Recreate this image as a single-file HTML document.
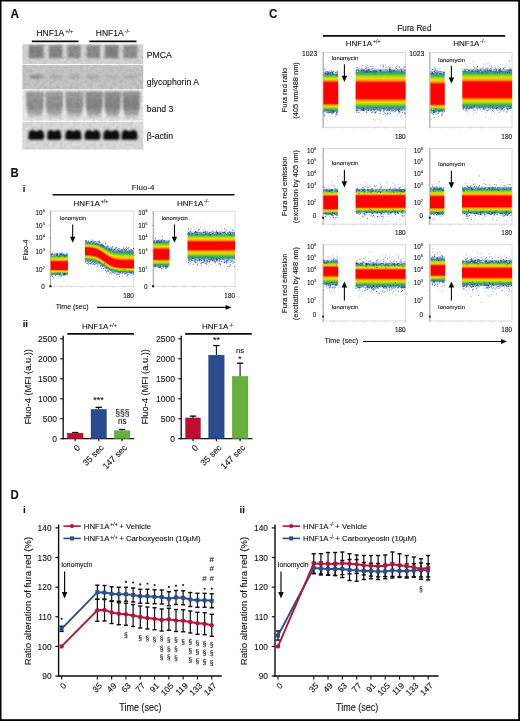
<!DOCTYPE html>
<html><head><meta charset="utf-8"><title>Figure</title>
<style>html,body{margin:0;padding:0;background:#fff;}svg{display:block;}
text{font-family:"Liberation Sans",sans-serif;}</style></head>
<body><svg width="520" height="721" viewBox="0 0 520 721" font-family="Liberation Sans, sans-serif">
<defs>
<linearGradient id="flow" x1="0" y1="0" x2="0" y2="1">
<stop offset="0" stop-color="#7088c8" stop-opacity="0.45"/>
<stop offset="0.05" stop-color="#3458a8" stop-opacity="0.8"/>
<stop offset="0.10" stop-color="#2a8a80"/>
<stop offset="0.15" stop-color="#3cbc3c"/>
<stop offset="0.20" stop-color="#a8d820"/>
<stop offset="0.24" stop-color="#f4e000"/>
<stop offset="0.28" stop-color="#ffa000"/>
<stop offset="0.32" stop-color="#ff3800"/>
<stop offset="0.36" stop-color="#ff0000"/>
<stop offset="0.63" stop-color="#ff0000"/>
<stop offset="0.68" stop-color="#ff4000"/>
<stop offset="0.72" stop-color="#ffa000"/>
<stop offset="0.77" stop-color="#f4e000"/>
<stop offset="0.82" stop-color="#a8d820"/>
<stop offset="0.87" stop-color="#3cbc3c"/>
<stop offset="0.92" stop-color="#2a8a80"/>
<stop offset="0.96" stop-color="#3458a8" stop-opacity="0.8"/>
<stop offset="1" stop-color="#7088c8" stop-opacity="0.45"/>
</linearGradient>
<linearGradient id="flowA" x1="0" y1="0" x2="0" y2="1">
<stop offset="0" stop-color="#7088c8" stop-opacity="0.45"/>
<stop offset="0.05" stop-color="#3458a8" stop-opacity="0.8"/>
<stop offset="0.09" stop-color="#2a8a80"/>
<stop offset="0.15" stop-color="#3cbc3c"/>
<stop offset="0.24" stop-color="#a8d820"/>
<stop offset="0.30" stop-color="#f4e000"/>
<stop offset="0.36" stop-color="#ffa000"/>
<stop offset="0.41" stop-color="#ff3800"/>
<stop offset="0.45" stop-color="#ff0000"/>
<stop offset="0.72" stop-color="#ff0000"/>
<stop offset="0.76" stop-color="#ff4000"/>
<stop offset="0.80" stop-color="#ffa000"/>
<stop offset="0.84" stop-color="#f4e000"/>
<stop offset="0.87" stop-color="#a8d820"/>
<stop offset="0.90" stop-color="#3cbc3c"/>
<stop offset="0.94" stop-color="#2a8a80"/>
<stop offset="0.97" stop-color="#3458a8" stop-opacity="0.8"/>
<stop offset="1" stop-color="#7088c8" stop-opacity="0.45"/>
</linearGradient>
<filter id="blur1" x="-20%" y="-20%" width="140%" height="140%"><feGaussianBlur stdDeviation="1.2"/></filter>
<filter id="blur2" x="-30%" y="-30%" width="160%" height="160%"><feGaussianBlur stdDeviation="2"/></filter>
<filter id="blur05"><feGaussianBlur stdDeviation="0.5"/></filter>
<filter id="noise" x="0" y="0" width="100%" height="100%"><feTurbulence type="fractalNoise" baseFrequency="0.3" numOctaves="2" seed="5"/><feColorMatrix type="matrix" values="0 0 0 0 0  0 0 0 0 0  0 0 0 0 0  0 0 1.4 0 -0.55"/><feGaussianBlur stdDeviation="0.35"/></filter>
<filter id="blur08" x="-20%" y="-40%" width="140%" height="180%"><feGaussianBlur stdDeviation="0.8"/></filter>
<linearGradient id="b3" x1="0" y1="0" x2="0" y2="1"><stop offset="0" stop-color="#a6a6a6"/><stop offset="0.2" stop-color="#989898"/><stop offset="0.55" stop-color="#8e8e8e"/><stop offset="0.75" stop-color="#a4a4a4"/><stop offset="0.9" stop-color="#cccccc"/><stop offset="1" stop-color="#e4e4e4"/></linearGradient>
<linearGradient id="b3d" x1="0" y1="0" x2="0" y2="1"><stop offset="0" stop-color="#9a9a9a"/><stop offset="0.2" stop-color="#8c8c8c"/><stop offset="0.55" stop-color="#828282"/><stop offset="0.75" stop-color="#9c9c9c"/><stop offset="0.9" stop-color="#c8c8c8"/><stop offset="1" stop-color="#e2e2e2"/></linearGradient>
<path id="sect" d="M575 1427Q769 1427 886.5 1356.5Q1004 1286 1031 1153L792 1128Q779 1190 722.0 1223.5Q665 1257 575 1257Q463 1257 410.5 1227.5Q358 1198 358 1133Q358 1092 385.0 1063.5Q412 1035 461.5 1013.5Q511 992 642 963Q810 925 890.5 884.0Q971 843 1013.5 782.0Q1056 721 1056 634Q1056 541 1001.0 469.5Q946 398 859 371Q1040 292 1040 115Q1040 -52 914.5 -140.5Q789 -229 556 -229Q333 -229 212.5 -159.5Q92 -90 53 59L290 96Q310 16 371.5 -21.5Q433 -59 556 -59Q678 -59 741.0 -26.5Q804 6 804 86Q804 134 780.0 164.0Q756 194 704.5 216.5Q653 239 468 283Q262 332 176.5 410.0Q91 488 91 600Q91 693 146.0 757.0Q201 821 304 856Q214 894 165.0 962.0Q116 1030 116 1114Q116 1263 233.5 1345.0Q351 1427 575 1427ZM818 600Q818 671 758.5 709.0Q699 747 526 780Q333 757 333 627Q333 586 360.0 558.5Q387 531 437.0 510.0Q487 489 623 458Q818 468 818 600Z"/>
<linearGradient id="g1" x1="0" y1="0" x2="0" y2="1"><stop offset="0.000" stop-color="#7088c8" stop-opacity="0.25"/><stop offset="0.047" stop-color="#3458a8" stop-opacity="0.6"/><stop offset="0.099" stop-color="#2a8a80" stop-opacity="0.92"/><stop offset="0.146" stop-color="#3cbc3c"/><stop offset="0.214" stop-color="#a8d820"/><stop offset="0.269" stop-color="#f0dc00"/><stop offset="0.332" stop-color="#ff9000"/><stop offset="0.372" stop-color="#ff3000"/><stop offset="0.396" stop-color="#ff0000"/><stop offset="0.733" stop-color="#ff0000"/><stop offset="0.749" stop-color="#ff3000"/><stop offset="0.776" stop-color="#ff9000"/><stop offset="0.819" stop-color="#f0dc00"/><stop offset="0.856" stop-color="#a8d820"/><stop offset="0.901" stop-color="#3cbc3c"/><stop offset="0.933" stop-color="#2a8a80" stop-opacity="0.92"/><stop offset="0.968" stop-color="#3458a8" stop-opacity="0.6"/><stop offset="1.000" stop-color="#7088c8" stop-opacity="0.25"/></linearGradient>
<linearGradient id="gs1" x1="0" y1="0" x2="0" y2="1"><stop offset="0.000" stop-color="#7088c8" stop-opacity="0.25"/><stop offset="0.039" stop-color="#3458a8" stop-opacity="0.6"/><stop offset="0.081" stop-color="#2a8a80" stop-opacity="0.92"/><stop offset="0.120" stop-color="#3cbc3c"/><stop offset="0.175" stop-color="#a8d820"/><stop offset="0.220" stop-color="#f0dc00"/><stop offset="0.272" stop-color="#ff9000"/><stop offset="0.305" stop-color="#ff3000"/><stop offset="0.324" stop-color="#ff0000"/><stop offset="0.649" stop-color="#ff0000"/><stop offset="0.670" stop-color="#ff3000"/><stop offset="0.705" stop-color="#ff9000"/><stop offset="0.762" stop-color="#f0dc00"/><stop offset="0.811" stop-color="#a8d820"/><stop offset="0.870" stop-color="#3cbc3c"/><stop offset="0.912" stop-color="#2a8a80" stop-opacity="0.92"/><stop offset="0.958" stop-color="#3458a8" stop-opacity="0.6"/><stop offset="1.000" stop-color="#7088c8" stop-opacity="0.25"/></linearGradient>
<linearGradient id="gs2" x1="0" y1="0" x2="0" y2="1"><stop offset="0.000" stop-color="#7088c8" stop-opacity="0.25"/><stop offset="0.041" stop-color="#3458a8" stop-opacity="0.6"/><stop offset="0.085" stop-color="#2a8a80" stop-opacity="0.92"/><stop offset="0.126" stop-color="#3cbc3c"/><stop offset="0.184" stop-color="#a8d820"/><stop offset="0.231" stop-color="#f0dc00"/><stop offset="0.286" stop-color="#ff9000"/><stop offset="0.320" stop-color="#ff3000"/><stop offset="0.340" stop-color="#ff0000"/><stop offset="0.658" stop-color="#ff0000"/><stop offset="0.679" stop-color="#ff3000"/><stop offset="0.713" stop-color="#ff9000"/><stop offset="0.768" stop-color="#f0dc00"/><stop offset="0.815" stop-color="#a8d820"/><stop offset="0.874" stop-color="#3cbc3c"/><stop offset="0.915" stop-color="#2a8a80" stop-opacity="0.92"/><stop offset="0.959" stop-color="#3458a8" stop-opacity="0.6"/><stop offset="1.000" stop-color="#7088c8" stop-opacity="0.25"/></linearGradient>
<linearGradient id="gs3" x1="0" y1="0" x2="0" y2="1"><stop offset="0.000" stop-color="#7088c8" stop-opacity="0.25"/><stop offset="0.038" stop-color="#3458a8" stop-opacity="0.6"/><stop offset="0.078" stop-color="#2a8a80" stop-opacity="0.92"/><stop offset="0.116" stop-color="#3cbc3c"/><stop offset="0.169" stop-color="#a8d820"/><stop offset="0.213" stop-color="#f0dc00"/><stop offset="0.263" stop-color="#ff9000"/><stop offset="0.294" stop-color="#ff3000"/><stop offset="0.313" stop-color="#ff0000"/><stop offset="0.632" stop-color="#ff0000"/><stop offset="0.654" stop-color="#ff3000"/><stop offset="0.691" stop-color="#ff9000"/><stop offset="0.750" stop-color="#f0dc00"/><stop offset="0.801" stop-color="#a8d820"/><stop offset="0.864" stop-color="#3cbc3c"/><stop offset="0.908" stop-color="#2a8a80" stop-opacity="0.92"/><stop offset="0.956" stop-color="#3458a8" stop-opacity="0.6"/><stop offset="1.000" stop-color="#7088c8" stop-opacity="0.25"/></linearGradient>
<linearGradient id="gs4" x1="0" y1="0" x2="0" y2="1"><stop offset="0.000" stop-color="#7088c8" stop-opacity="0.25"/><stop offset="0.040" stop-color="#3458a8" stop-opacity="0.6"/><stop offset="0.083" stop-color="#2a8a80" stop-opacity="0.92"/><stop offset="0.123" stop-color="#3cbc3c"/><stop offset="0.180" stop-color="#a8d820"/><stop offset="0.226" stop-color="#f0dc00"/><stop offset="0.280" stop-color="#ff9000"/><stop offset="0.313" stop-color="#ff3000"/><stop offset="0.333" stop-color="#ff0000"/><stop offset="0.642" stop-color="#ff0000"/><stop offset="0.664" stop-color="#ff3000"/><stop offset="0.700" stop-color="#ff9000"/><stop offset="0.757" stop-color="#f0dc00"/><stop offset="0.807" stop-color="#a8d820"/><stop offset="0.868" stop-color="#3cbc3c"/><stop offset="0.911" stop-color="#2a8a80" stop-opacity="0.92"/><stop offset="0.957" stop-color="#3458a8" stop-opacity="0.6"/><stop offset="1.000" stop-color="#7088c8" stop-opacity="0.25"/></linearGradient>
<linearGradient id="gs5" x1="0" y1="0" x2="0" y2="1"><stop offset="0.000" stop-color="#7088c8" stop-opacity="0.25"/><stop offset="0.038" stop-color="#3458a8" stop-opacity="0.6"/><stop offset="0.079" stop-color="#2a8a80" stop-opacity="0.92"/><stop offset="0.116" stop-color="#3cbc3c"/><stop offset="0.170" stop-color="#a8d820"/><stop offset="0.214" stop-color="#f0dc00"/><stop offset="0.264" stop-color="#ff9000"/><stop offset="0.296" stop-color="#ff3000"/><stop offset="0.314" stop-color="#ff0000"/><stop offset="0.636" stop-color="#ff0000"/><stop offset="0.658" stop-color="#ff3000"/><stop offset="0.694" stop-color="#ff9000"/><stop offset="0.752" stop-color="#f0dc00"/><stop offset="0.803" stop-color="#a8d820"/><stop offset="0.865" stop-color="#3cbc3c"/><stop offset="0.909" stop-color="#2a8a80" stop-opacity="0.92"/><stop offset="0.956" stop-color="#3458a8" stop-opacity="0.6"/><stop offset="1.000" stop-color="#7088c8" stop-opacity="0.25"/></linearGradient>
<linearGradient id="gs6" x1="0" y1="0" x2="0" y2="1"><stop offset="0.000" stop-color="#7088c8" stop-opacity="0.25"/><stop offset="0.040" stop-color="#3458a8" stop-opacity="0.6"/><stop offset="0.083" stop-color="#2a8a80" stop-opacity="0.92"/><stop offset="0.123" stop-color="#3cbc3c"/><stop offset="0.180" stop-color="#a8d820"/><stop offset="0.227" stop-color="#f0dc00"/><stop offset="0.280" stop-color="#ff9000"/><stop offset="0.314" stop-color="#ff3000"/><stop offset="0.334" stop-color="#ff0000"/><stop offset="0.648" stop-color="#ff0000"/><stop offset="0.669" stop-color="#ff3000"/><stop offset="0.705" stop-color="#ff9000"/><stop offset="0.761" stop-color="#f0dc00"/><stop offset="0.810" stop-color="#a8d820"/><stop offset="0.870" stop-color="#3cbc3c"/><stop offset="0.912" stop-color="#2a8a80" stop-opacity="0.92"/><stop offset="0.958" stop-color="#3458a8" stop-opacity="0.6"/><stop offset="1.000" stop-color="#7088c8" stop-opacity="0.25"/></linearGradient>
<linearGradient id="gs7" x1="0" y1="0" x2="0" y2="1"><stop offset="0.000" stop-color="#7088c8" stop-opacity="0.25"/><stop offset="0.042" stop-color="#3458a8" stop-opacity="0.6"/><stop offset="0.087" stop-color="#2a8a80" stop-opacity="0.92"/><stop offset="0.129" stop-color="#3cbc3c"/><stop offset="0.188" stop-color="#a8d820"/><stop offset="0.236" stop-color="#f0dc00"/><stop offset="0.292" stop-color="#ff9000"/><stop offset="0.327" stop-color="#ff3000"/><stop offset="0.348" stop-color="#ff0000"/><stop offset="0.666" stop-color="#ff0000"/><stop offset="0.686" stop-color="#ff3000"/><stop offset="0.719" stop-color="#ff9000"/><stop offset="0.773" stop-color="#f0dc00"/><stop offset="0.820" stop-color="#a8d820"/><stop offset="0.876" stop-color="#3cbc3c"/><stop offset="0.916" stop-color="#2a8a80" stop-opacity="0.92"/><stop offset="0.960" stop-color="#3458a8" stop-opacity="0.6"/><stop offset="1.000" stop-color="#7088c8" stop-opacity="0.25"/></linearGradient>
<linearGradient id="gs8" x1="0" y1="0" x2="0" y2="1"><stop offset="0.000" stop-color="#7088c8" stop-opacity="0.25"/><stop offset="0.038" stop-color="#3458a8" stop-opacity="0.6"/><stop offset="0.080" stop-color="#2a8a80" stop-opacity="0.92"/><stop offset="0.118" stop-color="#3cbc3c"/><stop offset="0.173" stop-color="#a8d820"/><stop offset="0.218" stop-color="#f0dc00"/><stop offset="0.269" stop-color="#ff9000"/><stop offset="0.301" stop-color="#ff3000"/><stop offset="0.320" stop-color="#ff0000"/><stop offset="0.640" stop-color="#ff0000"/><stop offset="0.662" stop-color="#ff3000"/><stop offset="0.698" stop-color="#ff9000"/><stop offset="0.755" stop-color="#f0dc00"/><stop offset="0.806" stop-color="#a8d820"/><stop offset="0.867" stop-color="#3cbc3c"/><stop offset="0.910" stop-color="#2a8a80" stop-opacity="0.92"/><stop offset="0.957" stop-color="#3458a8" stop-opacity="0.6"/><stop offset="1.000" stop-color="#7088c8" stop-opacity="0.25"/></linearGradient>
<linearGradient id="gs9" x1="0" y1="0" x2="0" y2="1"><stop offset="0.000" stop-color="#7088c8" stop-opacity="0.25"/><stop offset="0.040" stop-color="#3458a8" stop-opacity="0.6"/><stop offset="0.083" stop-color="#2a8a80" stop-opacity="0.92"/><stop offset="0.122" stop-color="#3cbc3c"/><stop offset="0.178" stop-color="#a8d820"/><stop offset="0.225" stop-color="#f0dc00"/><stop offset="0.277" stop-color="#ff9000"/><stop offset="0.311" stop-color="#ff3000"/><stop offset="0.330" stop-color="#ff0000"/><stop offset="0.641" stop-color="#ff0000"/><stop offset="0.663" stop-color="#ff3000"/><stop offset="0.698" stop-color="#ff9000"/><stop offset="0.756" stop-color="#f0dc00"/><stop offset="0.806" stop-color="#a8d820"/><stop offset="0.867" stop-color="#3cbc3c"/><stop offset="0.910" stop-color="#2a8a80" stop-opacity="0.92"/><stop offset="0.957" stop-color="#3458a8" stop-opacity="0.6"/><stop offset="1.000" stop-color="#7088c8" stop-opacity="0.25"/></linearGradient>
<linearGradient id="gs10" x1="0" y1="0" x2="0" y2="1"><stop offset="0.000" stop-color="#7088c8" stop-opacity="0.25"/><stop offset="0.040" stop-color="#3458a8" stop-opacity="0.6"/><stop offset="0.084" stop-color="#2a8a80" stop-opacity="0.92"/><stop offset="0.124" stop-color="#3cbc3c"/><stop offset="0.182" stop-color="#a8d820"/><stop offset="0.229" stop-color="#f0dc00"/><stop offset="0.283" stop-color="#ff9000"/><stop offset="0.316" stop-color="#ff3000"/><stop offset="0.336" stop-color="#ff0000"/><stop offset="0.646" stop-color="#ff0000"/><stop offset="0.667" stop-color="#ff3000"/><stop offset="0.703" stop-color="#ff9000"/><stop offset="0.759" stop-color="#f0dc00"/><stop offset="0.809" stop-color="#a8d820"/><stop offset="0.869" stop-color="#3cbc3c"/><stop offset="0.912" stop-color="#2a8a80" stop-opacity="0.92"/><stop offset="0.958" stop-color="#3458a8" stop-opacity="0.6"/><stop offset="1.000" stop-color="#7088c8" stop-opacity="0.25"/></linearGradient>
<linearGradient id="gs11" x1="0" y1="0" x2="0" y2="1"><stop offset="0.000" stop-color="#7088c8" stop-opacity="0.25"/><stop offset="0.041" stop-color="#3458a8" stop-opacity="0.6"/><stop offset="0.085" stop-color="#2a8a80" stop-opacity="0.92"/><stop offset="0.125" stop-color="#3cbc3c"/><stop offset="0.183" stop-color="#a8d820"/><stop offset="0.230" stop-color="#f0dc00"/><stop offset="0.284" stop-color="#ff9000"/><stop offset="0.318" stop-color="#ff3000"/><stop offset="0.339" stop-color="#ff0000"/><stop offset="0.660" stop-color="#ff0000"/><stop offset="0.680" stop-color="#ff3000"/><stop offset="0.714" stop-color="#ff9000"/><stop offset="0.769" stop-color="#f0dc00"/><stop offset="0.816" stop-color="#a8d820"/><stop offset="0.874" stop-color="#3cbc3c"/><stop offset="0.915" stop-color="#2a8a80" stop-opacity="0.92"/><stop offset="0.959" stop-color="#3458a8" stop-opacity="0.6"/><stop offset="1.000" stop-color="#7088c8" stop-opacity="0.25"/></linearGradient>
<linearGradient id="gs12" x1="0" y1="0" x2="0" y2="1"><stop offset="0.000" stop-color="#7088c8" stop-opacity="0.25"/><stop offset="0.043" stop-color="#3458a8" stop-opacity="0.6"/><stop offset="0.089" stop-color="#2a8a80" stop-opacity="0.92"/><stop offset="0.132" stop-color="#3cbc3c"/><stop offset="0.192" stop-color="#a8d820"/><stop offset="0.242" stop-color="#f0dc00"/><stop offset="0.299" stop-color="#ff9000"/><stop offset="0.335" stop-color="#ff3000"/><stop offset="0.356" stop-color="#ff0000"/><stop offset="0.669" stop-color="#ff0000"/><stop offset="0.688" stop-color="#ff3000"/><stop offset="0.722" stop-color="#ff9000"/><stop offset="0.775" stop-color="#f0dc00"/><stop offset="0.821" stop-color="#a8d820"/><stop offset="0.877" stop-color="#3cbc3c"/><stop offset="0.917" stop-color="#2a8a80" stop-opacity="0.92"/><stop offset="0.960" stop-color="#3458a8" stop-opacity="0.6"/><stop offset="1.000" stop-color="#7088c8" stop-opacity="0.25"/></linearGradient>
<linearGradient id="gs13" x1="0" y1="0" x2="0" y2="1"><stop offset="0.000" stop-color="#7088c8" stop-opacity="0.25"/><stop offset="0.043" stop-color="#3458a8" stop-opacity="0.6"/><stop offset="0.089" stop-color="#2a8a80" stop-opacity="0.92"/><stop offset="0.132" stop-color="#3cbc3c"/><stop offset="0.193" stop-color="#a8d820"/><stop offset="0.243" stop-color="#f0dc00"/><stop offset="0.300" stop-color="#ff9000"/><stop offset="0.336" stop-color="#ff3000"/><stop offset="0.358" stop-color="#ff0000"/><stop offset="0.665" stop-color="#ff0000"/><stop offset="0.685" stop-color="#ff3000"/><stop offset="0.719" stop-color="#ff9000"/><stop offset="0.772" stop-color="#f0dc00"/><stop offset="0.819" stop-color="#a8d820"/><stop offset="0.876" stop-color="#3cbc3c"/><stop offset="0.916" stop-color="#2a8a80" stop-opacity="0.92"/><stop offset="0.960" stop-color="#3458a8" stop-opacity="0.6"/><stop offset="1.000" stop-color="#7088c8" stop-opacity="0.25"/></linearGradient>
<linearGradient id="gs14" x1="0" y1="0" x2="0" y2="1"><stop offset="0.000" stop-color="#7088c8" stop-opacity="0.25"/><stop offset="0.044" stop-color="#3458a8" stop-opacity="0.6"/><stop offset="0.091" stop-color="#2a8a80" stop-opacity="0.92"/><stop offset="0.135" stop-color="#3cbc3c"/><stop offset="0.197" stop-color="#a8d820"/><stop offset="0.248" stop-color="#f0dc00"/><stop offset="0.307" stop-color="#ff9000"/><stop offset="0.343" stop-color="#ff3000"/><stop offset="0.365" stop-color="#ff0000"/><stop offset="0.673" stop-color="#ff0000"/><stop offset="0.693" stop-color="#ff3000"/><stop offset="0.726" stop-color="#ff9000"/><stop offset="0.778" stop-color="#f0dc00"/><stop offset="0.824" stop-color="#a8d820"/><stop offset="0.879" stop-color="#3cbc3c"/><stop offset="0.918" stop-color="#2a8a80" stop-opacity="0.92"/><stop offset="0.961" stop-color="#3458a8" stop-opacity="0.6"/><stop offset="1.000" stop-color="#7088c8" stop-opacity="0.25"/></linearGradient>
<linearGradient id="gs15" x1="0" y1="0" x2="0" y2="1"><stop offset="0.000" stop-color="#7088c8" stop-opacity="0.25"/><stop offset="0.044" stop-color="#3458a8" stop-opacity="0.6"/><stop offset="0.092" stop-color="#2a8a80" stop-opacity="0.92"/><stop offset="0.136" stop-color="#3cbc3c"/><stop offset="0.199" stop-color="#a8d820"/><stop offset="0.250" stop-color="#f0dc00"/><stop offset="0.309" stop-color="#ff9000"/><stop offset="0.346" stop-color="#ff3000"/><stop offset="0.368" stop-color="#ff0000"/><stop offset="0.668" stop-color="#ff0000"/><stop offset="0.688" stop-color="#ff3000"/><stop offset="0.721" stop-color="#ff9000"/><stop offset="0.774" stop-color="#f0dc00"/><stop offset="0.821" stop-color="#a8d820"/><stop offset="0.877" stop-color="#3cbc3c"/><stop offset="0.917" stop-color="#2a8a80" stop-opacity="0.92"/><stop offset="0.960" stop-color="#3458a8" stop-opacity="0.6"/><stop offset="1.000" stop-color="#7088c8" stop-opacity="0.25"/></linearGradient>
<linearGradient id="gs16" x1="0" y1="0" x2="0" y2="1"><stop offset="0.000" stop-color="#7088c8" stop-opacity="0.25"/><stop offset="0.045" stop-color="#3458a8" stop-opacity="0.6"/><stop offset="0.094" stop-color="#2a8a80" stop-opacity="0.92"/><stop offset="0.139" stop-color="#3cbc3c"/><stop offset="0.203" stop-color="#a8d820"/><stop offset="0.256" stop-color="#f0dc00"/><stop offset="0.316" stop-color="#ff9000"/><stop offset="0.354" stop-color="#ff3000"/><stop offset="0.377" stop-color="#ff0000"/><stop offset="0.682" stop-color="#ff0000"/><stop offset="0.701" stop-color="#ff3000"/><stop offset="0.733" stop-color="#ff9000"/><stop offset="0.784" stop-color="#f0dc00"/><stop offset="0.828" stop-color="#a8d820"/><stop offset="0.882" stop-color="#3cbc3c"/><stop offset="0.920" stop-color="#2a8a80" stop-opacity="0.92"/><stop offset="0.962" stop-color="#3458a8" stop-opacity="0.6"/><stop offset="1.000" stop-color="#7088c8" stop-opacity="0.25"/></linearGradient>
<linearGradient id="gs17" x1="0" y1="0" x2="0" y2="1"><stop offset="0.000" stop-color="#7088c8" stop-opacity="0.25"/><stop offset="0.045" stop-color="#3458a8" stop-opacity="0.6"/><stop offset="0.093" stop-color="#2a8a80" stop-opacity="0.92"/><stop offset="0.138" stop-color="#3cbc3c"/><stop offset="0.202" stop-color="#a8d820"/><stop offset="0.254" stop-color="#f0dc00"/><stop offset="0.314" stop-color="#ff9000"/><stop offset="0.351" stop-color="#ff3000"/><stop offset="0.373" stop-color="#ff0000"/><stop offset="0.674" stop-color="#ff0000"/><stop offset="0.693" stop-color="#ff3000"/><stop offset="0.726" stop-color="#ff9000"/><stop offset="0.778" stop-color="#f0dc00"/><stop offset="0.824" stop-color="#a8d820"/><stop offset="0.879" stop-color="#3cbc3c"/><stop offset="0.918" stop-color="#2a8a80" stop-opacity="0.92"/><stop offset="0.961" stop-color="#3458a8" stop-opacity="0.6"/><stop offset="1.000" stop-color="#7088c8" stop-opacity="0.25"/></linearGradient>
<linearGradient id="gs18" x1="0" y1="0" x2="0" y2="1"><stop offset="0.000" stop-color="#7088c8" stop-opacity="0.25"/><stop offset="0.046" stop-color="#3458a8" stop-opacity="0.6"/><stop offset="0.096" stop-color="#2a8a80" stop-opacity="0.92"/><stop offset="0.143" stop-color="#3cbc3c"/><stop offset="0.208" stop-color="#a8d820"/><stop offset="0.262" stop-color="#f0dc00"/><stop offset="0.324" stop-color="#ff9000"/><stop offset="0.362" stop-color="#ff3000"/><stop offset="0.385" stop-color="#ff0000"/><stop offset="0.682" stop-color="#ff0000"/><stop offset="0.701" stop-color="#ff3000"/><stop offset="0.733" stop-color="#ff9000"/><stop offset="0.784" stop-color="#f0dc00"/><stop offset="0.828" stop-color="#a8d820"/><stop offset="0.882" stop-color="#3cbc3c"/><stop offset="0.920" stop-color="#2a8a80" stop-opacity="0.92"/><stop offset="0.962" stop-color="#3458a8" stop-opacity="0.6"/><stop offset="1.000" stop-color="#7088c8" stop-opacity="0.25"/></linearGradient>
<linearGradient id="gs19" x1="0" y1="0" x2="0" y2="1"><stop offset="0.000" stop-color="#7088c8" stop-opacity="0.25"/><stop offset="0.048" stop-color="#3458a8" stop-opacity="0.6"/><stop offset="0.100" stop-color="#2a8a80" stop-opacity="0.92"/><stop offset="0.147" stop-color="#3cbc3c"/><stop offset="0.215" stop-color="#a8d820"/><stop offset="0.271" stop-color="#f0dc00"/><stop offset="0.334" stop-color="#ff9000"/><stop offset="0.374" stop-color="#ff3000"/><stop offset="0.398" stop-color="#ff0000"/><stop offset="0.697" stop-color="#ff0000"/><stop offset="0.715" stop-color="#ff3000"/><stop offset="0.746" stop-color="#ff9000"/><stop offset="0.794" stop-color="#f0dc00"/><stop offset="0.837" stop-color="#a8d820"/><stop offset="0.888" stop-color="#3cbc3c"/><stop offset="0.924" stop-color="#2a8a80" stop-opacity="0.92"/><stop offset="0.964" stop-color="#3458a8" stop-opacity="0.6"/><stop offset="1.000" stop-color="#7088c8" stop-opacity="0.25"/></linearGradient>
<linearGradient id="gs20" x1="0" y1="0" x2="0" y2="1"><stop offset="0.000" stop-color="#7088c8" stop-opacity="0.25"/><stop offset="0.050" stop-color="#3458a8" stop-opacity="0.6"/><stop offset="0.104" stop-color="#2a8a80" stop-opacity="0.92"/><stop offset="0.153" stop-color="#3cbc3c"/><stop offset="0.224" stop-color="#a8d820"/><stop offset="0.282" stop-color="#f0dc00"/><stop offset="0.348" stop-color="#ff9000"/><stop offset="0.389" stop-color="#ff3000"/><stop offset="0.414" stop-color="#ff0000"/><stop offset="0.717" stop-color="#ff0000"/><stop offset="0.734" stop-color="#ff3000"/><stop offset="0.762" stop-color="#ff9000"/><stop offset="0.808" stop-color="#f0dc00"/><stop offset="0.847" stop-color="#a8d820"/><stop offset="0.895" stop-color="#3cbc3c"/><stop offset="0.929" stop-color="#2a8a80" stop-opacity="0.92"/><stop offset="0.966" stop-color="#3458a8" stop-opacity="0.6"/><stop offset="1.000" stop-color="#7088c8" stop-opacity="0.25"/></linearGradient>
<linearGradient id="gs21" x1="0" y1="0" x2="0" y2="1"><stop offset="0.000" stop-color="#7088c8" stop-opacity="0.25"/><stop offset="0.051" stop-color="#3458a8" stop-opacity="0.6"/><stop offset="0.106" stop-color="#2a8a80" stop-opacity="0.92"/><stop offset="0.156" stop-color="#3cbc3c"/><stop offset="0.228" stop-color="#a8d820"/><stop offset="0.287" stop-color="#f0dc00"/><stop offset="0.355" stop-color="#ff9000"/><stop offset="0.397" stop-color="#ff3000"/><stop offset="0.423" stop-color="#ff0000"/><stop offset="0.720" stop-color="#ff0000"/><stop offset="0.737" stop-color="#ff3000"/><stop offset="0.765" stop-color="#ff9000"/><stop offset="0.810" stop-color="#f0dc00"/><stop offset="0.849" stop-color="#a8d820"/><stop offset="0.897" stop-color="#3cbc3c"/><stop offset="0.930" stop-color="#2a8a80" stop-opacity="0.92"/><stop offset="0.966" stop-color="#3458a8" stop-opacity="0.6"/><stop offset="1.000" stop-color="#7088c8" stop-opacity="0.25"/></linearGradient>
<linearGradient id="gs22" x1="0" y1="0" x2="0" y2="1"><stop offset="0.000" stop-color="#7088c8" stop-opacity="0.25"/><stop offset="0.052" stop-color="#3458a8" stop-opacity="0.6"/><stop offset="0.108" stop-color="#2a8a80" stop-opacity="0.92"/><stop offset="0.159" stop-color="#3cbc3c"/><stop offset="0.233" stop-color="#a8d820"/><stop offset="0.293" stop-color="#f0dc00"/><stop offset="0.362" stop-color="#ff9000"/><stop offset="0.405" stop-color="#ff3000"/><stop offset="0.431" stop-color="#ff0000"/><stop offset="0.715" stop-color="#ff0000"/><stop offset="0.733" stop-color="#ff3000"/><stop offset="0.761" stop-color="#ff9000"/><stop offset="0.807" stop-color="#f0dc00"/><stop offset="0.846" stop-color="#a8d820"/><stop offset="0.895" stop-color="#3cbc3c"/><stop offset="0.929" stop-color="#2a8a80" stop-opacity="0.92"/><stop offset="0.966" stop-color="#3458a8" stop-opacity="0.6"/><stop offset="1.000" stop-color="#7088c8" stop-opacity="0.25"/></linearGradient>
<linearGradient id="gs23" x1="0" y1="0" x2="0" y2="1"><stop offset="0.000" stop-color="#7088c8" stop-opacity="0.25"/><stop offset="0.053" stop-color="#3458a8" stop-opacity="0.6"/><stop offset="0.110" stop-color="#2a8a80" stop-opacity="0.92"/><stop offset="0.163" stop-color="#3cbc3c"/><stop offset="0.238" stop-color="#a8d820"/><stop offset="0.299" stop-color="#f0dc00"/><stop offset="0.370" stop-color="#ff9000"/><stop offset="0.414" stop-color="#ff3000"/><stop offset="0.440" stop-color="#ff0000"/><stop offset="0.728" stop-color="#ff0000"/><stop offset="0.744" stop-color="#ff3000"/><stop offset="0.771" stop-color="#ff9000"/><stop offset="0.815" stop-color="#f0dc00"/><stop offset="0.853" stop-color="#a8d820"/><stop offset="0.899" stop-color="#3cbc3c"/><stop offset="0.932" stop-color="#2a8a80" stop-opacity="0.92"/><stop offset="0.967" stop-color="#3458a8" stop-opacity="0.6"/><stop offset="1.000" stop-color="#7088c8" stop-opacity="0.25"/></linearGradient>
<linearGradient id="gs24" x1="0" y1="0" x2="0" y2="1"><stop offset="0.000" stop-color="#7088c8" stop-opacity="0.25"/><stop offset="0.052" stop-color="#3458a8" stop-opacity="0.6"/><stop offset="0.109" stop-color="#2a8a80" stop-opacity="0.92"/><stop offset="0.161" stop-color="#3cbc3c"/><stop offset="0.235" stop-color="#a8d820"/><stop offset="0.296" stop-color="#f0dc00"/><stop offset="0.366" stop-color="#ff9000"/><stop offset="0.409" stop-color="#ff3000"/><stop offset="0.435" stop-color="#ff0000"/><stop offset="0.726" stop-color="#ff0000"/><stop offset="0.742" stop-color="#ff3000"/><stop offset="0.770" stop-color="#ff9000"/><stop offset="0.814" stop-color="#f0dc00"/><stop offset="0.852" stop-color="#a8d820"/><stop offset="0.899" stop-color="#3cbc3c"/><stop offset="0.931" stop-color="#2a8a80" stop-opacity="0.92"/><stop offset="0.967" stop-color="#3458a8" stop-opacity="0.6"/><stop offset="1.000" stop-color="#7088c8" stop-opacity="0.25"/></linearGradient>
<linearGradient id="gs25" x1="0" y1="0" x2="0" y2="1"><stop offset="0.000" stop-color="#7088c8" stop-opacity="0.25"/><stop offset="0.054" stop-color="#3458a8" stop-opacity="0.6"/><stop offset="0.113" stop-color="#2a8a80" stop-opacity="0.92"/><stop offset="0.167" stop-color="#3cbc3c"/><stop offset="0.243" stop-color="#a8d820"/><stop offset="0.306" stop-color="#f0dc00"/><stop offset="0.378" stop-color="#ff9000"/><stop offset="0.423" stop-color="#ff3000"/><stop offset="0.450" stop-color="#ff0000"/><stop offset="0.736" stop-color="#ff0000"/><stop offset="0.751" stop-color="#ff3000"/><stop offset="0.778" stop-color="#ff9000"/><stop offset="0.820" stop-color="#f0dc00"/><stop offset="0.857" stop-color="#a8d820"/><stop offset="0.902" stop-color="#3cbc3c"/><stop offset="0.934" stop-color="#2a8a80" stop-opacity="0.92"/><stop offset="0.968" stop-color="#3458a8" stop-opacity="0.6"/><stop offset="1.000" stop-color="#7088c8" stop-opacity="0.25"/></linearGradient>
<linearGradient id="gs26" x1="0" y1="0" x2="0" y2="1"><stop offset="0.000" stop-color="#7088c8" stop-opacity="0.25"/><stop offset="0.054" stop-color="#3458a8" stop-opacity="0.6"/><stop offset="0.112" stop-color="#2a8a80" stop-opacity="0.92"/><stop offset="0.166" stop-color="#3cbc3c"/><stop offset="0.242" stop-color="#a8d820"/><stop offset="0.304" stop-color="#f0dc00"/><stop offset="0.376" stop-color="#ff9000"/><stop offset="0.421" stop-color="#ff3000"/><stop offset="0.448" stop-color="#ff0000"/><stop offset="0.731" stop-color="#ff0000"/><stop offset="0.747" stop-color="#ff3000"/><stop offset="0.774" stop-color="#ff9000"/><stop offset="0.817" stop-color="#f0dc00"/><stop offset="0.855" stop-color="#a8d820"/><stop offset="0.900" stop-color="#3cbc3c"/><stop offset="0.933" stop-color="#2a8a80" stop-opacity="0.92"/><stop offset="0.968" stop-color="#3458a8" stop-opacity="0.6"/><stop offset="1.000" stop-color="#7088c8" stop-opacity="0.25"/></linearGradient>
<linearGradient id="gs27" x1="0" y1="0" x2="0" y2="1"><stop offset="0.000" stop-color="#7088c8" stop-opacity="0.25"/><stop offset="0.056" stop-color="#3458a8" stop-opacity="0.6"/><stop offset="0.116" stop-color="#2a8a80" stop-opacity="0.92"/><stop offset="0.172" stop-color="#3cbc3c"/><stop offset="0.251" stop-color="#a8d820"/><stop offset="0.316" stop-color="#f0dc00"/><stop offset="0.390" stop-color="#ff9000"/><stop offset="0.436" stop-color="#ff3000"/><stop offset="0.464" stop-color="#ff0000"/><stop offset="0.744" stop-color="#ff0000"/><stop offset="0.760" stop-color="#ff3000"/><stop offset="0.785" stop-color="#ff9000"/><stop offset="0.826" stop-color="#f0dc00"/><stop offset="0.862" stop-color="#a8d820"/><stop offset="0.905" stop-color="#3cbc3c"/><stop offset="0.936" stop-color="#2a8a80" stop-opacity="0.92"/><stop offset="0.969" stop-color="#3458a8" stop-opacity="0.6"/><stop offset="1.000" stop-color="#7088c8" stop-opacity="0.25"/></linearGradient>
<linearGradient id="gs28" x1="0" y1="0" x2="0" y2="1"><stop offset="0.000" stop-color="#7088c8" stop-opacity="0.25"/><stop offset="0.056" stop-color="#3458a8" stop-opacity="0.6"/><stop offset="0.118" stop-color="#2a8a80" stop-opacity="0.92"/><stop offset="0.174" stop-color="#3cbc3c"/><stop offset="0.254" stop-color="#a8d820"/><stop offset="0.320" stop-color="#f0dc00"/><stop offset="0.395" stop-color="#ff9000"/><stop offset="0.442" stop-color="#ff3000"/><stop offset="0.470" stop-color="#ff0000"/><stop offset="0.753" stop-color="#ff0000"/><stop offset="0.768" stop-color="#ff3000"/><stop offset="0.793" stop-color="#ff9000"/><stop offset="0.832" stop-color="#f0dc00"/><stop offset="0.867" stop-color="#a8d820"/><stop offset="0.909" stop-color="#3cbc3c"/><stop offset="0.938" stop-color="#2a8a80" stop-opacity="0.92"/><stop offset="0.970" stop-color="#3458a8" stop-opacity="0.6"/><stop offset="1.000" stop-color="#7088c8" stop-opacity="0.25"/></linearGradient>
<linearGradient id="gs29" x1="0" y1="0" x2="0" y2="1"><stop offset="0.000" stop-color="#7088c8" stop-opacity="0.25"/><stop offset="0.055" stop-color="#3458a8" stop-opacity="0.6"/><stop offset="0.115" stop-color="#2a8a80" stop-opacity="0.92"/><stop offset="0.170" stop-color="#3cbc3c"/><stop offset="0.249" stop-color="#a8d820"/><stop offset="0.313" stop-color="#f0dc00"/><stop offset="0.387" stop-color="#ff9000"/><stop offset="0.433" stop-color="#ff3000"/><stop offset="0.461" stop-color="#ff0000"/><stop offset="0.746" stop-color="#ff0000"/><stop offset="0.761" stop-color="#ff3000"/><stop offset="0.786" stop-color="#ff9000"/><stop offset="0.827" stop-color="#f0dc00"/><stop offset="0.863" stop-color="#a8d820"/><stop offset="0.906" stop-color="#3cbc3c"/><stop offset="0.936" stop-color="#2a8a80" stop-opacity="0.92"/><stop offset="0.969" stop-color="#3458a8" stop-opacity="0.6"/><stop offset="1.000" stop-color="#7088c8" stop-opacity="0.25"/></linearGradient>
<linearGradient id="gs30" x1="0" y1="0" x2="0" y2="1"><stop offset="0.000" stop-color="#7088c8" stop-opacity="0.25"/><stop offset="0.056" stop-color="#3458a8" stop-opacity="0.6"/><stop offset="0.116" stop-color="#2a8a80" stop-opacity="0.92"/><stop offset="0.171" stop-color="#3cbc3c"/><stop offset="0.250" stop-color="#a8d820"/><stop offset="0.315" stop-color="#f0dc00"/><stop offset="0.389" stop-color="#ff9000"/><stop offset="0.436" stop-color="#ff3000"/><stop offset="0.463" stop-color="#ff0000"/><stop offset="0.743" stop-color="#ff0000"/><stop offset="0.759" stop-color="#ff3000"/><stop offset="0.784" stop-color="#ff9000"/><stop offset="0.825" stop-color="#f0dc00"/><stop offset="0.861" stop-color="#a8d820"/><stop offset="0.905" stop-color="#3cbc3c"/><stop offset="0.936" stop-color="#2a8a80" stop-opacity="0.92"/><stop offset="0.969" stop-color="#3458a8" stop-opacity="0.6"/><stop offset="1.000" stop-color="#7088c8" stop-opacity="0.25"/></linearGradient>
<linearGradient id="gs31" x1="0" y1="0" x2="0" y2="1"><stop offset="0.000" stop-color="#7088c8" stop-opacity="0.25"/><stop offset="0.056" stop-color="#3458a8" stop-opacity="0.6"/><stop offset="0.116" stop-color="#2a8a80" stop-opacity="0.92"/><stop offset="0.172" stop-color="#3cbc3c"/><stop offset="0.251" stop-color="#a8d820"/><stop offset="0.316" stop-color="#f0dc00"/><stop offset="0.390" stop-color="#ff9000"/><stop offset="0.437" stop-color="#ff3000"/><stop offset="0.464" stop-color="#ff0000"/><stop offset="0.750" stop-color="#ff0000"/><stop offset="0.765" stop-color="#ff3000"/><stop offset="0.790" stop-color="#ff9000"/><stop offset="0.830" stop-color="#f0dc00"/><stop offset="0.865" stop-color="#a8d820"/><stop offset="0.908" stop-color="#3cbc3c"/><stop offset="0.938" stop-color="#2a8a80" stop-opacity="0.92"/><stop offset="0.970" stop-color="#3458a8" stop-opacity="0.6"/><stop offset="1.000" stop-color="#7088c8" stop-opacity="0.25"/></linearGradient>
<linearGradient id="gs32" x1="0" y1="0" x2="0" y2="1"><stop offset="0.000" stop-color="#7088c8" stop-opacity="0.25"/><stop offset="0.057" stop-color="#3458a8" stop-opacity="0.6"/><stop offset="0.118" stop-color="#2a8a80" stop-opacity="0.92"/><stop offset="0.174" stop-color="#3cbc3c"/><stop offset="0.254" stop-color="#a8d820"/><stop offset="0.320" stop-color="#f0dc00"/><stop offset="0.396" stop-color="#ff9000"/><stop offset="0.443" stop-color="#ff3000"/><stop offset="0.471" stop-color="#ff0000"/><stop offset="0.752" stop-color="#ff0000"/><stop offset="0.767" stop-color="#ff3000"/><stop offset="0.792" stop-color="#ff9000"/><stop offset="0.832" stop-color="#f0dc00"/><stop offset="0.866" stop-color="#a8d820"/><stop offset="0.908" stop-color="#3cbc3c"/><stop offset="0.938" stop-color="#2a8a80" stop-opacity="0.92"/><stop offset="0.970" stop-color="#3458a8" stop-opacity="0.6"/><stop offset="1.000" stop-color="#7088c8" stop-opacity="0.25"/></linearGradient>
<linearGradient id="gs33" x1="0" y1="0" x2="0" y2="1"><stop offset="0.000" stop-color="#7088c8" stop-opacity="0.25"/><stop offset="0.057" stop-color="#3458a8" stop-opacity="0.6"/><stop offset="0.118" stop-color="#2a8a80" stop-opacity="0.92"/><stop offset="0.174" stop-color="#3cbc3c"/><stop offset="0.255" stop-color="#a8d820"/><stop offset="0.320" stop-color="#f0dc00"/><stop offset="0.396" stop-color="#ff9000"/><stop offset="0.443" stop-color="#ff3000"/><stop offset="0.471" stop-color="#ff0000"/><stop offset="0.750" stop-color="#ff0000"/><stop offset="0.765" stop-color="#ff3000"/><stop offset="0.790" stop-color="#ff9000"/><stop offset="0.830" stop-color="#f0dc00"/><stop offset="0.865" stop-color="#a8d820"/><stop offset="0.907" stop-color="#3cbc3c"/><stop offset="0.937" stop-color="#2a8a80" stop-opacity="0.92"/><stop offset="0.970" stop-color="#3458a8" stop-opacity="0.6"/><stop offset="1.000" stop-color="#7088c8" stop-opacity="0.25"/></linearGradient>
<linearGradient id="gs34" x1="0" y1="0" x2="0" y2="1"><stop offset="0.000" stop-color="#7088c8" stop-opacity="0.25"/><stop offset="0.057" stop-color="#3458a8" stop-opacity="0.6"/><stop offset="0.119" stop-color="#2a8a80" stop-opacity="0.92"/><stop offset="0.176" stop-color="#3cbc3c"/><stop offset="0.257" stop-color="#a8d820"/><stop offset="0.324" stop-color="#f0dc00"/><stop offset="0.400" stop-color="#ff9000"/><stop offset="0.448" stop-color="#ff3000"/><stop offset="0.476" stop-color="#ff0000"/><stop offset="0.755" stop-color="#ff0000"/><stop offset="0.770" stop-color="#ff3000"/><stop offset="0.794" stop-color="#ff9000"/><stop offset="0.834" stop-color="#f0dc00"/><stop offset="0.868" stop-color="#a8d820"/><stop offset="0.909" stop-color="#3cbc3c"/><stop offset="0.939" stop-color="#2a8a80" stop-opacity="0.92"/><stop offset="0.971" stop-color="#3458a8" stop-opacity="0.6"/><stop offset="1.000" stop-color="#7088c8" stop-opacity="0.25"/></linearGradient>
<linearGradient id="gs35" x1="0" y1="0" x2="0" y2="1"><stop offset="0.000" stop-color="#7088c8" stop-opacity="0.25"/><stop offset="0.056" stop-color="#3458a8" stop-opacity="0.6"/><stop offset="0.118" stop-color="#2a8a80" stop-opacity="0.92"/><stop offset="0.174" stop-color="#3cbc3c"/><stop offset="0.254" stop-color="#a8d820"/><stop offset="0.320" stop-color="#f0dc00"/><stop offset="0.395" stop-color="#ff9000"/><stop offset="0.442" stop-color="#ff3000"/><stop offset="0.470" stop-color="#ff0000"/><stop offset="0.745" stop-color="#ff0000"/><stop offset="0.761" stop-color="#ff3000"/><stop offset="0.786" stop-color="#ff9000"/><stop offset="0.827" stop-color="#f0dc00"/><stop offset="0.863" stop-color="#a8d820"/><stop offset="0.906" stop-color="#3cbc3c"/><stop offset="0.936" stop-color="#2a8a80" stop-opacity="0.92"/><stop offset="0.969" stop-color="#3458a8" stop-opacity="0.6"/><stop offset="1.000" stop-color="#7088c8" stop-opacity="0.25"/></linearGradient>
<linearGradient id="gs36" x1="0" y1="0" x2="0" y2="1"><stop offset="0.000" stop-color="#7088c8" stop-opacity="0.25"/><stop offset="0.056" stop-color="#3458a8" stop-opacity="0.6"/><stop offset="0.117" stop-color="#2a8a80" stop-opacity="0.92"/><stop offset="0.173" stop-color="#3cbc3c"/><stop offset="0.253" stop-color="#a8d820"/><stop offset="0.318" stop-color="#f0dc00"/><stop offset="0.393" stop-color="#ff9000"/><stop offset="0.440" stop-color="#ff3000"/><stop offset="0.468" stop-color="#ff0000"/><stop offset="0.746" stop-color="#ff0000"/><stop offset="0.761" stop-color="#ff3000"/><stop offset="0.787" stop-color="#ff9000"/><stop offset="0.827" stop-color="#f0dc00"/><stop offset="0.863" stop-color="#a8d820"/><stop offset="0.906" stop-color="#3cbc3c"/><stop offset="0.936" stop-color="#2a8a80" stop-opacity="0.92"/><stop offset="0.970" stop-color="#3458a8" stop-opacity="0.6"/><stop offset="1.000" stop-color="#7088c8" stop-opacity="0.25"/></linearGradient>
<linearGradient id="gs37" x1="0" y1="0" x2="0" y2="1"><stop offset="0.000" stop-color="#7088c8" stop-opacity="0.25"/><stop offset="0.057" stop-color="#3458a8" stop-opacity="0.6"/><stop offset="0.119" stop-color="#2a8a80" stop-opacity="0.92"/><stop offset="0.176" stop-color="#3cbc3c"/><stop offset="0.256" stop-color="#a8d820"/><stop offset="0.323" stop-color="#f0dc00"/><stop offset="0.399" stop-color="#ff9000"/><stop offset="0.446" stop-color="#ff3000"/><stop offset="0.474" stop-color="#ff0000"/><stop offset="0.760" stop-color="#ff0000"/><stop offset="0.775" stop-color="#ff3000"/><stop offset="0.799" stop-color="#ff9000"/><stop offset="0.837" stop-color="#f0dc00"/><stop offset="0.870" stop-color="#a8d820"/><stop offset="0.911" stop-color="#3cbc3c"/><stop offset="0.940" stop-color="#2a8a80" stop-opacity="0.92"/><stop offset="0.971" stop-color="#3458a8" stop-opacity="0.6"/><stop offset="1.000" stop-color="#7088c8" stop-opacity="0.25"/></linearGradient>
<linearGradient id="gs38" x1="0" y1="0" x2="0" y2="1"><stop offset="0.000" stop-color="#7088c8" stop-opacity="0.25"/><stop offset="0.056" stop-color="#3458a8" stop-opacity="0.6"/><stop offset="0.118" stop-color="#2a8a80" stop-opacity="0.92"/><stop offset="0.174" stop-color="#3cbc3c"/><stop offset="0.254" stop-color="#a8d820"/><stop offset="0.320" stop-color="#f0dc00"/><stop offset="0.395" stop-color="#ff9000"/><stop offset="0.443" stop-color="#ff3000"/><stop offset="0.471" stop-color="#ff0000"/><stop offset="0.746" stop-color="#ff0000"/><stop offset="0.761" stop-color="#ff3000"/><stop offset="0.787" stop-color="#ff9000"/><stop offset="0.827" stop-color="#f0dc00"/><stop offset="0.863" stop-color="#a8d820"/><stop offset="0.906" stop-color="#3cbc3c"/><stop offset="0.937" stop-color="#2a8a80" stop-opacity="0.92"/><stop offset="0.970" stop-color="#3458a8" stop-opacity="0.6"/><stop offset="1.000" stop-color="#7088c8" stop-opacity="0.25"/></linearGradient>
<linearGradient id="gs39" x1="0" y1="0" x2="0" y2="1"><stop offset="0.000" stop-color="#7088c8" stop-opacity="0.25"/><stop offset="0.058" stop-color="#3458a8" stop-opacity="0.6"/><stop offset="0.120" stop-color="#2a8a80" stop-opacity="0.92"/><stop offset="0.177" stop-color="#3cbc3c"/><stop offset="0.259" stop-color="#a8d820"/><stop offset="0.326" stop-color="#f0dc00"/><stop offset="0.403" stop-color="#ff9000"/><stop offset="0.451" stop-color="#ff3000"/><stop offset="0.479" stop-color="#ff0000"/><stop offset="0.765" stop-color="#ff0000"/><stop offset="0.779" stop-color="#ff3000"/><stop offset="0.803" stop-color="#ff9000"/><stop offset="0.840" stop-color="#f0dc00"/><stop offset="0.873" stop-color="#a8d820"/><stop offset="0.913" stop-color="#3cbc3c"/><stop offset="0.941" stop-color="#2a8a80" stop-opacity="0.92"/><stop offset="0.972" stop-color="#3458a8" stop-opacity="0.6"/><stop offset="1.000" stop-color="#7088c8" stop-opacity="0.25"/></linearGradient>
<linearGradient id="gs40" x1="0" y1="0" x2="0" y2="1"><stop offset="0.000" stop-color="#7088c8" stop-opacity="0.25"/><stop offset="0.058" stop-color="#3458a8" stop-opacity="0.6"/><stop offset="0.122" stop-color="#2a8a80" stop-opacity="0.92"/><stop offset="0.180" stop-color="#3cbc3c"/><stop offset="0.263" stop-color="#a8d820"/><stop offset="0.331" stop-color="#f0dc00"/><stop offset="0.409" stop-color="#ff9000"/><stop offset="0.458" stop-color="#ff3000"/><stop offset="0.487" stop-color="#ff0000"/><stop offset="0.763" stop-color="#ff0000"/><stop offset="0.777" stop-color="#ff3000"/><stop offset="0.801" stop-color="#ff9000"/><stop offset="0.839" stop-color="#f0dc00"/><stop offset="0.872" stop-color="#a8d820"/><stop offset="0.912" stop-color="#3cbc3c"/><stop offset="0.941" stop-color="#2a8a80" stop-opacity="0.92"/><stop offset="0.972" stop-color="#3458a8" stop-opacity="0.6"/><stop offset="1.000" stop-color="#7088c8" stop-opacity="0.25"/></linearGradient>
<linearGradient id="gs41" x1="0" y1="0" x2="0" y2="1"><stop offset="0.000" stop-color="#7088c8" stop-opacity="0.25"/><stop offset="0.059" stop-color="#3458a8" stop-opacity="0.6"/><stop offset="0.123" stop-color="#2a8a80" stop-opacity="0.92"/><stop offset="0.182" stop-color="#3cbc3c"/><stop offset="0.265" stop-color="#a8d820"/><stop offset="0.334" stop-color="#f0dc00"/><stop offset="0.413" stop-color="#ff9000"/><stop offset="0.462" stop-color="#ff3000"/><stop offset="0.492" stop-color="#ff0000"/><stop offset="0.769" stop-color="#ff0000"/><stop offset="0.783" stop-color="#ff3000"/><stop offset="0.806" stop-color="#ff9000"/><stop offset="0.843" stop-color="#f0dc00"/><stop offset="0.875" stop-color="#a8d820"/><stop offset="0.914" stop-color="#3cbc3c"/><stop offset="0.942" stop-color="#2a8a80" stop-opacity="0.92"/><stop offset="0.972" stop-color="#3458a8" stop-opacity="0.6"/><stop offset="1.000" stop-color="#7088c8" stop-opacity="0.25"/></linearGradient>
<linearGradient id="gs42" x1="0" y1="0" x2="0" y2="1"><stop offset="0.000" stop-color="#7088c8" stop-opacity="0.25"/><stop offset="0.058" stop-color="#3458a8" stop-opacity="0.6"/><stop offset="0.121" stop-color="#2a8a80" stop-opacity="0.92"/><stop offset="0.179" stop-color="#3cbc3c"/><stop offset="0.262" stop-color="#a8d820"/><stop offset="0.330" stop-color="#f0dc00"/><stop offset="0.407" stop-color="#ff9000"/><stop offset="0.456" stop-color="#ff3000"/><stop offset="0.485" stop-color="#ff0000"/><stop offset="0.758" stop-color="#ff0000"/><stop offset="0.773" stop-color="#ff3000"/><stop offset="0.797" stop-color="#ff9000"/><stop offset="0.835" stop-color="#f0dc00"/><stop offset="0.869" stop-color="#a8d820"/><stop offset="0.910" stop-color="#3cbc3c"/><stop offset="0.940" stop-color="#2a8a80" stop-opacity="0.92"/><stop offset="0.971" stop-color="#3458a8" stop-opacity="0.6"/><stop offset="1.000" stop-color="#7088c8" stop-opacity="0.25"/></linearGradient>
<linearGradient id="gs43" x1="0" y1="0" x2="0" y2="1"><stop offset="0.000" stop-color="#7088c8" stop-opacity="0.25"/><stop offset="0.056" stop-color="#3458a8" stop-opacity="0.6"/><stop offset="0.117" stop-color="#2a8a80" stop-opacity="0.92"/><stop offset="0.174" stop-color="#3cbc3c"/><stop offset="0.253" stop-color="#a8d820"/><stop offset="0.319" stop-color="#f0dc00"/><stop offset="0.394" stop-color="#ff9000"/><stop offset="0.441" stop-color="#ff3000"/><stop offset="0.469" stop-color="#ff0000"/><stop offset="0.747" stop-color="#ff0000"/><stop offset="0.762" stop-color="#ff3000"/><stop offset="0.787" stop-color="#ff9000"/><stop offset="0.828" stop-color="#f0dc00"/><stop offset="0.863" stop-color="#a8d820"/><stop offset="0.906" stop-color="#3cbc3c"/><stop offset="0.937" stop-color="#2a8a80" stop-opacity="0.92"/><stop offset="0.970" stop-color="#3458a8" stop-opacity="0.6"/><stop offset="1.000" stop-color="#7088c8" stop-opacity="0.25"/></linearGradient>
<linearGradient id="gs44" x1="0" y1="0" x2="0" y2="1"><stop offset="0.000" stop-color="#7088c8" stop-opacity="0.25"/><stop offset="0.058" stop-color="#3458a8" stop-opacity="0.6"/><stop offset="0.121" stop-color="#2a8a80" stop-opacity="0.92"/><stop offset="0.179" stop-color="#3cbc3c"/><stop offset="0.261" stop-color="#a8d820"/><stop offset="0.328" stop-color="#f0dc00"/><stop offset="0.406" stop-color="#ff9000"/><stop offset="0.454" stop-color="#ff3000"/><stop offset="0.483" stop-color="#ff0000"/><stop offset="0.756" stop-color="#ff0000"/><stop offset="0.771" stop-color="#ff3000"/><stop offset="0.795" stop-color="#ff9000"/><stop offset="0.834" stop-color="#f0dc00"/><stop offset="0.868" stop-color="#a8d820"/><stop offset="0.910" stop-color="#3cbc3c"/><stop offset="0.939" stop-color="#2a8a80" stop-opacity="0.92"/><stop offset="0.971" stop-color="#3458a8" stop-opacity="0.6"/><stop offset="1.000" stop-color="#7088c8" stop-opacity="0.25"/></linearGradient>
<linearGradient id="gs45" x1="0" y1="0" x2="0" y2="1"><stop offset="0.000" stop-color="#7088c8" stop-opacity="0.25"/><stop offset="0.058" stop-color="#3458a8" stop-opacity="0.6"/><stop offset="0.121" stop-color="#2a8a80" stop-opacity="0.92"/><stop offset="0.179" stop-color="#3cbc3c"/><stop offset="0.261" stop-color="#a8d820"/><stop offset="0.329" stop-color="#f0dc00"/><stop offset="0.406" stop-color="#ff9000"/><stop offset="0.455" stop-color="#ff3000"/><stop offset="0.484" stop-color="#ff0000"/><stop offset="0.767" stop-color="#ff0000"/><stop offset="0.781" stop-color="#ff3000"/><stop offset="0.804" stop-color="#ff9000"/><stop offset="0.842" stop-color="#f0dc00"/><stop offset="0.874" stop-color="#a8d820"/><stop offset="0.914" stop-color="#3cbc3c"/><stop offset="0.942" stop-color="#2a8a80" stop-opacity="0.92"/><stop offset="0.972" stop-color="#3458a8" stop-opacity="0.6"/><stop offset="1.000" stop-color="#7088c8" stop-opacity="0.25"/></linearGradient>
<linearGradient id="gs46" x1="0" y1="0" x2="0" y2="1"><stop offset="0.000" stop-color="#7088c8" stop-opacity="0.25"/><stop offset="0.056" stop-color="#3458a8" stop-opacity="0.6"/><stop offset="0.117" stop-color="#2a8a80" stop-opacity="0.92"/><stop offset="0.173" stop-color="#3cbc3c"/><stop offset="0.252" stop-color="#a8d820"/><stop offset="0.317" stop-color="#f0dc00"/><stop offset="0.392" stop-color="#ff9000"/><stop offset="0.438" stop-color="#ff3000"/><stop offset="0.466" stop-color="#ff0000"/><stop offset="0.744" stop-color="#ff0000"/><stop offset="0.760" stop-color="#ff3000"/><stop offset="0.785" stop-color="#ff9000"/><stop offset="0.826" stop-color="#f0dc00"/><stop offset="0.862" stop-color="#a8d820"/><stop offset="0.905" stop-color="#3cbc3c"/><stop offset="0.936" stop-color="#2a8a80" stop-opacity="0.92"/><stop offset="0.969" stop-color="#3458a8" stop-opacity="0.6"/><stop offset="1.000" stop-color="#7088c8" stop-opacity="0.25"/></linearGradient>
<linearGradient id="gs47" x1="0" y1="0" x2="0" y2="1"><stop offset="0.000" stop-color="#7088c8" stop-opacity="0.25"/><stop offset="0.057" stop-color="#3458a8" stop-opacity="0.6"/><stop offset="0.120" stop-color="#2a8a80" stop-opacity="0.92"/><stop offset="0.177" stop-color="#3cbc3c"/><stop offset="0.258" stop-color="#a8d820"/><stop offset="0.325" stop-color="#f0dc00"/><stop offset="0.402" stop-color="#ff9000"/><stop offset="0.450" stop-color="#ff3000"/><stop offset="0.478" stop-color="#ff0000"/><stop offset="0.750" stop-color="#ff0000"/><stop offset="0.765" stop-color="#ff3000"/><stop offset="0.790" stop-color="#ff9000"/><stop offset="0.830" stop-color="#f0dc00"/><stop offset="0.865" stop-color="#a8d820"/><stop offset="0.908" stop-color="#3cbc3c"/><stop offset="0.938" stop-color="#2a8a80" stop-opacity="0.92"/><stop offset="0.970" stop-color="#3458a8" stop-opacity="0.6"/><stop offset="1.000" stop-color="#7088c8" stop-opacity="0.25"/></linearGradient>
<linearGradient id="gs48" x1="0" y1="0" x2="0" y2="1"><stop offset="0.000" stop-color="#7088c8" stop-opacity="0.25"/><stop offset="0.058" stop-color="#3458a8" stop-opacity="0.6"/><stop offset="0.121" stop-color="#2a8a80" stop-opacity="0.92"/><stop offset="0.179" stop-color="#3cbc3c"/><stop offset="0.261" stop-color="#a8d820"/><stop offset="0.328" stop-color="#f0dc00"/><stop offset="0.406" stop-color="#ff9000"/><stop offset="0.454" stop-color="#ff3000"/><stop offset="0.483" stop-color="#ff0000"/><stop offset="0.760" stop-color="#ff0000"/><stop offset="0.775" stop-color="#ff3000"/><stop offset="0.799" stop-color="#ff9000"/><stop offset="0.837" stop-color="#f0dc00"/><stop offset="0.871" stop-color="#a8d820"/><stop offset="0.911" stop-color="#3cbc3c"/><stop offset="0.940" stop-color="#2a8a80" stop-opacity="0.92"/><stop offset="0.971" stop-color="#3458a8" stop-opacity="0.6"/><stop offset="1.000" stop-color="#7088c8" stop-opacity="0.25"/></linearGradient>
<linearGradient id="gs49" x1="0" y1="0" x2="0" y2="1"><stop offset="0.000" stop-color="#7088c8" stop-opacity="0.25"/><stop offset="0.056" stop-color="#3458a8" stop-opacity="0.6"/><stop offset="0.117" stop-color="#2a8a80" stop-opacity="0.92"/><stop offset="0.173" stop-color="#3cbc3c"/><stop offset="0.252" stop-color="#a8d820"/><stop offset="0.317" stop-color="#f0dc00"/><stop offset="0.392" stop-color="#ff9000"/><stop offset="0.439" stop-color="#ff3000"/><stop offset="0.467" stop-color="#ff0000"/><stop offset="0.747" stop-color="#ff0000"/><stop offset="0.762" stop-color="#ff3000"/><stop offset="0.787" stop-color="#ff9000"/><stop offset="0.828" stop-color="#f0dc00"/><stop offset="0.863" stop-color="#a8d820"/><stop offset="0.906" stop-color="#3cbc3c"/><stop offset="0.937" stop-color="#2a8a80" stop-opacity="0.92"/><stop offset="0.970" stop-color="#3458a8" stop-opacity="0.6"/><stop offset="1.000" stop-color="#7088c8" stop-opacity="0.25"/></linearGradient>
<linearGradient id="g2" x1="0" y1="0" x2="0" y2="1"><stop offset="0.000" stop-color="#7088c8" stop-opacity="0.25"/><stop offset="0.044" stop-color="#3458a8" stop-opacity="0.6"/><stop offset="0.091" stop-color="#2a8a80" stop-opacity="0.92"/><stop offset="0.135" stop-color="#3cbc3c"/><stop offset="0.197" stop-color="#a8d820"/><stop offset="0.248" stop-color="#f0dc00"/><stop offset="0.306" stop-color="#ff9000"/><stop offset="0.342" stop-color="#ff3000"/><stop offset="0.364" stop-color="#ff0000"/><stop offset="0.700" stop-color="#ff0000"/><stop offset="0.718" stop-color="#ff3000"/><stop offset="0.748" stop-color="#ff9000"/><stop offset="0.796" stop-color="#f0dc00"/><stop offset="0.838" stop-color="#a8d820"/><stop offset="0.889" stop-color="#3cbc3c"/><stop offset="0.925" stop-color="#2a8a80" stop-opacity="0.92"/><stop offset="0.964" stop-color="#3458a8" stop-opacity="0.6"/><stop offset="1.000" stop-color="#7088c8" stop-opacity="0.25"/></linearGradient>
<linearGradient id="g3" x1="0" y1="0" x2="0" y2="1"><stop offset="0.000" stop-color="#7088c8" stop-opacity="0.25"/><stop offset="0.045" stop-color="#3458a8" stop-opacity="0.6"/><stop offset="0.093" stop-color="#2a8a80" stop-opacity="0.92"/><stop offset="0.138" stop-color="#3cbc3c"/><stop offset="0.202" stop-color="#a8d820"/><stop offset="0.254" stop-color="#f0dc00"/><stop offset="0.314" stop-color="#ff9000"/><stop offset="0.351" stop-color="#ff3000"/><stop offset="0.373" stop-color="#ff0000"/><stop offset="0.610" stop-color="#ff0000"/><stop offset="0.633" stop-color="#ff3000"/><stop offset="0.672" stop-color="#ff9000"/><stop offset="0.735" stop-color="#f0dc00"/><stop offset="0.789" stop-color="#a8d820"/><stop offset="0.856" stop-color="#3cbc3c"/><stop offset="0.902" stop-color="#2a8a80" stop-opacity="0.92"/><stop offset="0.953" stop-color="#3458a8" stop-opacity="0.6"/><stop offset="1.000" stop-color="#7088c8" stop-opacity="0.25"/></linearGradient>
<linearGradient id="g4" x1="0" y1="0" x2="0" y2="1"><stop offset="0.000" stop-color="#7088c8" stop-opacity="0.25"/><stop offset="0.033" stop-color="#3458a8" stop-opacity="0.6"/><stop offset="0.069" stop-color="#2a8a80" stop-opacity="0.92"/><stop offset="0.102" stop-color="#3cbc3c"/><stop offset="0.149" stop-color="#a8d820"/><stop offset="0.187" stop-color="#f0dc00"/><stop offset="0.231" stop-color="#ff9000"/><stop offset="0.259" stop-color="#ff3000"/><stop offset="0.275" stop-color="#ff0000"/><stop offset="0.768" stop-color="#ff0000"/><stop offset="0.782" stop-color="#ff3000"/><stop offset="0.805" stop-color="#ff9000"/><stop offset="0.842" stop-color="#f0dc00"/><stop offset="0.875" stop-color="#a8d820"/><stop offset="0.914" stop-color="#3cbc3c"/><stop offset="0.942" stop-color="#2a8a80" stop-opacity="0.92"/><stop offset="0.972" stop-color="#3458a8" stop-opacity="0.6"/><stop offset="1.000" stop-color="#7088c8" stop-opacity="0.25"/></linearGradient>
<linearGradient id="g5" x1="0" y1="0" x2="0" y2="1"><stop offset="0.000" stop-color="#7088c8" stop-opacity="0.25"/><stop offset="0.040" stop-color="#3458a8" stop-opacity="0.6"/><stop offset="0.084" stop-color="#2a8a80" stop-opacity="0.92"/><stop offset="0.124" stop-color="#3cbc3c"/><stop offset="0.181" stop-color="#a8d820"/><stop offset="0.228" stop-color="#f0dc00"/><stop offset="0.282" stop-color="#ff9000"/><stop offset="0.316" stop-color="#ff3000"/><stop offset="0.336" stop-color="#ff0000"/><stop offset="0.695" stop-color="#ff0000"/><stop offset="0.713" stop-color="#ff3000"/><stop offset="0.744" stop-color="#ff9000"/><stop offset="0.793" stop-color="#f0dc00"/><stop offset="0.835" stop-color="#a8d820"/><stop offset="0.887" stop-color="#3cbc3c"/><stop offset="0.924" stop-color="#2a8a80" stop-opacity="0.92"/><stop offset="0.963" stop-color="#3458a8" stop-opacity="0.6"/><stop offset="1.000" stop-color="#7088c8" stop-opacity="0.25"/></linearGradient>
<linearGradient id="g6" x1="0" y1="0" x2="0" y2="1"><stop offset="0.000" stop-color="#7088c8" stop-opacity="0.25"/><stop offset="0.039" stop-color="#3458a8" stop-opacity="0.6"/><stop offset="0.081" stop-color="#2a8a80" stop-opacity="0.92"/><stop offset="0.120" stop-color="#3cbc3c"/><stop offset="0.175" stop-color="#a8d820"/><stop offset="0.221" stop-color="#f0dc00"/><stop offset="0.273" stop-color="#ff9000"/><stop offset="0.305" stop-color="#ff3000"/><stop offset="0.324" stop-color="#ff0000"/><stop offset="0.801" stop-color="#ff0000"/><stop offset="0.813" stop-color="#ff3000"/><stop offset="0.833" stop-color="#ff9000"/><stop offset="0.865" stop-color="#f0dc00"/><stop offset="0.893" stop-color="#a8d820"/><stop offset="0.927" stop-color="#3cbc3c"/><stop offset="0.950" stop-color="#2a8a80" stop-opacity="0.92"/><stop offset="0.976" stop-color="#3458a8" stop-opacity="0.6"/><stop offset="1.000" stop-color="#7088c8" stop-opacity="0.25"/></linearGradient>
<linearGradient id="g7" x1="0" y1="0" x2="0" y2="1"><stop offset="0.000" stop-color="#7088c8" stop-opacity="0.25"/><stop offset="0.041" stop-color="#3458a8" stop-opacity="0.6"/><stop offset="0.085" stop-color="#2a8a80" stop-opacity="0.92"/><stop offset="0.126" stop-color="#3cbc3c"/><stop offset="0.184" stop-color="#a8d820"/><stop offset="0.231" stop-color="#f0dc00"/><stop offset="0.286" stop-color="#ff9000"/><stop offset="0.320" stop-color="#ff3000"/><stop offset="0.340" stop-color="#ff0000"/><stop offset="0.705" stop-color="#ff0000"/><stop offset="0.722" stop-color="#ff3000"/><stop offset="0.752" stop-color="#ff9000"/><stop offset="0.799" stop-color="#f0dc00"/><stop offset="0.841" stop-color="#a8d820"/><stop offset="0.891" stop-color="#3cbc3c"/><stop offset="0.926" stop-color="#2a8a80" stop-opacity="0.92"/><stop offset="0.965" stop-color="#3458a8" stop-opacity="0.6"/><stop offset="1.000" stop-color="#7088c8" stop-opacity="0.25"/></linearGradient>
<linearGradient id="g8" x1="0" y1="0" x2="0" y2="1"><stop offset="0.000" stop-color="#7088c8" stop-opacity="0.25"/><stop offset="0.036" stop-color="#3458a8" stop-opacity="0.6"/><stop offset="0.074" stop-color="#2a8a80" stop-opacity="0.92"/><stop offset="0.109" stop-color="#3cbc3c"/><stop offset="0.160" stop-color="#a8d820"/><stop offset="0.201" stop-color="#f0dc00"/><stop offset="0.249" stop-color="#ff9000"/><stop offset="0.278" stop-color="#ff3000"/><stop offset="0.296" stop-color="#ff0000"/><stop offset="0.753" stop-color="#ff0000"/><stop offset="0.768" stop-color="#ff3000"/><stop offset="0.792" stop-color="#ff9000"/><stop offset="0.832" stop-color="#f0dc00"/><stop offset="0.867" stop-color="#a8d820"/><stop offset="0.909" stop-color="#3cbc3c"/><stop offset="0.938" stop-color="#2a8a80" stop-opacity="0.92"/><stop offset="0.970" stop-color="#3458a8" stop-opacity="0.6"/><stop offset="1.000" stop-color="#7088c8" stop-opacity="0.25"/></linearGradient>
<linearGradient id="g9" x1="0" y1="0" x2="0" y2="1"><stop offset="0.000" stop-color="#7088c8" stop-opacity="0.25"/><stop offset="0.036" stop-color="#3458a8" stop-opacity="0.6"/><stop offset="0.074" stop-color="#2a8a80" stop-opacity="0.92"/><stop offset="0.110" stop-color="#3cbc3c"/><stop offset="0.160" stop-color="#a8d820"/><stop offset="0.201" stop-color="#f0dc00"/><stop offset="0.249" stop-color="#ff9000"/><stop offset="0.278" stop-color="#ff3000"/><stop offset="0.296" stop-color="#ff0000"/><stop offset="0.744" stop-color="#ff0000"/><stop offset="0.759" stop-color="#ff3000"/><stop offset="0.785" stop-color="#ff9000"/><stop offset="0.826" stop-color="#f0dc00"/><stop offset="0.862" stop-color="#a8d820"/><stop offset="0.905" stop-color="#3cbc3c"/><stop offset="0.936" stop-color="#2a8a80" stop-opacity="0.92"/><stop offset="0.969" stop-color="#3458a8" stop-opacity="0.6"/><stop offset="1.000" stop-color="#7088c8" stop-opacity="0.25"/></linearGradient>
<linearGradient id="g10" x1="0" y1="0" x2="0" y2="1"><stop offset="0.000" stop-color="#7088c8" stop-opacity="0.25"/><stop offset="0.043" stop-color="#3458a8" stop-opacity="0.6"/><stop offset="0.089" stop-color="#2a8a80" stop-opacity="0.92"/><stop offset="0.132" stop-color="#3cbc3c"/><stop offset="0.192" stop-color="#a8d820"/><stop offset="0.242" stop-color="#f0dc00"/><stop offset="0.299" stop-color="#ff9000"/><stop offset="0.335" stop-color="#ff3000"/><stop offset="0.356" stop-color="#ff0000"/><stop offset="0.741" stop-color="#ff0000"/><stop offset="0.757" stop-color="#ff3000"/><stop offset="0.782" stop-color="#ff9000"/><stop offset="0.824" stop-color="#f0dc00"/><stop offset="0.860" stop-color="#a8d820"/><stop offset="0.904" stop-color="#3cbc3c"/><stop offset="0.935" stop-color="#2a8a80" stop-opacity="0.92"/><stop offset="0.969" stop-color="#3458a8" stop-opacity="0.6"/><stop offset="1.000" stop-color="#7088c8" stop-opacity="0.25"/></linearGradient>
<linearGradient id="g11" x1="0" y1="0" x2="0" y2="1"><stop offset="0.000" stop-color="#7088c8" stop-opacity="0.25"/><stop offset="0.042" stop-color="#3458a8" stop-opacity="0.6"/><stop offset="0.088" stop-color="#2a8a80" stop-opacity="0.92"/><stop offset="0.131" stop-color="#3cbc3c"/><stop offset="0.191" stop-color="#a8d820"/><stop offset="0.240" stop-color="#f0dc00"/><stop offset="0.297" stop-color="#ff9000"/><stop offset="0.332" stop-color="#ff3000"/><stop offset="0.354" stop-color="#ff0000"/><stop offset="0.718" stop-color="#ff0000"/><stop offset="0.735" stop-color="#ff3000"/><stop offset="0.763" stop-color="#ff9000"/><stop offset="0.808" stop-color="#f0dc00"/><stop offset="0.848" stop-color="#a8d820"/><stop offset="0.896" stop-color="#3cbc3c"/><stop offset="0.929" stop-color="#2a8a80" stop-opacity="0.92"/><stop offset="0.966" stop-color="#3458a8" stop-opacity="0.6"/><stop offset="1.000" stop-color="#7088c8" stop-opacity="0.25"/></linearGradient>
<linearGradient id="g12" x1="0" y1="0" x2="0" y2="1"><stop offset="0.000" stop-color="#7088c8" stop-opacity="0.25"/><stop offset="0.036" stop-color="#3458a8" stop-opacity="0.6"/><stop offset="0.075" stop-color="#2a8a80" stop-opacity="0.92"/><stop offset="0.111" stop-color="#3cbc3c"/><stop offset="0.162" stop-color="#a8d820"/><stop offset="0.204" stop-color="#f0dc00"/><stop offset="0.252" stop-color="#ff9000"/><stop offset="0.282" stop-color="#ff3000"/><stop offset="0.300" stop-color="#ff0000"/><stop offset="0.596" stop-color="#ff0000"/><stop offset="0.620" stop-color="#ff3000"/><stop offset="0.661" stop-color="#ff9000"/><stop offset="0.725" stop-color="#f0dc00"/><stop offset="0.782" stop-color="#a8d820"/><stop offset="0.851" stop-color="#3cbc3c"/><stop offset="0.899" stop-color="#2a8a80" stop-opacity="0.92"/><stop offset="0.952" stop-color="#3458a8" stop-opacity="0.6"/><stop offset="1.000" stop-color="#7088c8" stop-opacity="0.25"/></linearGradient>
<linearGradient id="g13" x1="0" y1="0" x2="0" y2="1"><stop offset="0.000" stop-color="#7088c8" stop-opacity="0.25"/><stop offset="0.036" stop-color="#3458a8" stop-opacity="0.6"/><stop offset="0.075" stop-color="#2a8a80" stop-opacity="0.92"/><stop offset="0.111" stop-color="#3cbc3c"/><stop offset="0.163" stop-color="#a8d820"/><stop offset="0.205" stop-color="#f0dc00"/><stop offset="0.253" stop-color="#ff9000"/><stop offset="0.283" stop-color="#ff3000"/><stop offset="0.301" stop-color="#ff0000"/><stop offset="0.598" stop-color="#ff0000"/><stop offset="0.623" stop-color="#ff3000"/><stop offset="0.663" stop-color="#ff9000"/><stop offset="0.727" stop-color="#f0dc00"/><stop offset="0.783" stop-color="#a8d820"/><stop offset="0.851" stop-color="#3cbc3c"/><stop offset="0.900" stop-color="#2a8a80" stop-opacity="0.92"/><stop offset="0.952" stop-color="#3458a8" stop-opacity="0.6"/><stop offset="1.000" stop-color="#7088c8" stop-opacity="0.25"/></linearGradient>
<linearGradient id="g14" x1="0" y1="0" x2="0" y2="1"><stop offset="0.000" stop-color="#7088c8" stop-opacity="0.25"/><stop offset="0.042" stop-color="#3458a8" stop-opacity="0.6"/><stop offset="0.088" stop-color="#2a8a80" stop-opacity="0.92"/><stop offset="0.130" stop-color="#3cbc3c"/><stop offset="0.190" stop-color="#a8d820"/><stop offset="0.239" stop-color="#f0dc00"/><stop offset="0.295" stop-color="#ff9000"/><stop offset="0.330" stop-color="#ff3000"/><stop offset="0.352" stop-color="#ff0000"/><stop offset="0.703" stop-color="#ff0000"/><stop offset="0.721" stop-color="#ff3000"/><stop offset="0.751" stop-color="#ff9000"/><stop offset="0.798" stop-color="#f0dc00"/><stop offset="0.840" stop-color="#a8d820"/><stop offset="0.890" stop-color="#3cbc3c"/><stop offset="0.926" stop-color="#2a8a80" stop-opacity="0.92"/><stop offset="0.964" stop-color="#3458a8" stop-opacity="0.6"/><stop offset="1.000" stop-color="#7088c8" stop-opacity="0.25"/></linearGradient>
<linearGradient id="g15" x1="0" y1="0" x2="0" y2="1"><stop offset="0.000" stop-color="#7088c8" stop-opacity="0.25"/><stop offset="0.040" stop-color="#3458a8" stop-opacity="0.6"/><stop offset="0.084" stop-color="#2a8a80" stop-opacity="0.92"/><stop offset="0.124" stop-color="#3cbc3c"/><stop offset="0.181" stop-color="#a8d820"/><stop offset="0.228" stop-color="#f0dc00"/><stop offset="0.281" stop-color="#ff9000"/><stop offset="0.314" stop-color="#ff3000"/><stop offset="0.335" stop-color="#ff0000"/><stop offset="0.651" stop-color="#ff0000"/><stop offset="0.672" stop-color="#ff3000"/><stop offset="0.706" stop-color="#ff9000"/><stop offset="0.762" stop-color="#f0dc00"/><stop offset="0.811" stop-color="#a8d820"/><stop offset="0.871" stop-color="#3cbc3c"/><stop offset="0.913" stop-color="#2a8a80" stop-opacity="0.92"/><stop offset="0.958" stop-color="#3458a8" stop-opacity="0.6"/><stop offset="1.000" stop-color="#7088c8" stop-opacity="0.25"/></linearGradient>
<filter id="gblur" x="0" y="0" width="100%" height="100%" filterUnits="userSpaceOnUse"><feGaussianBlur stdDeviation="0.3"/></filter>
</defs>
<g filter="url(#gblur)">
<rect x="0" y="0" width="520" height="721" fill="#ffffff"/>
<text x="0.00" y="0.00" font-size="12.4" text-anchor="start" font-weight="bold" fill="#111" stroke="#111" stroke-width="0.1" transform="translate(10.40,17.90) scale(0.95,1)">A</text>
<text x="36.40" y="36.20" font-size="8.5" text-anchor="start" fill="#111" stroke="#111" stroke-width="0.1">HNF1A</text>
<text x="65.16" y="33.48" font-size="5.61" text-anchor="start" fill="#111" stroke="#111" stroke-width="0.1">+/+</text>
<text x="95.80" y="36.20" font-size="8.5" text-anchor="start" fill="#111" stroke="#111" stroke-width="0.1">HNF1A</text>
<text x="124.56" y="33.48" font-size="5.61" text-anchor="start" fill="#111" stroke="#111" stroke-width="0.1">-/-</text>
<line x1="31.80" y1="41.40" x2="78.50" y2="41.40" stroke="#0a0a0a" stroke-width="1.6"/>
<line x1="89.40" y1="41.40" x2="136.50" y2="41.40" stroke="#0a0a0a" stroke-width="1.6"/>
<rect x="22.4" y="44.4" width="120.8" height="19.6" fill="#d4d4d4"/>
<g filter="url(#blur1)">
<rect x="28.9" y="45.2" width="14.6" height="13" fill="#828282"/>
<rect x="48.9" y="45.2" width="13.4" height="13" fill="#868686"/>
<rect x="67.4" y="45.2" width="13.4" height="13" fill="#8e8e8e"/>
<rect x="86.6" y="45.2" width="13.4" height="13" fill="#8c8c8c"/>
<rect x="105.1" y="45.2" width="13.4" height="13" fill="#828282"/>
<rect x="123.4" y="45.2" width="13.9" height="13" fill="#8e8e8e"/>
</g>
<rect x="22.4" y="65.1" width="120.8" height="24.1" fill="#c5c5c5"/>
<g filter="url(#blur1)">
<ellipse cx="36.20" cy="76.7" rx="7.30" ry="2.2" fill="#959595"/>
<ellipse cx="55.60" cy="76.7" rx="6.70" ry="2.2" fill="#acacac"/>
<ellipse cx="74.10" cy="76.7" rx="6.70" ry="2.2" fill="#b0b0b0"/>
<ellipse cx="93.30" cy="76.7" rx="6.70" ry="2.2" fill="#aaaaaa"/>
<ellipse cx="111.80" cy="76.7" rx="6.70" ry="2.2" fill="#b4b4b4"/>
<ellipse cx="130.35" cy="76.7" rx="6.95" ry="2.2" fill="#b0b0b0"/>
</g>
<rect x="22.4" y="90.5" width="120.8" height="30.2" fill="#e8e8e8"/>
<g filter="url(#blur1)">
<path d="M26.00,91.2 L44.00,91.2 L43.50,108 L41.80,114 L41.80,119.5 L28.20,119.5 L28.20,114 L26.50,108 Z" fill="url(#b3)"/>
<path d="M45.40,91.2 L63.30,91.2 L62.80,108 L61.10,114 L61.10,119.5 L47.60,119.5 L47.60,114 L45.90,108 Z" fill="url(#b3)"/>
<path d="M65.20,91.2 L83.70,91.2 L83.20,108 L81.50,114 L81.50,119.5 L67.40,119.5 L67.40,114 L65.70,108 Z" fill="url(#b3)"/>
<path d="M85.40,91.2 L103.00,91.2 L102.50,108 L100.80,114 L100.80,119.5 L87.60,119.5 L87.60,114 L85.90,108 Z" fill="url(#b3d)"/>
<path d="M104.30,91.2 L121.00,91.2 L120.50,108 L118.80,114 L118.80,119.5 L106.50,119.5 L106.50,114 L104.80,108 Z" fill="url(#b3d)"/>
<path d="M122.40,91.2 L140.20,91.2 L139.70,108 L138.00,114 L138.00,119.5 L124.60,119.5 L124.60,114 L122.90,108 Z" fill="url(#b3d)"/>
</g>
<rect x="22.4" y="121.8" width="120.8" height="27.7" fill="#dadada"/>
<g filter="url(#blur08)">
<path d="M28.70,134 C28.90,131 30.14,130.0 32.58,130.0 C34.62,130.0 35.44,131.4 36.25,131.4 C37.06,131.4 37.88,130.0 39.92,130.0 C42.36,130.0 43.60,131 43.80,134 C44.40,137 44.40,139.8 42.40,139.8 L30.10,139.8 C28.10,139.8 28.10,137 28.70,134 Z" fill="#101010"/>
<path d="M47.50,134 C47.70,131 48.74,130.0 50.94,130.0 C52.78,130.0 53.52,131.4 54.25,131.4 C54.98,131.4 55.72,130.0 57.56,130.0 C59.76,130.0 60.80,131 61.00,134 C61.60,137 61.60,139.8 59.60,139.8 L48.90,139.8 C46.90,139.8 46.90,137 47.50,134 Z" fill="#101010"/>
<path d="M65.60,134 C65.80,131 67.08,130.0 69.56,130.0 C71.64,130.0 72.47,131.4 73.30,131.4 C74.13,131.4 74.96,130.0 77.03,130.0 C79.52,130.0 80.80,131 81.00,134 C81.60,137 81.60,139.8 79.60,139.8 L67.00,139.8 C65.00,139.8 65.00,137 65.60,134 Z" fill="#101010"/>
<path d="M85.00,134 C85.20,131 86.43,130.0 88.86,130.0 C90.88,130.0 91.69,131.4 92.50,131.4 C93.31,131.4 94.12,130.0 96.14,130.0 C98.57,130.0 99.80,131 100.00,134 C100.60,137 100.60,139.8 98.60,139.8 L86.40,139.8 C84.40,139.8 84.40,137 85.00,134 Z" fill="#101010"/>
<path d="M103.60,134 C103.80,131 105.10,130.0 107.62,130.0 C109.72,130.0 110.56,131.4 111.40,131.4 C112.24,131.4 113.08,130.0 115.18,130.0 C117.70,130.0 119.00,131 119.20,134 C119.80,137 119.80,139.8 117.80,139.8 L105.00,139.8 C103.00,139.8 103.00,137 103.60,134 Z" fill="#101010"/>
<path d="M121.80,134 C122.00,131 123.27,130.0 125.77,130.0 C127.84,130.0 128.67,131.4 129.50,131.4 C130.33,131.4 131.16,130.0 133.24,130.0 C135.72,130.0 137.00,131 137.20,134 C137.80,137 137.80,139.8 135.80,139.8 L123.20,139.8 C121.20,139.8 121.20,137 121.80,134 Z" fill="#101010"/>
</g>
<rect x="22.40" y="44.4" width="120.80" height="105.1" fill="#000" filter="url(#noise)" opacity="0.13"/>
<text x="146.80" y="58.30" font-size="8.7" text-anchor="start" fill="#111" stroke="#111" stroke-width="0.1">PMCA</text>
<text x="146.80" y="84.70" font-size="8.7" text-anchor="start" fill="#111" stroke="#111" stroke-width="0.1">glycophorin A</text>
<text x="146.80" y="111.60" font-size="8.7" text-anchor="start" fill="#111" stroke="#111" stroke-width="0.1">band 3</text>
<text x="146.80" y="138.50" font-size="8.7" text-anchor="start" fill="#111" stroke="#111" stroke-width="0.1">β-actin</text>
<text x="0.00" y="0.00" font-size="12.4" text-anchor="start" font-weight="bold" fill="#111" stroke="#111" stroke-width="0.1" transform="translate(10.50,176.90) scale(0.92,1)">B</text>
<text x="22.80" y="192.00" font-size="9.4" text-anchor="start" font-weight="bold" fill="#111" stroke="#111" stroke-width="0.1">i</text>
<text x="143.20" y="189.90" font-size="8.0" text-anchor="middle" fill="#111" stroke="#111" stroke-width="0.1">Fluo-4</text>
<line x1="52.50" y1="194.80" x2="234.50" y2="194.80" stroke="#0a0a0a" stroke-width="1.5"/>
<text x="73.60" y="205.70" font-size="8.0" text-anchor="start" fill="#111" stroke="#111" stroke-width="0.1">HNF1A</text>
<text x="100.72" y="203.14" font-size="5.28" text-anchor="start" fill="#111" stroke="#111" stroke-width="0.1">+/+</text>
<text x="177.00" y="205.70" font-size="8.0" text-anchor="start" fill="#111" stroke="#111" stroke-width="0.1">HNF1A</text>
<text x="204.12" y="203.14" font-size="5.28" text-anchor="start" fill="#111" stroke="#111" stroke-width="0.1">-/-</text>
<rect x="50.60" y="211.00" width="83.20" height="75.20" fill="none" stroke="#c8c8c8" stroke-width="0.7"/>
<line x1="50.60" y1="211.00" x2="50.60" y2="286.20" stroke="#9a9a9a" stroke-width="0.8"/>
<line x1="50.60" y1="286.20" x2="50.60" y2="287.70" stroke="#c0c0c0" stroke-width="0.6"/>
<line x1="61.00" y1="286.20" x2="61.00" y2="287.70" stroke="#c0c0c0" stroke-width="0.6"/>
<line x1="71.40" y1="286.20" x2="71.40" y2="287.70" stroke="#c0c0c0" stroke-width="0.6"/>
<line x1="81.80" y1="286.20" x2="81.80" y2="287.70" stroke="#c0c0c0" stroke-width="0.6"/>
<line x1="92.20" y1="286.20" x2="92.20" y2="287.70" stroke="#c0c0c0" stroke-width="0.6"/>
<line x1="102.60" y1="286.20" x2="102.60" y2="287.70" stroke="#c0c0c0" stroke-width="0.6"/>
<line x1="113.00" y1="286.20" x2="113.00" y2="287.70" stroke="#c0c0c0" stroke-width="0.6"/>
<line x1="123.40" y1="286.20" x2="123.40" y2="287.70" stroke="#c0c0c0" stroke-width="0.6"/>
<line x1="133.80" y1="286.20" x2="133.80" y2="287.70" stroke="#c0c0c0" stroke-width="0.6"/>
<rect x="50.8" y="253" width="17.1" height="22.5" fill="url(#g1)"/>
<path fill="#2a4aa0" d="M56 254.5h0.9v0.9h-0.9zM64.1 254.9h0.9v0.9h-0.9zM56.7 254.8h0.9v0.9h-0.9zM56.8 253.1h0.9v0.9h-0.9zM51.8 275.8h0.9v0.9h-0.9zM51.7 275.2h0.9v0.9h-0.9z"/>
<path fill="#203c90" d="M52.2 254h0.9v0.9h-0.9zM60.8 253.4h0.9v0.9h-0.9zM63.7 273.7h0.9v0.9h-0.9zM57.2 273.9h0.9v0.9h-0.9zM60.6 275.7h0.9v0.9h-0.9zM52.8 277.2h0.9v0.9h-0.9z"/>
<path fill="#6080c8" d="M51.9 254.6h0.9v0.9h-0.9zM61 253.1h0.9v0.9h-0.9zM59.6 252.7h0.9v0.9h-0.9zM55.8 253.8h0.9v0.9h-0.9zM61.8 252.6h0.9v0.9h-0.9zM53.2 274.5h0.9v0.9h-0.9zM64.7 273.8h0.9v0.9h-0.9zM66.8 274.5h0.9v0.9h-0.9zM60 272.2h0.9v0.9h-0.9zM53.4 277.9h0.9v0.9h-0.9z"/>
<path fill="#3a5ab8" d="M52.8 254.2h0.9v0.9h-0.9zM57.2 253.3h0.9v0.9h-0.9zM51.6 254.1h0.9v0.9h-0.9zM60.1 252.8h0.9v0.9h-0.9zM55.7 254h0.9v0.9h-0.9zM51.2 274.3h0.9v0.9h-0.9z"/>
<path fill="#5070c0" d="M65.8 254h0.9v0.9h-0.9zM52.1 251.7h0.9v0.9h-0.9zM60.7 275.5h0.9v0.9h-0.9zM58.6 271.9h0.9v0.9h-0.9zM52.2 275.9h0.9v0.9h-0.9z"/>
<path fill="#284a9a" d="M59.3 255.6h1v1h-1zM64.4 273.4h1v1h-1z"/>
<path fill="#1e3a8a" d="M60.6 254h1v1h-1zM63.6 254.1h1v1h-1zM59.1 274.4h1v1h-1z"/>
<path fill="#22408f" d="M52.7 254.3h1v1h-1zM63.7 273.9h1v1h-1zM66.7 273.2h1v1h-1z"/>
<path fill="#1f5a8a" d="M65.8 255.2h1v1h-1zM57 254.2h1v1h-1zM63.5 274h1v1h-1zM55 274.8h1v1h-1z"/>
<path fill="#2a6a7a" d="M51.4 253.6h1v1h-1zM55.9 253.8h1v1h-1zM56.5 254.1h1v1h-1zM63.2 274.5h1v1h-1zM59.5 274.2h1v1h-1z"/>
<path fill="#3a5aa8" d="M63.5 254.3h1v1h-1zM62.1 254.8h1v1h-1zM63.9 274.2h1v1h-1z"/>
<path fill="#183070" d="M64.3 255.5h1v1h-1zM51.8 253.9h1v1h-1zM58 255.5h1v1h-1zM56.6 273.8h1v1h-1zM59.5 272.9h1v1h-1zM64.7 274h1v1h-1zM64.5 273.5h1v1h-1zM63.8 273.2h1v1h-1z"/>
<path fill="#ffffff" opacity="0.7" d="M52.7 255.1h1v1h-1zM52.9 254.3h1v1h-1zM54.8 254.5h1v1h-1zM52.1 254.8h1v1h-1zM58 254.8h1v1h-1zM64 253.7h1v1h-1zM64.7 253.7h1v1h-1zM52.4 274.9h1v1h-1zM58.4 274.8h1v1h-1zM66.7 273.9h1v1h-1zM60.6 272.9h1v1h-1zM56.3 274.7h1v1h-1zM61.2 274.5h1v1h-1zM57.1 275h1v1h-1z"/>
<path fill="#b8c4e8" d="M56.6 250.8h0.8v0.8h-0.8zM62.3 276.7h0.8v0.8h-0.8zM52.2 279h0.8v0.8h-0.8z"/>
<path fill="#a0b0e0" d="M66.3 252.5h0.8v0.8h-0.8z"/>
<path fill="#8aa0d8" d="M61.5 252.2h0.8v0.8h-0.8zM58.7 251.8h0.8v0.8h-0.8zM57.3 276.4h0.8v0.8h-0.8z"/>
<path fill="#2c7ab0" d="M56.8 272.3h0.9v0.9h-0.9zM61.4 274.9h0.9v0.9h-0.9zM58.6 275.7h0.9v0.9h-0.9z"/>
<path fill="#7088c8" d="M63.6 280.3h0.8v0.8h-0.8z"/>
<g shape-rendering="crispEdges">
<rect x="85" y="241.3" width="1" height="20.3" fill="url(#gs1)"/>
<rect x="86" y="240.8" width="1" height="20.8" fill="url(#gs2)"/>
<rect x="87" y="241.5" width="1" height="20.7" fill="url(#gs3)"/>
<rect x="88" y="240.9" width="1" height="21.3" fill="url(#gs4)"/>
<rect x="89" y="241.6" width="1" height="20.5" fill="url(#gs5)"/>
<rect x="90" y="241.2" width="1" height="21" fill="url(#gs6)"/>
<rect x="91" y="241.1" width="1" height="20.7" fill="url(#gs7)"/>
<rect x="92" y="241.9" width="1" height="20.6" fill="url(#gs8)"/>
<rect x="93" y="241.6" width="1" height="21.2" fill="url(#gs9)"/>
<rect x="94" y="241.7" width="1" height="21.3" fill="url(#gs10)"/>
<rect x="95" y="242.2" width="1" height="20.5" fill="url(#gs11)"/>
<rect x="96" y="242" width="1" height="21.1" fill="url(#gs12)"/>
<rect x="97" y="242.2" width="1" height="21.5" fill="url(#gs13)"/>
<rect x="98" y="242.5" width="1" height="21.4" fill="url(#gs14)"/>
<rect x="99" y="242.8" width="1" height="22" fill="url(#gs15)"/>
<rect x="100" y="243.3" width="1" height="21.6" fill="url(#gs16)"/>
<rect x="101" y="243.9" width="1" height="22" fill="url(#gs17)"/>
<rect x="102" y="244.3" width="1" height="22.3" fill="url(#gs18)"/>
<rect x="103" y="244.8" width="1" height="22.1" fill="url(#gs19)"/>
<rect x="104" y="245.3" width="1" height="21.8" fill="url(#gs20)"/>
<rect x="105" y="245.7" width="1" height="22.2" fill="url(#gs21)"/>
<rect x="106" y="245.9" width="1" height="23.2" fill="url(#gs22)"/>
<rect x="107" y="246.5" width="1" height="22.9" fill="url(#gs23)"/>
<rect x="108" y="247.3" width="1" height="22.7" fill="url(#gs24)"/>
<rect x="109" y="247.4" width="1" height="23.1" fill="url(#gs25)"/>
<rect x="110" y="247.9" width="1" height="23.3" fill="url(#gs26)"/>
<rect x="111" y="247.9" width="1" height="23.6" fill="url(#gs27)"/>
<rect x="112" y="248.2" width="1" height="23.3" fill="url(#gs28)"/>
<rect x="113" y="248.9" width="1" height="23.2" fill="url(#gs29)"/>
<rect x="114" y="248.9" width="1" height="23.6" fill="url(#gs30)"/>
<rect x="115" y="249.3" width="1" height="23.1" fill="url(#gs31)"/>
<rect x="116" y="249.2" width="1" height="23.4" fill="url(#gs32)"/>
<rect x="117" y="249.2" width="1" height="23.7" fill="url(#gs33)"/>
<rect x="118" y="249.2" width="1" height="23.7" fill="url(#gs34)"/>
<rect x="119" y="249.3" width="1" height="24" fill="url(#gs35)"/>
<rect x="120" y="249.6" width="1" height="23.8" fill="url(#gs36)"/>
<rect x="121" y="249.8" width="1" height="23.1" fill="url(#gs37)"/>
<rect x="122" y="249.5" width="1" height="24" fill="url(#gs38)"/>
<rect x="123" y="249.8" width="1" height="23.1" fill="url(#gs39)"/>
<rect x="124" y="249.2" width="1" height="23.9" fill="url(#gs40)"/>
<rect x="125" y="249.2" width="1" height="23.8" fill="url(#gs41)"/>
<rect x="126" y="249.2" width="1" height="24.2" fill="url(#gs42)"/>
<rect x="127" y="249.8" width="1" height="23.8" fill="url(#gs43)"/>
<rect x="128" y="249.3" width="1" height="24.1" fill="url(#gs44)"/>
<rect x="129" y="249.7" width="1" height="23.3" fill="url(#gs45)"/>
<rect x="130" y="249.9" width="1" height="23.8" fill="url(#gs46)"/>
<rect x="131" y="249.4" width="1" height="24.3" fill="url(#gs47)"/>
<rect x="132" y="249.5" width="1" height="23.8" fill="url(#gs48)"/>
<rect x="133" y="250" width="1" height="23.6" fill="url(#gs49)"/>
</g>
<path fill="#5070c0" d="M85.1 240h0.9v0.9h-0.9zM85.2 262.2h0.9v0.9h-0.9zM86 258.5h0.9v0.9h-0.9zM88.1 241.4h0.9v0.9h-0.9zM89 242.5h0.9v0.9h-0.9zM90.5 241.1h0.9v0.9h-0.9zM94.2 242.4h0.9v0.9h-0.9zM94.2 264.1h0.9v0.9h-0.9zM95.5 241.3h0.9v0.9h-0.9zM97.2 265.8h0.9v0.9h-0.9zM102.4 265.9h0.9v0.9h-0.9zM106.2 271.5h0.9v0.9h-0.9zM108.4 269.3h0.9v0.9h-0.9zM110.3 272.1h0.9v0.9h-0.9zM111.2 270.6h0.9v0.9h-0.9zM112.1 271.6h0.9v0.9h-0.9zM113.2 249.6h0.9v0.9h-0.9zM114.2 248.7h0.9v0.9h-0.9zM114.3 272.8h0.9v0.9h-0.9zM115.2 248.5h0.9v0.9h-0.9zM118.3 274h0.9v0.9h-0.9zM119.1 273.3h0.9v0.9h-0.9zM121.2 249.2h0.9v0.9h-0.9zM122.1 272.7h0.9v0.9h-0.9zM125.3 247.9h0.9v0.9h-0.9zM125 272.9h0.9v0.9h-0.9zM128 248.4h0.9v0.9h-0.9zM129 249.7h0.9v0.9h-0.9zM131.2 273h0.9v0.9h-0.9zM132.5 252.2h0.9v0.9h-0.9z"/>
<path fill="#6080c8" d="M85.2 241.2h0.9v0.9h-0.9zM86 240h0.9v0.9h-0.9zM87.4 241.4h0.9v0.9h-0.9zM89.5 241.6h0.9v0.9h-0.9zM90.3 262.9h0.9v0.9h-0.9zM91.5 241.3h0.9v0.9h-0.9zM92.3 239.5h0.9v0.9h-0.9zM95 241.2h0.9v0.9h-0.9zM96.1 263.1h0.9v0.9h-0.9zM96 263.2h0.9v0.9h-0.9zM97.4 243.6h0.9v0.9h-0.9zM97.4 241.2h0.9v0.9h-0.9zM98.4 262.5h0.9v0.9h-0.9zM98.4 263.7h0.9v0.9h-0.9zM99.4 262.5h0.9v0.9h-0.9zM100.2 245.8h0.9v0.9h-0.9zM100 266.1h0.9v0.9h-0.9zM104.2 245.7h0.9v0.9h-0.9zM104.5 246.6h0.9v0.9h-0.9zM108.1 246.5h0.9v0.9h-0.9zM112 246h0.9v0.9h-0.9zM116 247.1h0.9v0.9h-0.9zM117.1 249.7h0.9v0.9h-0.9zM123.1 271.4h0.9v0.9h-0.9zM126 247h0.9v0.9h-0.9zM128.5 272.7h0.9v0.9h-0.9zM131.2 249.7h0.9v0.9h-0.9zM132.1 249.8h0.9v0.9h-0.9z"/>
<path fill="#2c7ab0" d="M85.2 261.3h0.9v0.9h-0.9zM87.4 261.2h0.9v0.9h-0.9zM87.3 262.8h0.9v0.9h-0.9zM91.3 241.1h0.9v0.9h-0.9zM92.5 240.6h0.9v0.9h-0.9zM93 263.2h0.9v0.9h-0.9zM99.4 242h0.9v0.9h-0.9zM102.3 266h0.9v0.9h-0.9zM102.1 243.4h0.9v0.9h-0.9zM103.1 267.9h0.9v0.9h-0.9zM103 245.1h0.9v0.9h-0.9zM105.3 267.5h0.9v0.9h-0.9zM106.2 247.5h0.9v0.9h-0.9zM107.4 270.5h0.9v0.9h-0.9zM109.4 269.3h0.9v0.9h-0.9zM111.1 247.8h0.9v0.9h-0.9zM111.1 273.4h0.9v0.9h-0.9zM120.1 272.3h0.9v0.9h-0.9zM123.2 271.7h0.9v0.9h-0.9zM124.2 273.3h0.9v0.9h-0.9zM126 272.3h0.9v0.9h-0.9zM127.2 275.5h0.9v0.9h-0.9zM127.4 251h0.9v0.9h-0.9zM128.1 273.9h0.9v0.9h-0.9zM129.1 271.1h0.9v0.9h-0.9zM130.4 274.7h0.9v0.9h-0.9zM133.2 248.7h0.9v0.9h-0.9zM133.3 272.3h0.9v0.9h-0.9z"/>
<path fill="#2a4aa0" d="M86.5 263.1h0.9v0.9h-0.9zM86.5 241.6h0.9v0.9h-0.9zM88.2 264.4h0.9v0.9h-0.9zM89.4 262.8h0.9v0.9h-0.9zM90.1 263.5h0.9v0.9h-0.9zM93.4 241.6h0.9v0.9h-0.9zM94.3 262.2h0.9v0.9h-0.9zM96.3 242.9h0.9v0.9h-0.9zM97.3 263.7h0.9v0.9h-0.9zM98.1 241.1h0.9v0.9h-0.9zM99.1 261.9h0.9v0.9h-0.9zM100.2 265.1h0.9v0.9h-0.9zM101 243.8h0.9v0.9h-0.9zM102 245.1h0.9v0.9h-0.9zM104.1 263.3h0.9v0.9h-0.9zM105 269.7h0.9v0.9h-0.9zM107.4 245.5h0.9v0.9h-0.9zM107.4 270h0.9v0.9h-0.9zM108.4 247.9h0.9v0.9h-0.9zM109.4 247.7h0.9v0.9h-0.9zM110.4 270.2h0.9v0.9h-0.9zM112.1 246.5h0.9v0.9h-0.9zM115.4 271.4h0.9v0.9h-0.9zM117.5 273.4h0.9v0.9h-0.9zM117 271.2h0.9v0.9h-0.9zM118 250.3h0.9v0.9h-0.9zM118.3 271.8h0.9v0.9h-0.9zM120.3 272.4h0.9v0.9h-0.9zM120.5 249.3h0.9v0.9h-0.9zM122 248.9h0.9v0.9h-0.9zM123 247.5h0.9v0.9h-0.9zM125.4 250.5h0.9v0.9h-0.9zM127.4 273.8h0.9v0.9h-0.9zM128.2 247.2h0.9v0.9h-0.9zM129.4 251.2h0.9v0.9h-0.9zM130.4 250.8h0.9v0.9h-0.9z"/>
<path fill="#3a5ab8" d="M87 241.7h0.9v0.9h-0.9zM88.2 240.5h0.9v0.9h-0.9zM88 262.3h0.9v0.9h-0.9zM90.4 240.8h0.9v0.9h-0.9zM91.3 261.9h0.9v0.9h-0.9zM92.2 261.8h0.9v0.9h-0.9zM92.4 264.4h0.9v0.9h-0.9zM93.2 241.4h0.9v0.9h-0.9zM94.4 241.2h0.9v0.9h-0.9zM95.1 262.5h0.9v0.9h-0.9zM95.3 263.7h0.9v0.9h-0.9zM96 243h0.9v0.9h-0.9zM100 244.8h0.9v0.9h-0.9zM101.4 265h0.9v0.9h-0.9zM105.5 243.7h0.9v0.9h-0.9zM105.1 242.8h0.9v0.9h-0.9zM106.3 247.3h0.9v0.9h-0.9zM107.2 245.8h0.9v0.9h-0.9zM109.3 273.1h0.9v0.9h-0.9zM110.2 249h0.9v0.9h-0.9zM110.5 246.5h0.9v0.9h-0.9zM111.2 249.2h0.9v0.9h-0.9zM112.1 271.7h0.9v0.9h-0.9zM113.5 248.2h0.9v0.9h-0.9zM113.1 272.2h0.9v0.9h-0.9zM113.4 272.5h0.9v0.9h-0.9zM114.4 271.2h0.9v0.9h-0.9zM115.1 247.6h0.9v0.9h-0.9zM115 272.4h0.9v0.9h-0.9zM119 248.4h0.9v0.9h-0.9zM119.2 276h0.9v0.9h-0.9zM120.3 250.6h0.9v0.9h-0.9zM121.5 273.3h0.9v0.9h-0.9zM121.3 271.1h0.9v0.9h-0.9zM122.1 275.7h0.9v0.9h-0.9zM122.2 249.9h0.9v0.9h-0.9zM123.1 248.6h0.9v0.9h-0.9zM124.4 248.8h0.9v0.9h-0.9zM124.2 269h0.9v0.9h-0.9zM126.5 274.6h0.9v0.9h-0.9zM127.2 247.9h0.9v0.9h-0.9zM129 272.1h0.9v0.9h-0.9zM131.2 249.1h0.9v0.9h-0.9zM131.1 272.1h0.9v0.9h-0.9zM132.3 273.4h0.9v0.9h-0.9zM132.3 270.9h0.9v0.9h-0.9zM133.1 273.6h0.9v0.9h-0.9z"/>
<path fill="#203c90" d="M89.5 261.2h0.9v0.9h-0.9zM91.4 263.2h0.9v0.9h-0.9zM93.3 263.6h0.9v0.9h-0.9zM98.4 242.2h0.9v0.9h-0.9zM99 240.8h0.9v0.9h-0.9zM101.4 244.5h0.9v0.9h-0.9zM101.2 267.8h0.9v0.9h-0.9zM103.3 245.7h0.9v0.9h-0.9zM103.3 268.2h0.9v0.9h-0.9zM104.5 267.3h0.9v0.9h-0.9zM106.2 267.8h0.9v0.9h-0.9zM108 270.9h0.9v0.9h-0.9zM109.3 249.3h0.9v0.9h-0.9zM114.4 248.9h0.9v0.9h-0.9zM116.1 247.4h0.9v0.9h-0.9zM116.5 273.6h0.9v0.9h-0.9zM116.4 274.4h0.9v0.9h-0.9zM117.5 248.9h0.9v0.9h-0.9zM118.5 248.2h0.9v0.9h-0.9zM119.4 250.8h0.9v0.9h-0.9zM121.3 250.5h0.9v0.9h-0.9zM124.1 249.6h0.9v0.9h-0.9zM125.3 272.8h0.9v0.9h-0.9zM126.2 249.3h0.9v0.9h-0.9zM130.1 249.6h0.9v0.9h-0.9zM130.4 272.3h0.9v0.9h-0.9zM133 248.1h0.9v0.9h-0.9z"/>
<line x1="72.70" y1="224.50" x2="72.70" y2="237.20" stroke="#0a0a0a" stroke-width="1.1"/>
<path d="M70.00,236.70 L75.40,236.70 L72.70,242.70 Z" fill="#0a0a0a"/>
<text x="72.90" y="220.40" font-size="5.8" text-anchor="middle" fill="#111" stroke="#111" stroke-width="0.1">Ionomycin</text>
<text x="133.80" y="297.60" font-size="6.4" text-anchor="end" fill="#111" stroke="#111" stroke-width="0.1">180</text>
<text x="42.60" y="215.20" font-size="6.3" text-anchor="end" fill="#111" stroke="#111" stroke-width="0.1">10</text>
<text x="42.90" y="212.30" font-size="3.4650000000000003" text-anchor="start" fill="#111" stroke="#111" stroke-width="0.1">6</text>
<text x="42.60" y="227.80" font-size="6.3" text-anchor="end" fill="#111" stroke="#111" stroke-width="0.1">10</text>
<text x="42.90" y="224.90" font-size="3.4650000000000003" text-anchor="start" fill="#111" stroke="#111" stroke-width="0.1">5</text>
<text x="42.60" y="240.00" font-size="6.3" text-anchor="end" fill="#111" stroke="#111" stroke-width="0.1">10</text>
<text x="42.90" y="237.10" font-size="3.4650000000000003" text-anchor="start" fill="#111" stroke="#111" stroke-width="0.1">4</text>
<text x="42.60" y="253.50" font-size="6.3" text-anchor="end" fill="#111" stroke="#111" stroke-width="0.1">10</text>
<text x="42.90" y="250.60" font-size="3.4650000000000003" text-anchor="start" fill="#111" stroke="#111" stroke-width="0.1">3</text>
<text x="42.60" y="272.20" font-size="6.3" text-anchor="end" fill="#111" stroke="#111" stroke-width="0.1">10</text>
<text x="42.90" y="269.30" font-size="3.4650000000000003" text-anchor="start" fill="#111" stroke="#111" stroke-width="0.1">2</text>
<text x="44.80" y="288.50" font-size="6.3" text-anchor="end" fill="#111" stroke="#111" stroke-width="0.1">0</text>
<line x1="49.00" y1="213.00" x2="50.60" y2="213.00" stroke="#9a9a9a" stroke-width="0.7"/>
<line x1="49.00" y1="225.60" x2="50.60" y2="225.60" stroke="#9a9a9a" stroke-width="0.7"/>
<line x1="49.00" y1="237.80" x2="50.60" y2="237.80" stroke="#9a9a9a" stroke-width="0.7"/>
<line x1="49.00" y1="251.30" x2="50.60" y2="251.30" stroke="#9a9a9a" stroke-width="0.7"/>
<line x1="49.00" y1="270.00" x2="50.60" y2="270.00" stroke="#9a9a9a" stroke-width="0.7"/>
<line x1="49.00" y1="286.40" x2="50.60" y2="286.40" stroke="#9a9a9a" stroke-width="0.7"/>
<rect x="49.4" y="285.2" width="2" height="2" fill="#111"/>
<text x="0.00" y="0.00" font-size="7.2" text-anchor="middle" fill="#111" stroke="#111" stroke-width="0.1" transform="translate(28.40,249.80) rotate(-90)">Fluo-4</text>
<rect x="153.30" y="211.20" width="81.70" height="75.10" fill="none" stroke="#c8c8c8" stroke-width="0.7"/>
<line x1="153.30" y1="211.20" x2="153.30" y2="286.30" stroke="#9a9a9a" stroke-width="0.8"/>
<line x1="153.30" y1="286.30" x2="153.30" y2="287.80" stroke="#c0c0c0" stroke-width="0.6"/>
<line x1="163.51" y1="286.30" x2="163.51" y2="287.80" stroke="#c0c0c0" stroke-width="0.6"/>
<line x1="173.73" y1="286.30" x2="173.73" y2="287.80" stroke="#c0c0c0" stroke-width="0.6"/>
<line x1="183.94" y1="286.30" x2="183.94" y2="287.80" stroke="#c0c0c0" stroke-width="0.6"/>
<line x1="194.15" y1="286.30" x2="194.15" y2="287.80" stroke="#c0c0c0" stroke-width="0.6"/>
<line x1="204.36" y1="286.30" x2="204.36" y2="287.80" stroke="#c0c0c0" stroke-width="0.6"/>
<line x1="214.57" y1="286.30" x2="214.57" y2="287.80" stroke="#c0c0c0" stroke-width="0.6"/>
<line x1="224.79" y1="286.30" x2="224.79" y2="287.80" stroke="#c0c0c0" stroke-width="0.6"/>
<line x1="235.00" y1="286.30" x2="235.00" y2="287.80" stroke="#c0c0c0" stroke-width="0.6"/>
<rect x="153.4" y="239.5" width="16.1" height="28" fill="url(#g2)"/>
<path fill="#5070c0" d="M164.9 240.2h0.9v0.9h-0.9zM162 239h0.9v0.9h-0.9zM160.2 240.7h0.9v0.9h-0.9zM163.6 266.2h0.9v0.9h-0.9z"/>
<path fill="#3a5ab8" d="M157.3 239.9h0.9v0.9h-0.9zM157.1 241.3h0.9v0.9h-0.9zM159.4 239.6h0.9v0.9h-0.9zM156.4 241.3h0.9v0.9h-0.9zM164.6 267.5h0.9v0.9h-0.9zM155.1 264.8h0.9v0.9h-0.9zM162.8 267.3h0.9v0.9h-0.9zM166.3 267.4h0.9v0.9h-0.9zM165.8 267.5h0.9v0.9h-0.9z"/>
<path fill="#2a4aa0" d="M157.7 240.6h0.9v0.9h-0.9zM160.5 242.2h0.9v0.9h-0.9zM167.3 240.4h0.9v0.9h-0.9zM161.3 268h0.9v0.9h-0.9zM158 267.1h0.9v0.9h-0.9zM154 265.1h0.9v0.9h-0.9z"/>
<path fill="#2c7ab0" d="M161.1 240.3h0.9v0.9h-0.9zM165.2 239.9h0.9v0.9h-0.9zM168.2 266.6h0.9v0.9h-0.9zM159.3 267h0.9v0.9h-0.9zM155.8 266.6h0.9v0.9h-0.9zM155.2 265.8h0.9v0.9h-0.9zM165.2 266.1h0.9v0.9h-0.9z"/>
<path fill="#203c90" d="M155 237.8h0.9v0.9h-0.9z"/>
<path fill="#6080c8" d="M166.7 240h0.9v0.9h-0.9zM168.2 240.4h0.9v0.9h-0.9zM162.5 239.9h0.9v0.9h-0.9zM162.8 266.4h0.9v0.9h-0.9zM154 266.3h0.9v0.9h-0.9z"/>
<path fill="#1e3a8a" d="M158.7 241.8h1v1h-1zM159.6 240.3h1v1h-1zM168.3 240.2h1v1h-1zM155 265.4h1v1h-1zM161.1 264.7h1v1h-1z"/>
<path fill="#284a9a" d="M156.5 241h1v1h-1zM153.6 241.6h1v1h-1zM167.3 265.8h1v1h-1z"/>
<path fill="#3a5aa8" d="M154 240.5h1v1h-1zM156.5 241.9h1v1h-1zM160.9 240.3h1v1h-1z"/>
<path fill="#2a6a7a" d="M159.4 240.9h1v1h-1zM158.1 240.2h1v1h-1zM158.9 266.8h1v1h-1zM165.5 265.4h1v1h-1zM165.1 266.6h1v1h-1z"/>
<path fill="#1f5a8a" d="M155.7 240.8h1v1h-1zM163.9 240.5h1v1h-1zM160 264.7h1v1h-1zM160.4 266h1v1h-1zM165.6 266.6h1v1h-1z"/>
<path fill="#ffffff" opacity="0.7" d="M166.7 240.2h1v1h-1zM165 240.4h1v1h-1zM165.5 240.2h1v1h-1zM159.5 240.3h1v1h-1zM167.6 240.1h1v1h-1zM155.1 240.5h1v1h-1zM167.8 265.7h1v1h-1zM168.4 265.5h1v1h-1zM164.5 266.5h1v1h-1zM168.2 266.8h1v1h-1zM160.8 265h1v1h-1zM155.9 266.8h1v1h-1z"/>
<path fill="#a0b0e0" d="M154.8 237.8h0.8v0.8h-0.8z"/>
<path fill="#8aa0d8" d="M155.4 238.8h0.8v0.8h-0.8zM161.8 236.3h0.8v0.8h-0.8z"/>
<path fill="#7088c8" d="M162.1 235.5h0.8v0.8h-0.8zM165.4 267.9h0.8v0.8h-0.8zM162.7 267.4h0.8v0.8h-0.8z"/>
<path fill="#183070" d="M159.7 266.8h1v1h-1zM166.9 266.2h1v1h-1z"/>
<path fill="#22408f" d="M164.9 266h1v1h-1z"/>
<path fill="#b8c4e8" d="M155.8 268.7h0.8v0.8h-0.8zM155.6 268.3h0.8v0.8h-0.8z"/>
<rect x="187.5" y="231.3" width="47.5" height="29.2" fill="url(#g3)"/>
<path fill="#5070c0" d="M197.2 231.7h0.9v0.9h-0.9zM189.8 231.1h0.9v0.9h-0.9zM224.7 231.2h0.9v0.9h-0.9zM205 231.3h0.9v0.9h-0.9zM198.2 229.2h0.9v0.9h-0.9zM225.7 229.5h0.9v0.9h-0.9zM190.5 233.1h0.9v0.9h-0.9zM206.2 233.4h0.9v0.9h-0.9zM232.6 234.2h0.9v0.9h-0.9zM195.6 231.7h0.9v0.9h-0.9zM203.1 231.8h0.9v0.9h-0.9zM219.2 259h0.9v0.9h-0.9zM217.3 261.5h0.9v0.9h-0.9zM213.7 260.5h0.9v0.9h-0.9zM219.1 257.5h0.9v0.9h-0.9zM191.5 260.2h0.9v0.9h-0.9zM226.1 261.3h0.9v0.9h-0.9zM188 262h0.9v0.9h-0.9zM194.2 260.2h0.9v0.9h-0.9zM225.5 259.5h0.8v0.8h-0.8zM225.7 261.9h0.8v0.8h-0.8zM205.4 262.6h0.8v0.8h-0.8zM215.3 260.9h0.8v0.8h-0.8zM223.7 262.5h0.8v0.8h-0.8zM228.5 266.1h0.8v0.8h-0.8zM214.2 260.7h0.8v0.8h-0.8zM203.1 261h0.8v0.8h-0.8zM227.2 261.2h0.8v0.8h-0.8zM195.2 261.9h0.8v0.8h-0.8zM214.6 261h0.8v0.8h-0.8zM197.1 263.8h0.8v0.8h-0.8zM226.5 263h0.8v0.8h-0.8zM197.4 264.4h0.8v0.8h-0.8zM230.3 265.1h0.8v0.8h-0.8zM189 259.6h0.8v0.8h-0.8zM198.4 260h0.8v0.8h-0.8zM188.9 263.6h0.8v0.8h-0.8zM200.7 263.1h0.8v0.8h-0.8z"/>
<path fill="#3a5ab8" d="M204.8 233.5h0.9v0.9h-0.9zM211.4 232.4h0.9v0.9h-0.9zM198 230.2h0.9v0.9h-0.9zM208.2 233.9h0.9v0.9h-0.9zM189.6 230.4h0.9v0.9h-0.9zM188.1 228.6h0.9v0.9h-0.9zM208.6 231.9h0.9v0.9h-0.9zM220.7 261.2h0.9v0.9h-0.9zM199.2 260.2h0.9v0.9h-0.9zM211.8 257.1h0.9v0.9h-0.9zM233.6 261.8h0.9v0.9h-0.9zM209 258.9h0.9v0.9h-0.9zM209.3 259.5h0.9v0.9h-0.9zM224.1 262.4h0.9v0.9h-0.9zM215.3 261.9h0.8v0.8h-0.8zM197.3 261.3h0.8v0.8h-0.8zM223.9 259.8h0.8v0.8h-0.8zM206.7 261.1h0.8v0.8h-0.8zM204 260.1h0.8v0.8h-0.8zM197.3 260h0.8v0.8h-0.8zM232.9 261.5h0.8v0.8h-0.8zM190.8 260.1h0.8v0.8h-0.8zM208.4 261.2h0.8v0.8h-0.8zM209.2 261.1h0.8v0.8h-0.8zM220.2 264.8h0.8v0.8h-0.8zM233 261.9h0.8v0.8h-0.8zM224.2 262h0.8v0.8h-0.8zM221.3 260.7h0.8v0.8h-0.8zM206.9 261.9h0.8v0.8h-0.8zM220.3 264h0.8v0.8h-0.8zM225.9 262.5h0.8v0.8h-0.8z"/>
<path fill="#2c7ab0" d="M196 233.5h0.9v0.9h-0.9zM232.5 230.2h0.9v0.9h-0.9zM199.2 229.1h0.9v0.9h-0.9zM201.9 234.6h0.9v0.9h-0.9zM229.2 231.2h0.9v0.9h-0.9zM194.9 234.3h0.9v0.9h-0.9zM190.5 228.6h0.9v0.9h-0.9zM224 228.6h0.9v0.9h-0.9zM191.3 232.9h0.9v0.9h-0.9zM199.6 258.8h0.9v0.9h-0.9zM192.1 257.9h0.9v0.9h-0.9zM219 260.8h0.9v0.9h-0.9zM198 258.4h0.9v0.9h-0.9zM193.5 260.4h0.9v0.9h-0.9zM196.5 257.5h0.9v0.9h-0.9zM204.2 260.3h0.9v0.9h-0.9zM201.6 258.5h0.9v0.9h-0.9zM224 261.7h0.9v0.9h-0.9zM214.6 262h0.9v0.9h-0.9zM229.6 260.2h0.9v0.9h-0.9zM200.5 259.7h0.8v0.8h-0.8zM224.8 260.7h0.8v0.8h-0.8zM204.9 261.2h0.8v0.8h-0.8zM189.6 260.6h0.8v0.8h-0.8zM227.5 261.9h0.8v0.8h-0.8zM231.8 259.6h0.8v0.8h-0.8zM225.1 261.5h0.8v0.8h-0.8zM231.1 260.7h0.8v0.8h-0.8zM193.4 263.9h0.8v0.8h-0.8zM200.9 261.9h0.8v0.8h-0.8zM194.4 261.5h0.8v0.8h-0.8zM212.1 260.2h0.8v0.8h-0.8zM199.5 260.3h0.8v0.8h-0.8zM203.1 262.1h0.8v0.8h-0.8zM218.8 260.8h0.8v0.8h-0.8z"/>
<path fill="#203c90" d="M202.8 234.6h0.9v0.9h-0.9zM223.1 232.4h0.9v0.9h-0.9zM216.7 232h0.9v0.9h-0.9zM204.6 230.9h0.9v0.9h-0.9zM212.6 230.7h0.9v0.9h-0.9zM207 260.3h0.9v0.9h-0.9zM206.2 263.6h0.9v0.9h-0.9zM218.5 263.6h0.9v0.9h-0.9zM223.8 261.7h0.9v0.9h-0.9zM204 260.7h0.9v0.9h-0.9zM219.5 259.1h0.9v0.9h-0.9zM196.8 260.1h0.8v0.8h-0.8zM219.5 263.2h0.8v0.8h-0.8zM234.1 265.9h0.8v0.8h-0.8zM229.7 263.7h0.8v0.8h-0.8zM188.1 259.7h0.8v0.8h-0.8zM216.5 260.8h0.8v0.8h-0.8zM201.6 262.2h0.8v0.8h-0.8zM212.3 259.9h0.8v0.8h-0.8zM193.1 260.3h0.8v0.8h-0.8z"/>
<path fill="#6080c8" d="M195.4 232h0.9v0.9h-0.9zM187.6 232.6h0.9v0.9h-0.9zM211.9 231.8h0.9v0.9h-0.9zM215.2 232.7h0.9v0.9h-0.9zM206.8 230.8h0.9v0.9h-0.9zM215.8 229.8h0.9v0.9h-0.9zM199.2 258.6h0.9v0.9h-0.9zM227.5 260.7h0.9v0.9h-0.9zM195 260.7h0.9v0.9h-0.9zM203.7 256.7h0.9v0.9h-0.9zM205.8 260.1h0.9v0.9h-0.9zM215.8 259.4h0.9v0.9h-0.9zM201.4 264.9h0.8v0.8h-0.8zM206.5 261.7h0.8v0.8h-0.8zM227.2 266h0.8v0.8h-0.8zM230.9 259.8h0.8v0.8h-0.8zM199.1 261.4h0.8v0.8h-0.8zM229.3 265.9h0.8v0.8h-0.8zM213.7 260.4h0.8v0.8h-0.8zM210.8 264.3h0.8v0.8h-0.8zM196.2 262.4h0.8v0.8h-0.8zM226 260.6h0.8v0.8h-0.8zM232.4 262.9h0.8v0.8h-0.8zM206.4 264h0.8v0.8h-0.8zM206.6 261.2h0.8v0.8h-0.8zM221.3 261.5h0.8v0.8h-0.8z"/>
<path fill="#2a4aa0" d="M228.6 232.3h0.9v0.9h-0.9zM216 231.3h0.9v0.9h-0.9zM188.5 233.1h0.9v0.9h-0.9zM194.5 232h0.9v0.9h-0.9zM195.2 230.9h0.9v0.9h-0.9zM194.9 231.5h0.9v0.9h-0.9zM217.5 232.5h0.9v0.9h-0.9zM202.8 259.6h0.9v0.9h-0.9zM205.6 256.2h0.9v0.9h-0.9zM208.8 260.4h0.9v0.9h-0.9zM204.1 259.3h0.9v0.9h-0.9zM199.3 259.6h0.9v0.9h-0.9zM216.8 259.2h0.9v0.9h-0.9zM194.6 259.5h0.9v0.9h-0.9zM202.4 262.1h0.8v0.8h-0.8zM231.1 260.5h0.8v0.8h-0.8zM210.2 259.8h0.8v0.8h-0.8zM195.3 262h0.8v0.8h-0.8zM190.6 262.4h0.8v0.8h-0.8zM230.5 262h0.8v0.8h-0.8zM217.3 259.7h0.8v0.8h-0.8zM214 260.2h0.8v0.8h-0.8zM194.7 261.1h0.8v0.8h-0.8zM196.6 265.2h0.8v0.8h-0.8zM189.7 260.6h0.8v0.8h-0.8zM213.8 260.7h0.8v0.8h-0.8z"/>
<path fill="#284a9a" d="M220.6 232.7h1v1h-1zM232.7 232.5h1v1h-1zM188.2 232.4h1v1h-1zM222.2 232h1v1h-1zM198.4 232.6h1v1h-1zM216.9 232.1h1v1h-1zM197 234h1v1h-1zM203.1 232.5h1v1h-1zM209.6 235.2h1v1h-1zM213.7 259.7h1v1h-1zM216.6 258.6h1v1h-1zM229.9 259.4h1v1h-1zM200.9 260h1v1h-1zM210.9 258.2h1v1h-1zM224.3 258.6h1v1h-1zM189.8 259.6h1v1h-1z"/>
<path fill="#2a6a7a" d="M217.1 231.9h1v1h-1zM217.4 233.4h1v1h-1zM230.4 234.7h1v1h-1zM224.2 232.1h1v1h-1zM204.6 232.2h1v1h-1zM209.5 258.4h1v1h-1zM206 259.7h1v1h-1z"/>
<path fill="#22408f" d="M229.6 233h1v1h-1zM229.9 233.5h1v1h-1zM189 233.8h1v1h-1zM203.5 233.6h1v1h-1zM203.6 232.2h1v1h-1zM226.5 260h1v1h-1zM213.3 259.3h1v1h-1zM199 259.1h1v1h-1z"/>
<path fill="#1f5a8a" d="M196.4 232.1h1v1h-1zM216.2 233.7h1v1h-1zM190.2 259.8h1v1h-1zM211.2 259.6h1v1h-1zM222.7 258.7h1v1h-1zM228.1 259.6h1v1h-1zM192.5 257.2h1v1h-1zM190.3 259.4h1v1h-1z"/>
<path fill="#183070" d="M229.7 233.6h1v1h-1zM212.2 232.9h1v1h-1zM220.1 233.2h1v1h-1zM217 232.7h1v1h-1zM222.6 232.3h1v1h-1zM209.7 233.9h1v1h-1zM191.7 258.1h1v1h-1zM202.4 259.3h1v1h-1zM207.3 259h1v1h-1zM196.4 259.3h1v1h-1zM215.8 258.6h1v1h-1zM216.2 259.2h1v1h-1z"/>
<path fill="#3a5aa8" d="M209.3 232.4h1v1h-1zM190.7 234.7h1v1h-1zM204.4 233.2h1v1h-1zM231.9 232.6h1v1h-1zM189.1 233.1h1v1h-1zM229.9 232.6h1v1h-1zM189.8 233.6h1v1h-1zM215.8 259.8h1v1h-1zM210.5 259.1h1v1h-1zM212.6 259.1h1v1h-1zM191.9 259.7h1v1h-1zM211.9 260h1v1h-1zM213.3 258.2h1v1h-1z"/>
<path fill="#1e3a8a" d="M231.4 233.2h1v1h-1zM211.6 232.8h1v1h-1zM207.9 258.8h1v1h-1zM191 259.8h1v1h-1zM188.5 259.6h1v1h-1zM219.2 258.3h1v1h-1zM191.6 259.8h1v1h-1zM218.8 260h1v1h-1z"/>
<path fill="#ffffff" opacity="0.7" d="M220.7 232.5h1v1h-1zM226 232.1h1v1h-1zM207.8 231.8h1v1h-1zM211.8 231.8h1v1h-1zM190 233.4h1v1h-1zM203.7 233.1h1v1h-1zM225.9 232.8h1v1h-1zM232.5 233.2h1v1h-1zM211.5 232.6h1v1h-1zM214.4 232.9h1v1h-1zM231.1 233.3h1v1h-1zM198.3 233.1h1v1h-1zM223.2 233.7h1v1h-1zM210.3 233.1h1v1h-1zM192.4 232h1v1h-1zM202.7 233.6h1v1h-1zM229 233.1h1v1h-1zM222.2 232.5h1v1h-1zM197.4 258.8h1v1h-1zM218.5 259h1v1h-1zM192.2 259.3h1v1h-1zM195.9 258.4h1v1h-1zM230 259.4h1v1h-1zM218 259.3h1v1h-1zM224.1 258.6h1v1h-1zM213.6 259.7h1v1h-1zM207.1 259h1v1h-1zM202.3 259.3h1v1h-1zM230.9 259.2h1v1h-1zM190 259.9h1v1h-1zM193 259.8h1v1h-1zM225.2 258.7h1v1h-1zM208.3 259.5h1v1h-1zM188.2 259.5h1v1h-1zM231.1 259h1v1h-1zM233.1 259.5h1v1h-1z"/>
<path fill="#7088c8" d="M204.8 229.7h0.8v0.8h-0.8zM203.7 228.8h0.8v0.8h-0.8zM211.8 229.5h0.8v0.8h-0.8zM219.6 231.7h0.8v0.8h-0.8zM196.6 230.8h0.8v0.8h-0.8zM200.3 226.6h0.8v0.8h-0.8zM219.8 231.3h0.8v0.8h-0.8zM230.5 261.4h0.8v0.8h-0.8zM205.6 263.1h0.8v0.8h-0.8zM215.9 265.3h0.8v0.8h-0.8zM231.5 260.9h0.8v0.8h-0.8zM200.5 263.9h0.8v0.8h-0.8zM215.5 260.5h0.8v0.8h-0.8zM207.8 265.7h0.8v0.8h-0.8zM232.5 260.9h0.8v0.8h-0.8zM206.1 261.4h0.8v0.8h-0.8zM194.6 259.7h0.8v0.8h-0.8zM208.6 262.8h0.8v0.8h-0.8zM204.6 263h0.8v0.8h-0.8zM188.8 261.5h0.8v0.8h-0.8zM194.8 262.3h0.8v0.8h-0.8z"/>
<path fill="#b8c4e8" d="M199.8 228.8h0.8v0.8h-0.8zM195.4 229.3h0.8v0.8h-0.8zM221.7 230.4h0.8v0.8h-0.8zM197.1 227.5h0.8v0.8h-0.8zM209.1 225.8h0.8v0.8h-0.8zM209.1 229.2h0.8v0.8h-0.8zM229.8 228.2h0.8v0.8h-0.8zM192.3 260.5h0.8v0.8h-0.8zM201.2 265.9h0.8v0.8h-0.8zM221.5 263.1h0.8v0.8h-0.8zM204.4 262.7h0.8v0.8h-0.8zM209.7 263.4h0.8v0.8h-0.8zM214.7 262.3h0.8v0.8h-0.8zM233.4 262.2h0.8v0.8h-0.8zM230.9 259.7h0.8v0.8h-0.8zM197.5 259.6h0.8v0.8h-0.8zM200 259.7h0.8v0.8h-0.8zM215.4 263.3h0.8v0.8h-0.8zM209 262.3h0.8v0.8h-0.8zM203.6 262.6h0.8v0.8h-0.8z"/>
<path fill="#a0b0e0" d="M233.3 229.7h0.8v0.8h-0.8zM209 229.6h0.8v0.8h-0.8zM211.2 231.2h0.8v0.8h-0.8zM221.2 226.7h0.8v0.8h-0.8zM221.2 229.5h0.8v0.8h-0.8zM202.8 230.1h0.8v0.8h-0.8zM199.6 222.2h0.8v0.8h-0.8zM187.8 228.5h0.8v0.8h-0.8zM226.9 230.1h0.8v0.8h-0.8zM200.3 263.1h0.8v0.8h-0.8zM204.6 262.9h0.8v0.8h-0.8zM228 260.1h0.8v0.8h-0.8zM219.4 260.3h0.8v0.8h-0.8zM233.1 260.7h0.8v0.8h-0.8zM206.1 259.6h0.8v0.8h-0.8zM192.2 264.2h0.8v0.8h-0.8zM199.6 262.9h0.8v0.8h-0.8zM191.2 259.6h0.8v0.8h-0.8z"/>
<path fill="#8aa0d8" d="M231.5 228.9h0.8v0.8h-0.8zM232.3 229h0.8v0.8h-0.8zM197.4 260.3h0.8v0.8h-0.8zM187.9 260.4h0.8v0.8h-0.8zM233.5 261.4h0.8v0.8h-0.8zM193.5 261.7h0.8v0.8h-0.8zM223.6 261.4h0.8v0.8h-0.8zM209 262.1h0.8v0.8h-0.8zM220.9 261h0.8v0.8h-0.8zM190.3 263.5h0.8v0.8h-0.8zM194.3 261.5h0.8v0.8h-0.8zM204.1 262.6h0.8v0.8h-0.8zM228.1 261.3h0.8v0.8h-0.8zM224.2 265.7h0.8v0.8h-0.8zM222.7 262.2h0.8v0.8h-0.8z"/>
<line x1="174.50" y1="224.50" x2="174.50" y2="237.20" stroke="#0a0a0a" stroke-width="1.1"/>
<path d="M171.80,236.70 L177.20,236.70 L174.50,242.70 Z" fill="#0a0a0a"/>
<text x="174.60" y="220.40" font-size="5.8" text-anchor="middle" fill="#111" stroke="#111" stroke-width="0.1">Ionomycin</text>
<text x="235.00" y="297.60" font-size="6.4" text-anchor="end" fill="#111" stroke="#111" stroke-width="0.1">180</text>
<text x="145.20" y="215.20" font-size="6.3" text-anchor="end" fill="#111" stroke="#111" stroke-width="0.1">10</text>
<text x="145.50" y="212.30" font-size="3.4650000000000003" text-anchor="start" fill="#111" stroke="#111" stroke-width="0.1">6</text>
<text x="145.20" y="227.80" font-size="6.3" text-anchor="end" fill="#111" stroke="#111" stroke-width="0.1">10</text>
<text x="145.50" y="224.90" font-size="3.4650000000000003" text-anchor="start" fill="#111" stroke="#111" stroke-width="0.1">5</text>
<text x="145.20" y="240.00" font-size="6.3" text-anchor="end" fill="#111" stroke="#111" stroke-width="0.1">10</text>
<text x="145.50" y="237.10" font-size="3.4650000000000003" text-anchor="start" fill="#111" stroke="#111" stroke-width="0.1">4</text>
<text x="145.20" y="253.50" font-size="6.3" text-anchor="end" fill="#111" stroke="#111" stroke-width="0.1">10</text>
<text x="145.50" y="250.60" font-size="3.4650000000000003" text-anchor="start" fill="#111" stroke="#111" stroke-width="0.1">3</text>
<text x="145.20" y="272.20" font-size="6.3" text-anchor="end" fill="#111" stroke="#111" stroke-width="0.1">10</text>
<text x="145.50" y="269.30" font-size="3.4650000000000003" text-anchor="start" fill="#111" stroke="#111" stroke-width="0.1">2</text>
<text x="147.40" y="288.50" font-size="6.3" text-anchor="end" fill="#111" stroke="#111" stroke-width="0.1">0</text>
<line x1="151.70" y1="213.00" x2="153.30" y2="213.00" stroke="#9a9a9a" stroke-width="0.7"/>
<line x1="151.70" y1="225.60" x2="153.30" y2="225.60" stroke="#9a9a9a" stroke-width="0.7"/>
<line x1="151.70" y1="237.80" x2="153.30" y2="237.80" stroke="#9a9a9a" stroke-width="0.7"/>
<line x1="151.70" y1="251.30" x2="153.30" y2="251.30" stroke="#9a9a9a" stroke-width="0.7"/>
<line x1="151.70" y1="270.00" x2="153.30" y2="270.00" stroke="#9a9a9a" stroke-width="0.7"/>
<line x1="151.70" y1="286.40" x2="153.30" y2="286.40" stroke="#9a9a9a" stroke-width="0.7"/>
<rect x="152.1" y="285.2" width="2" height="2" fill="#111"/>
<text x="55.80" y="309.00" font-size="7.0" text-anchor="start" fill="#111" stroke="#111" stroke-width="0.1">Time (sec)</text>
<line x1="97.00" y1="307.40" x2="226.10" y2="307.40" stroke="#0a0a0a" stroke-width="1.2"/>
<path d="M225.60,305.00 L225.60,309.80 L231.60,307.40 Z" fill="#0a0a0a"/>
<text x="22.70" y="327.40" font-size="9.6" text-anchor="start" font-weight="bold" fill="#111" stroke="#111" stroke-width="0.1">ii</text>
<text x="82.00" y="329.10" font-size="8.0" text-anchor="start" fill="#111" stroke="#111" stroke-width="0.1">HNF1A</text>
<text x="109.12" y="326.54" font-size="5.28" text-anchor="start" fill="#111" stroke="#111" stroke-width="0.1">+/+</text>
<line x1="67.30" y1="333.90" x2="133.80" y2="333.90" stroke="#0a0a0a" stroke-width="1.7"/>
<line x1="63.20" y1="335.80" x2="63.20" y2="439.30" stroke="#0a0a0a" stroke-width="1.3"/>
<line x1="62.60" y1="438.70" x2="134.30" y2="438.70" stroke="#0a0a0a" stroke-width="1.3"/>
<line x1="60.20" y1="438.70" x2="63.20" y2="438.70" stroke="#0a0a0a" stroke-width="1.1"/>
<text x="56.90" y="441.70" font-size="8.5" text-anchor="end" fill="#111" stroke="#111" stroke-width="0.1">0</text>
<line x1="60.20" y1="418.72" x2="63.20" y2="418.72" stroke="#0a0a0a" stroke-width="1.1"/>
<text x="56.90" y="421.72" font-size="8.5" text-anchor="end" fill="#111" stroke="#111" stroke-width="0.1">500</text>
<line x1="60.20" y1="398.74" x2="63.20" y2="398.74" stroke="#0a0a0a" stroke-width="1.1"/>
<text x="56.90" y="401.74" font-size="8.5" text-anchor="end" fill="#111" stroke="#111" stroke-width="0.1">1000</text>
<line x1="60.20" y1="378.76" x2="63.20" y2="378.76" stroke="#0a0a0a" stroke-width="1.1"/>
<text x="56.90" y="381.76" font-size="8.5" text-anchor="end" fill="#111" stroke="#111" stroke-width="0.1">1500</text>
<line x1="60.20" y1="358.78" x2="63.20" y2="358.78" stroke="#0a0a0a" stroke-width="1.1"/>
<text x="56.90" y="361.78" font-size="8.5" text-anchor="end" fill="#111" stroke="#111" stroke-width="0.1">2000</text>
<line x1="60.20" y1="338.80" x2="63.20" y2="338.80" stroke="#0a0a0a" stroke-width="1.1"/>
<text x="56.90" y="341.80" font-size="8.5" text-anchor="end" fill="#111" stroke="#111" stroke-width="0.1">2500</text>
<line x1="75.20" y1="432.51" x2="75.20" y2="433.11" stroke="#0a0a0a" stroke-width="1.1"/>
<line x1="72.00" y1="432.51" x2="78.40" y2="432.51" stroke="#0a0a0a" stroke-width="1.3"/>
<rect x="67.30" y="433.11" width="15.80" height="5.59" fill="#c0102e" stroke="#6a0c1a" stroke-width="0.5" stroke-opacity="0.6"/>
<line x1="98.75" y1="407.33" x2="98.75" y2="409.33" stroke="#0a0a0a" stroke-width="1.1"/>
<line x1="95.55" y1="407.33" x2="101.95" y2="407.33" stroke="#0a0a0a" stroke-width="1.3"/>
<rect x="91.00" y="409.33" width="15.50" height="29.37" fill="#2b4c8e" stroke="#152d5a" stroke-width="0.5" stroke-opacity="0.6"/>
<line x1="122.10" y1="429.51" x2="122.10" y2="430.71" stroke="#0a0a0a" stroke-width="1.1"/>
<line x1="118.90" y1="429.51" x2="125.30" y2="429.51" stroke="#0a0a0a" stroke-width="1.3"/>
<rect x="114.30" y="430.71" width="15.60" height="7.99" fill="#6aae3c" stroke="#3d7a1e" stroke-width="0.5" stroke-opacity="0.6"/>
<line x1="75.20" y1="438.70" x2="75.20" y2="441.30" stroke="#0a0a0a" stroke-width="1.1"/>
<line x1="98.80" y1="438.70" x2="98.80" y2="441.30" stroke="#0a0a0a" stroke-width="1.1"/>
<line x1="122.10" y1="438.70" x2="122.10" y2="441.30" stroke="#0a0a0a" stroke-width="1.1"/>
<text x="0.00" y="0.00" font-size="9.3" text-anchor="middle" fill="#111" stroke="#111" stroke-width="0.1" transform="translate(31.00,386.80) rotate(-90)">Fluo-4 (MFI (a.u.))</text>
<text x="202.00" y="329.10" font-size="8.0" text-anchor="start" fill="#111" stroke="#111" stroke-width="0.1">HNF1A</text>
<text x="229.12" y="326.54" font-size="5.28" text-anchor="start" fill="#111" stroke="#111" stroke-width="0.1">-/-</text>
<line x1="185.20" y1="333.90" x2="251.70" y2="333.90" stroke="#0a0a0a" stroke-width="1.7"/>
<line x1="181.20" y1="335.80" x2="181.20" y2="439.30" stroke="#0a0a0a" stroke-width="1.3"/>
<line x1="180.60" y1="438.70" x2="252.50" y2="438.70" stroke="#0a0a0a" stroke-width="1.3"/>
<line x1="178.20" y1="438.70" x2="181.20" y2="438.70" stroke="#0a0a0a" stroke-width="1.1"/>
<text x="174.90" y="441.70" font-size="8.5" text-anchor="end" fill="#111" stroke="#111" stroke-width="0.1">0</text>
<line x1="178.20" y1="418.72" x2="181.20" y2="418.72" stroke="#0a0a0a" stroke-width="1.1"/>
<text x="174.90" y="421.72" font-size="8.5" text-anchor="end" fill="#111" stroke="#111" stroke-width="0.1">500</text>
<line x1="178.20" y1="398.74" x2="181.20" y2="398.74" stroke="#0a0a0a" stroke-width="1.1"/>
<text x="174.90" y="401.74" font-size="8.5" text-anchor="end" fill="#111" stroke="#111" stroke-width="0.1">1000</text>
<line x1="178.20" y1="378.76" x2="181.20" y2="378.76" stroke="#0a0a0a" stroke-width="1.1"/>
<text x="174.90" y="381.76" font-size="8.5" text-anchor="end" fill="#111" stroke="#111" stroke-width="0.1">1500</text>
<line x1="178.20" y1="358.78" x2="181.20" y2="358.78" stroke="#0a0a0a" stroke-width="1.1"/>
<text x="174.90" y="361.78" font-size="8.5" text-anchor="end" fill="#111" stroke="#111" stroke-width="0.1">2000</text>
<line x1="178.20" y1="338.80" x2="181.20" y2="338.80" stroke="#0a0a0a" stroke-width="1.1"/>
<text x="174.90" y="341.80" font-size="8.5" text-anchor="end" fill="#111" stroke="#111" stroke-width="0.1">2500</text>
<line x1="193.00" y1="416.12" x2="193.00" y2="417.92" stroke="#0a0a0a" stroke-width="1.1"/>
<line x1="189.80" y1="416.12" x2="196.20" y2="416.12" stroke="#0a0a0a" stroke-width="1.3"/>
<rect x="185.50" y="417.92" width="15.00" height="20.78" fill="#c0102e" stroke="#6a0c1a" stroke-width="0.5" stroke-opacity="0.6"/>
<line x1="216.40" y1="345.59" x2="216.40" y2="355.18" stroke="#0a0a0a" stroke-width="1.1"/>
<line x1="213.20" y1="345.59" x2="219.60" y2="345.59" stroke="#0a0a0a" stroke-width="1.3"/>
<rect x="208.60" y="355.18" width="15.60" height="83.52" fill="#2b4c8e" stroke="#152d5a" stroke-width="0.5" stroke-opacity="0.6"/>
<line x1="240.10" y1="363.18" x2="240.10" y2="376.36" stroke="#0a0a0a" stroke-width="1.1"/>
<line x1="236.90" y1="363.18" x2="243.30" y2="363.18" stroke="#0a0a0a" stroke-width="1.3"/>
<rect x="232.30" y="376.36" width="15.60" height="62.34" fill="#6aae3c" stroke="#3d7a1e" stroke-width="0.5" stroke-opacity="0.6"/>
<line x1="193.00" y1="438.70" x2="193.00" y2="441.30" stroke="#0a0a0a" stroke-width="1.1"/>
<line x1="216.40" y1="438.70" x2="216.40" y2="441.30" stroke="#0a0a0a" stroke-width="1.1"/>
<line x1="240.10" y1="438.70" x2="240.10" y2="441.30" stroke="#0a0a0a" stroke-width="1.1"/>
<text x="0.00" y="0.00" font-size="9.3" text-anchor="middle" fill="#111" stroke="#111" stroke-width="0.1" transform="translate(148.40,386.80) rotate(-90)">Fluo-4 (MFI (a.u.))</text>
<text x="0.00" y="0.00" font-size="8.7" text-anchor="end" fill="#111" stroke="#111" stroke-width="0.1" transform="translate(80.80,448.20) rotate(-45)">0</text>
<text x="0.00" y="0.00" font-size="8.7" text-anchor="end" fill="#111" stroke="#111" stroke-width="0.1" transform="translate(104.40,448.20) rotate(-45)">35 sec</text>
<text x="0.00" y="0.00" font-size="8.7" text-anchor="end" fill="#111" stroke="#111" stroke-width="0.1" transform="translate(127.70,448.20) rotate(-45)">147 sec</text>
<text x="0.00" y="0.00" font-size="8.7" text-anchor="end" fill="#111" stroke="#111" stroke-width="0.1" transform="translate(198.80,448.20) rotate(-45)">0</text>
<text x="0.00" y="0.00" font-size="8.7" text-anchor="end" fill="#111" stroke="#111" stroke-width="0.1" transform="translate(222.20,448.20) rotate(-45)">35 sec</text>
<text x="0.00" y="0.00" font-size="8.7" text-anchor="end" fill="#111" stroke="#111" stroke-width="0.1" transform="translate(245.80,448.20) rotate(-45)">147 sec</text>
<text x="98.40" y="403.00" font-size="9.0" text-anchor="middle" fill="#111" stroke="#111" stroke-width="0.1">***</text>
<text x="122.40" y="415.80" font-size="8.6" text-anchor="middle" fill="#111" stroke="#111" stroke-width="0.1">§§§</text>
<text x="122.40" y="424.00" font-size="8.2" text-anchor="middle" fill="#111" stroke="#111" stroke-width="0.1">ns</text>
<text x="216.60" y="343.00" font-size="9.0" text-anchor="middle" fill="#111" stroke="#111" stroke-width="0.1">**</text>
<text x="240.00" y="353.00" font-size="7.8" text-anchor="middle" fill="#111" stroke="#111" stroke-width="0.1">ns</text>
<text x="240.00" y="361.80" font-size="8.4" text-anchor="middle" fill="#111" stroke="#111" stroke-width="0.1">*</text>
<text x="0.00" y="0.00" font-size="12.6" text-anchor="start" font-weight="bold" fill="#111" stroke="#111" stroke-width="0.1" transform="translate(269.10,17.70) scale(0.92,1)">C</text>
<text x="414.40" y="31.00" font-size="8.2" text-anchor="middle" fill="#111" stroke="#111" stroke-width="0.1">Fura Red</text>
<line x1="322.90" y1="35.90" x2="505.20" y2="35.90" stroke="#0a0a0a" stroke-width="1.6"/>
<text x="345.80" y="45.90" font-size="8.0" text-anchor="start" fill="#111" stroke="#111" stroke-width="0.1">HNF1A</text>
<text x="372.92" y="43.34" font-size="5.28" text-anchor="start" fill="#111" stroke="#111" stroke-width="0.1">+/+</text>
<text x="453.20" y="45.90" font-size="8.0" text-anchor="start" fill="#111" stroke="#111" stroke-width="0.1">HNF1A</text>
<text x="480.32" y="43.34" font-size="5.28" text-anchor="start" fill="#111" stroke="#111" stroke-width="0.1">-/-</text>
<rect x="323.20" y="52.50" width="82.50" height="74.70" fill="none" stroke="#c8c8c8" stroke-width="0.7"/>
<line x1="323.20" y1="52.50" x2="323.20" y2="127.20" stroke="#9a9a9a" stroke-width="0.8"/>
<line x1="323.20" y1="127.20" x2="323.20" y2="128.70" stroke="#c0c0c0" stroke-width="0.6"/>
<line x1="333.51" y1="127.20" x2="333.51" y2="128.70" stroke="#c0c0c0" stroke-width="0.6"/>
<line x1="343.82" y1="127.20" x2="343.82" y2="128.70" stroke="#c0c0c0" stroke-width="0.6"/>
<line x1="354.14" y1="127.20" x2="354.14" y2="128.70" stroke="#c0c0c0" stroke-width="0.6"/>
<line x1="364.45" y1="127.20" x2="364.45" y2="128.70" stroke="#c0c0c0" stroke-width="0.6"/>
<line x1="374.76" y1="127.20" x2="374.76" y2="128.70" stroke="#c0c0c0" stroke-width="0.6"/>
<line x1="385.07" y1="127.20" x2="385.07" y2="128.70" stroke="#c0c0c0" stroke-width="0.6"/>
<line x1="395.39" y1="127.20" x2="395.39" y2="128.70" stroke="#c0c0c0" stroke-width="0.6"/>
<line x1="405.70" y1="127.20" x2="405.70" y2="128.70" stroke="#c0c0c0" stroke-width="0.6"/>
<line x1="321.80" y1="52.50" x2="323.20" y2="52.50" stroke="#b0b0b0" stroke-width="0.6"/>
<line x1="321.80" y1="59.97" x2="323.20" y2="59.97" stroke="#b0b0b0" stroke-width="0.6"/>
<line x1="321.80" y1="67.44" x2="323.20" y2="67.44" stroke="#b0b0b0" stroke-width="0.6"/>
<line x1="321.80" y1="74.91" x2="323.20" y2="74.91" stroke="#b0b0b0" stroke-width="0.6"/>
<line x1="321.80" y1="82.38" x2="323.20" y2="82.38" stroke="#b0b0b0" stroke-width="0.6"/>
<line x1="321.80" y1="89.85" x2="323.20" y2="89.85" stroke="#b0b0b0" stroke-width="0.6"/>
<line x1="321.80" y1="97.32" x2="323.20" y2="97.32" stroke="#b0b0b0" stroke-width="0.6"/>
<line x1="321.80" y1="104.79" x2="323.20" y2="104.79" stroke="#b0b0b0" stroke-width="0.6"/>
<line x1="321.80" y1="112.26" x2="323.20" y2="112.26" stroke="#b0b0b0" stroke-width="0.6"/>
<line x1="321.80" y1="119.73" x2="323.20" y2="119.73" stroke="#b0b0b0" stroke-width="0.6"/>
<line x1="321.80" y1="127.20" x2="323.20" y2="127.20" stroke="#b0b0b0" stroke-width="0.6"/>
<text x="405.70" y="138.60" font-size="6.4" text-anchor="end" fill="#111" stroke="#111" stroke-width="0.1">180</text>
<rect x="429.90" y="52.50" width="82.10" height="74.70" fill="none" stroke="#c8c8c8" stroke-width="0.7"/>
<line x1="429.90" y1="52.50" x2="429.90" y2="127.20" stroke="#9a9a9a" stroke-width="0.8"/>
<line x1="429.90" y1="127.20" x2="429.90" y2="128.70" stroke="#c0c0c0" stroke-width="0.6"/>
<line x1="440.16" y1="127.20" x2="440.16" y2="128.70" stroke="#c0c0c0" stroke-width="0.6"/>
<line x1="450.42" y1="127.20" x2="450.42" y2="128.70" stroke="#c0c0c0" stroke-width="0.6"/>
<line x1="460.69" y1="127.20" x2="460.69" y2="128.70" stroke="#c0c0c0" stroke-width="0.6"/>
<line x1="470.95" y1="127.20" x2="470.95" y2="128.70" stroke="#c0c0c0" stroke-width="0.6"/>
<line x1="481.21" y1="127.20" x2="481.21" y2="128.70" stroke="#c0c0c0" stroke-width="0.6"/>
<line x1="491.48" y1="127.20" x2="491.48" y2="128.70" stroke="#c0c0c0" stroke-width="0.6"/>
<line x1="501.74" y1="127.20" x2="501.74" y2="128.70" stroke="#c0c0c0" stroke-width="0.6"/>
<line x1="512.00" y1="127.20" x2="512.00" y2="128.70" stroke="#c0c0c0" stroke-width="0.6"/>
<line x1="428.50" y1="52.50" x2="429.90" y2="52.50" stroke="#b0b0b0" stroke-width="0.6"/>
<line x1="428.50" y1="59.97" x2="429.90" y2="59.97" stroke="#b0b0b0" stroke-width="0.6"/>
<line x1="428.50" y1="67.44" x2="429.90" y2="67.44" stroke="#b0b0b0" stroke-width="0.6"/>
<line x1="428.50" y1="74.91" x2="429.90" y2="74.91" stroke="#b0b0b0" stroke-width="0.6"/>
<line x1="428.50" y1="82.38" x2="429.90" y2="82.38" stroke="#b0b0b0" stroke-width="0.6"/>
<line x1="428.50" y1="89.85" x2="429.90" y2="89.85" stroke="#b0b0b0" stroke-width="0.6"/>
<line x1="428.50" y1="97.32" x2="429.90" y2="97.32" stroke="#b0b0b0" stroke-width="0.6"/>
<line x1="428.50" y1="104.79" x2="429.90" y2="104.79" stroke="#b0b0b0" stroke-width="0.6"/>
<line x1="428.50" y1="112.26" x2="429.90" y2="112.26" stroke="#b0b0b0" stroke-width="0.6"/>
<line x1="428.50" y1="119.73" x2="429.90" y2="119.73" stroke="#b0b0b0" stroke-width="0.6"/>
<line x1="428.50" y1="127.20" x2="429.90" y2="127.20" stroke="#b0b0b0" stroke-width="0.6"/>
<text x="512.00" y="138.60" font-size="6.4" text-anchor="end" fill="#111" stroke="#111" stroke-width="0.1">180</text>
<rect x="323.20" y="148.30" width="82.50" height="75.80" fill="none" stroke="#c8c8c8" stroke-width="0.7"/>
<line x1="323.20" y1="148.30" x2="323.20" y2="224.10" stroke="#9a9a9a" stroke-width="0.8"/>
<line x1="323.20" y1="224.10" x2="323.20" y2="225.60" stroke="#c0c0c0" stroke-width="0.6"/>
<line x1="333.51" y1="224.10" x2="333.51" y2="225.60" stroke="#c0c0c0" stroke-width="0.6"/>
<line x1="343.82" y1="224.10" x2="343.82" y2="225.60" stroke="#c0c0c0" stroke-width="0.6"/>
<line x1="354.14" y1="224.10" x2="354.14" y2="225.60" stroke="#c0c0c0" stroke-width="0.6"/>
<line x1="364.45" y1="224.10" x2="364.45" y2="225.60" stroke="#c0c0c0" stroke-width="0.6"/>
<line x1="374.76" y1="224.10" x2="374.76" y2="225.60" stroke="#c0c0c0" stroke-width="0.6"/>
<line x1="385.07" y1="224.10" x2="385.07" y2="225.60" stroke="#c0c0c0" stroke-width="0.6"/>
<line x1="395.39" y1="224.10" x2="395.39" y2="225.60" stroke="#c0c0c0" stroke-width="0.6"/>
<line x1="405.70" y1="224.10" x2="405.70" y2="225.60" stroke="#c0c0c0" stroke-width="0.6"/>
<line x1="321.80" y1="148.30" x2="323.20" y2="148.30" stroke="#b0b0b0" stroke-width="0.6"/>
<line x1="321.80" y1="155.88" x2="323.20" y2="155.88" stroke="#b0b0b0" stroke-width="0.6"/>
<line x1="321.80" y1="163.46" x2="323.20" y2="163.46" stroke="#b0b0b0" stroke-width="0.6"/>
<line x1="321.80" y1="171.04" x2="323.20" y2="171.04" stroke="#b0b0b0" stroke-width="0.6"/>
<line x1="321.80" y1="178.62" x2="323.20" y2="178.62" stroke="#b0b0b0" stroke-width="0.6"/>
<line x1="321.80" y1="186.20" x2="323.20" y2="186.20" stroke="#b0b0b0" stroke-width="0.6"/>
<line x1="321.80" y1="193.78" x2="323.20" y2="193.78" stroke="#b0b0b0" stroke-width="0.6"/>
<line x1="321.80" y1="201.36" x2="323.20" y2="201.36" stroke="#b0b0b0" stroke-width="0.6"/>
<line x1="321.80" y1="208.94" x2="323.20" y2="208.94" stroke="#b0b0b0" stroke-width="0.6"/>
<line x1="321.80" y1="216.52" x2="323.20" y2="216.52" stroke="#b0b0b0" stroke-width="0.6"/>
<line x1="321.80" y1="224.10" x2="323.20" y2="224.10" stroke="#b0b0b0" stroke-width="0.6"/>
<text x="405.70" y="234.70" font-size="6.4" text-anchor="end" fill="#111" stroke="#111" stroke-width="0.1">180</text>
<rect x="429.90" y="148.30" width="82.10" height="75.80" fill="none" stroke="#c8c8c8" stroke-width="0.7"/>
<line x1="429.90" y1="148.30" x2="429.90" y2="224.10" stroke="#9a9a9a" stroke-width="0.8"/>
<line x1="429.90" y1="224.10" x2="429.90" y2="225.60" stroke="#c0c0c0" stroke-width="0.6"/>
<line x1="440.16" y1="224.10" x2="440.16" y2="225.60" stroke="#c0c0c0" stroke-width="0.6"/>
<line x1="450.42" y1="224.10" x2="450.42" y2="225.60" stroke="#c0c0c0" stroke-width="0.6"/>
<line x1="460.69" y1="224.10" x2="460.69" y2="225.60" stroke="#c0c0c0" stroke-width="0.6"/>
<line x1="470.95" y1="224.10" x2="470.95" y2="225.60" stroke="#c0c0c0" stroke-width="0.6"/>
<line x1="481.21" y1="224.10" x2="481.21" y2="225.60" stroke="#c0c0c0" stroke-width="0.6"/>
<line x1="491.48" y1="224.10" x2="491.48" y2="225.60" stroke="#c0c0c0" stroke-width="0.6"/>
<line x1="501.74" y1="224.10" x2="501.74" y2="225.60" stroke="#c0c0c0" stroke-width="0.6"/>
<line x1="512.00" y1="224.10" x2="512.00" y2="225.60" stroke="#c0c0c0" stroke-width="0.6"/>
<line x1="428.50" y1="148.30" x2="429.90" y2="148.30" stroke="#b0b0b0" stroke-width="0.6"/>
<line x1="428.50" y1="155.88" x2="429.90" y2="155.88" stroke="#b0b0b0" stroke-width="0.6"/>
<line x1="428.50" y1="163.46" x2="429.90" y2="163.46" stroke="#b0b0b0" stroke-width="0.6"/>
<line x1="428.50" y1="171.04" x2="429.90" y2="171.04" stroke="#b0b0b0" stroke-width="0.6"/>
<line x1="428.50" y1="178.62" x2="429.90" y2="178.62" stroke="#b0b0b0" stroke-width="0.6"/>
<line x1="428.50" y1="186.20" x2="429.90" y2="186.20" stroke="#b0b0b0" stroke-width="0.6"/>
<line x1="428.50" y1="193.78" x2="429.90" y2="193.78" stroke="#b0b0b0" stroke-width="0.6"/>
<line x1="428.50" y1="201.36" x2="429.90" y2="201.36" stroke="#b0b0b0" stroke-width="0.6"/>
<line x1="428.50" y1="208.94" x2="429.90" y2="208.94" stroke="#b0b0b0" stroke-width="0.6"/>
<line x1="428.50" y1="216.52" x2="429.90" y2="216.52" stroke="#b0b0b0" stroke-width="0.6"/>
<line x1="428.50" y1="224.10" x2="429.90" y2="224.10" stroke="#b0b0b0" stroke-width="0.6"/>
<text x="512.00" y="234.70" font-size="6.4" text-anchor="end" fill="#111" stroke="#111" stroke-width="0.1">180</text>
<rect x="323.20" y="244.80" width="82.50" height="76.20" fill="none" stroke="#c8c8c8" stroke-width="0.7"/>
<line x1="323.20" y1="244.80" x2="323.20" y2="321.00" stroke="#9a9a9a" stroke-width="0.8"/>
<line x1="323.20" y1="321.00" x2="323.20" y2="322.50" stroke="#c0c0c0" stroke-width="0.6"/>
<line x1="333.51" y1="321.00" x2="333.51" y2="322.50" stroke="#c0c0c0" stroke-width="0.6"/>
<line x1="343.82" y1="321.00" x2="343.82" y2="322.50" stroke="#c0c0c0" stroke-width="0.6"/>
<line x1="354.14" y1="321.00" x2="354.14" y2="322.50" stroke="#c0c0c0" stroke-width="0.6"/>
<line x1="364.45" y1="321.00" x2="364.45" y2="322.50" stroke="#c0c0c0" stroke-width="0.6"/>
<line x1="374.76" y1="321.00" x2="374.76" y2="322.50" stroke="#c0c0c0" stroke-width="0.6"/>
<line x1="385.07" y1="321.00" x2="385.07" y2="322.50" stroke="#c0c0c0" stroke-width="0.6"/>
<line x1="395.39" y1="321.00" x2="395.39" y2="322.50" stroke="#c0c0c0" stroke-width="0.6"/>
<line x1="405.70" y1="321.00" x2="405.70" y2="322.50" stroke="#c0c0c0" stroke-width="0.6"/>
<line x1="321.80" y1="244.80" x2="323.20" y2="244.80" stroke="#b0b0b0" stroke-width="0.6"/>
<line x1="321.80" y1="252.42" x2="323.20" y2="252.42" stroke="#b0b0b0" stroke-width="0.6"/>
<line x1="321.80" y1="260.04" x2="323.20" y2="260.04" stroke="#b0b0b0" stroke-width="0.6"/>
<line x1="321.80" y1="267.66" x2="323.20" y2="267.66" stroke="#b0b0b0" stroke-width="0.6"/>
<line x1="321.80" y1="275.28" x2="323.20" y2="275.28" stroke="#b0b0b0" stroke-width="0.6"/>
<line x1="321.80" y1="282.90" x2="323.20" y2="282.90" stroke="#b0b0b0" stroke-width="0.6"/>
<line x1="321.80" y1="290.52" x2="323.20" y2="290.52" stroke="#b0b0b0" stroke-width="0.6"/>
<line x1="321.80" y1="298.14" x2="323.20" y2="298.14" stroke="#b0b0b0" stroke-width="0.6"/>
<line x1="321.80" y1="305.76" x2="323.20" y2="305.76" stroke="#b0b0b0" stroke-width="0.6"/>
<line x1="321.80" y1="313.38" x2="323.20" y2="313.38" stroke="#b0b0b0" stroke-width="0.6"/>
<line x1="321.80" y1="321.00" x2="323.20" y2="321.00" stroke="#b0b0b0" stroke-width="0.6"/>
<text x="405.70" y="331.60" font-size="6.4" text-anchor="end" fill="#111" stroke="#111" stroke-width="0.1">180</text>
<rect x="429.90" y="244.80" width="82.10" height="76.20" fill="none" stroke="#c8c8c8" stroke-width="0.7"/>
<line x1="429.90" y1="244.80" x2="429.90" y2="321.00" stroke="#9a9a9a" stroke-width="0.8"/>
<line x1="429.90" y1="321.00" x2="429.90" y2="322.50" stroke="#c0c0c0" stroke-width="0.6"/>
<line x1="440.16" y1="321.00" x2="440.16" y2="322.50" stroke="#c0c0c0" stroke-width="0.6"/>
<line x1="450.42" y1="321.00" x2="450.42" y2="322.50" stroke="#c0c0c0" stroke-width="0.6"/>
<line x1="460.69" y1="321.00" x2="460.69" y2="322.50" stroke="#c0c0c0" stroke-width="0.6"/>
<line x1="470.95" y1="321.00" x2="470.95" y2="322.50" stroke="#c0c0c0" stroke-width="0.6"/>
<line x1="481.21" y1="321.00" x2="481.21" y2="322.50" stroke="#c0c0c0" stroke-width="0.6"/>
<line x1="491.48" y1="321.00" x2="491.48" y2="322.50" stroke="#c0c0c0" stroke-width="0.6"/>
<line x1="501.74" y1="321.00" x2="501.74" y2="322.50" stroke="#c0c0c0" stroke-width="0.6"/>
<line x1="512.00" y1="321.00" x2="512.00" y2="322.50" stroke="#c0c0c0" stroke-width="0.6"/>
<line x1="428.50" y1="244.80" x2="429.90" y2="244.80" stroke="#b0b0b0" stroke-width="0.6"/>
<line x1="428.50" y1="252.42" x2="429.90" y2="252.42" stroke="#b0b0b0" stroke-width="0.6"/>
<line x1="428.50" y1="260.04" x2="429.90" y2="260.04" stroke="#b0b0b0" stroke-width="0.6"/>
<line x1="428.50" y1="267.66" x2="429.90" y2="267.66" stroke="#b0b0b0" stroke-width="0.6"/>
<line x1="428.50" y1="275.28" x2="429.90" y2="275.28" stroke="#b0b0b0" stroke-width="0.6"/>
<line x1="428.50" y1="282.90" x2="429.90" y2="282.90" stroke="#b0b0b0" stroke-width="0.6"/>
<line x1="428.50" y1="290.52" x2="429.90" y2="290.52" stroke="#b0b0b0" stroke-width="0.6"/>
<line x1="428.50" y1="298.14" x2="429.90" y2="298.14" stroke="#b0b0b0" stroke-width="0.6"/>
<line x1="428.50" y1="305.76" x2="429.90" y2="305.76" stroke="#b0b0b0" stroke-width="0.6"/>
<line x1="428.50" y1="313.38" x2="429.90" y2="313.38" stroke="#b0b0b0" stroke-width="0.6"/>
<line x1="428.50" y1="321.00" x2="429.90" y2="321.00" stroke="#b0b0b0" stroke-width="0.6"/>
<text x="512.00" y="331.60" font-size="6.4" text-anchor="end" fill="#111" stroke="#111" stroke-width="0.1">180</text>
<text x="317.20" y="55.80" font-size="6.8" text-anchor="end" fill="#111" stroke="#111" stroke-width="0.1">1023</text>
<text x="424.40" y="55.80" font-size="6.8" text-anchor="end" fill="#111" stroke="#111" stroke-width="0.1">1023</text>
<text x="314.00" y="152.60" font-size="6.3" text-anchor="end" fill="#111" stroke="#111" stroke-width="0.1">10</text>
<text x="314.30" y="149.70" font-size="3.4650000000000003" text-anchor="start" fill="#111" stroke="#111" stroke-width="0.1">6</text>
<text x="314.00" y="163.70" font-size="6.3" text-anchor="end" fill="#111" stroke="#111" stroke-width="0.1">10</text>
<text x="314.30" y="160.80" font-size="3.4650000000000003" text-anchor="start" fill="#111" stroke="#111" stroke-width="0.1">5</text>
<text x="314.00" y="175.50" font-size="6.3" text-anchor="end" fill="#111" stroke="#111" stroke-width="0.1">10</text>
<text x="314.30" y="172.60" font-size="3.4650000000000003" text-anchor="start" fill="#111" stroke="#111" stroke-width="0.1">4</text>
<text x="314.00" y="187.70" font-size="6.3" text-anchor="end" fill="#111" stroke="#111" stroke-width="0.1">10</text>
<text x="314.30" y="184.80" font-size="3.4650000000000003" text-anchor="start" fill="#111" stroke="#111" stroke-width="0.1">3</text>
<text x="314.00" y="205.30" font-size="6.3" text-anchor="end" fill="#111" stroke="#111" stroke-width="0.1">10</text>
<text x="314.30" y="202.40" font-size="3.4650000000000003" text-anchor="start" fill="#111" stroke="#111" stroke-width="0.1">2</text>
<text x="316.20" y="218.10" font-size="6.3" text-anchor="end" fill="#111" stroke="#111" stroke-width="0.1">0</text>
<text x="420.80" y="152.60" font-size="6.3" text-anchor="end" fill="#111" stroke="#111" stroke-width="0.1">10</text>
<text x="421.10" y="149.70" font-size="3.4650000000000003" text-anchor="start" fill="#111" stroke="#111" stroke-width="0.1">6</text>
<text x="420.80" y="163.70" font-size="6.3" text-anchor="end" fill="#111" stroke="#111" stroke-width="0.1">10</text>
<text x="421.10" y="160.80" font-size="3.4650000000000003" text-anchor="start" fill="#111" stroke="#111" stroke-width="0.1">5</text>
<text x="420.80" y="175.50" font-size="6.3" text-anchor="end" fill="#111" stroke="#111" stroke-width="0.1">10</text>
<text x="421.10" y="172.60" font-size="3.4650000000000003" text-anchor="start" fill="#111" stroke="#111" stroke-width="0.1">4</text>
<text x="420.80" y="187.70" font-size="6.3" text-anchor="end" fill="#111" stroke="#111" stroke-width="0.1">10</text>
<text x="421.10" y="184.80" font-size="3.4650000000000003" text-anchor="start" fill="#111" stroke="#111" stroke-width="0.1">3</text>
<text x="420.80" y="205.30" font-size="6.3" text-anchor="end" fill="#111" stroke="#111" stroke-width="0.1">10</text>
<text x="421.10" y="202.40" font-size="3.4650000000000003" text-anchor="start" fill="#111" stroke="#111" stroke-width="0.1">2</text>
<text x="423.00" y="218.10" font-size="6.3" text-anchor="end" fill="#111" stroke="#111" stroke-width="0.1">0</text>
<text x="314.00" y="248.90" font-size="6.3" text-anchor="end" fill="#111" stroke="#111" stroke-width="0.1">10</text>
<text x="314.30" y="246.00" font-size="3.4650000000000003" text-anchor="start" fill="#111" stroke="#111" stroke-width="0.1">6</text>
<text x="314.00" y="259.90" font-size="6.3" text-anchor="end" fill="#111" stroke="#111" stroke-width="0.1">10</text>
<text x="314.30" y="257.00" font-size="3.4650000000000003" text-anchor="start" fill="#111" stroke="#111" stroke-width="0.1">5</text>
<text x="314.00" y="272.00" font-size="6.3" text-anchor="end" fill="#111" stroke="#111" stroke-width="0.1">10</text>
<text x="314.30" y="269.10" font-size="3.4650000000000003" text-anchor="start" fill="#111" stroke="#111" stroke-width="0.1">4</text>
<text x="314.00" y="284.70" font-size="6.3" text-anchor="end" fill="#111" stroke="#111" stroke-width="0.1">10</text>
<text x="314.30" y="281.80" font-size="3.4650000000000003" text-anchor="start" fill="#111" stroke="#111" stroke-width="0.1">3</text>
<text x="314.00" y="302.70" font-size="6.3" text-anchor="end" fill="#111" stroke="#111" stroke-width="0.1">10</text>
<text x="314.30" y="299.80" font-size="3.4650000000000003" text-anchor="start" fill="#111" stroke="#111" stroke-width="0.1">2</text>
<text x="316.20" y="316.90" font-size="6.3" text-anchor="end" fill="#111" stroke="#111" stroke-width="0.1">0</text>
<text x="420.80" y="248.90" font-size="6.3" text-anchor="end" fill="#111" stroke="#111" stroke-width="0.1">10</text>
<text x="421.10" y="246.00" font-size="3.4650000000000003" text-anchor="start" fill="#111" stroke="#111" stroke-width="0.1">6</text>
<text x="420.80" y="259.90" font-size="6.3" text-anchor="end" fill="#111" stroke="#111" stroke-width="0.1">10</text>
<text x="421.10" y="257.00" font-size="3.4650000000000003" text-anchor="start" fill="#111" stroke="#111" stroke-width="0.1">5</text>
<text x="420.80" y="272.00" font-size="6.3" text-anchor="end" fill="#111" stroke="#111" stroke-width="0.1">10</text>
<text x="421.10" y="269.10" font-size="3.4650000000000003" text-anchor="start" fill="#111" stroke="#111" stroke-width="0.1">4</text>
<text x="420.80" y="284.70" font-size="6.3" text-anchor="end" fill="#111" stroke="#111" stroke-width="0.1">10</text>
<text x="421.10" y="281.80" font-size="3.4650000000000003" text-anchor="start" fill="#111" stroke="#111" stroke-width="0.1">3</text>
<text x="420.80" y="302.70" font-size="6.3" text-anchor="end" fill="#111" stroke="#111" stroke-width="0.1">10</text>
<text x="421.10" y="299.80" font-size="3.4650000000000003" text-anchor="start" fill="#111" stroke="#111" stroke-width="0.1">2</text>
<text x="423.00" y="316.90" font-size="6.3" text-anchor="end" fill="#111" stroke="#111" stroke-width="0.1">0</text>
<rect x="322.2" y="216.8" width="1.8" height="2" fill="#222"/>
<rect x="428.9" y="216.8" width="1.8" height="2" fill="#222"/>
<rect x="322.2" y="315.6" width="1.8" height="2" fill="#222"/>
<rect x="428.9" y="315.6" width="1.8" height="2" fill="#222"/>
<rect x="323.4" y="71.2" width="14.8" height="41.8" fill="url(#g4)"/>
<path fill="#203c90" d="M326.2 71.1h0.9v0.9h-0.9zM336.9 70.7h0.9v0.9h-0.9zM332 71.7h0.9v0.9h-0.9zM332.4 72.5h0.9v0.9h-0.9zM330.9 112.6h0.9v0.9h-0.9zM330.6 110.1h0.9v0.9h-0.9zM335.6 114.3h0.9v0.9h-0.9z"/>
<path fill="#2a4aa0" d="M332.2 72.9h0.9v0.9h-0.9zM330.9 70.6h0.9v0.9h-0.9zM326.7 73.6h0.9v0.9h-0.9zM327.4 70.9h0.9v0.9h-0.9zM331.5 113.3h0.9v0.9h-0.9zM326.2 109.4h0.9v0.9h-0.9zM329.9 112.2h0.9v0.9h-0.9zM337 113.4h0.9v0.9h-0.9z"/>
<path fill="#2c7ab0" d="M323.9 68.6h0.9v0.9h-0.9zM332 73.6h0.9v0.9h-0.9zM327.2 73.3h0.9v0.9h-0.9zM331.7 110.2h0.9v0.9h-0.9z"/>
<path fill="#6080c8" d="M324.2 73.9h0.9v0.9h-0.9zM329.5 72.8h0.9v0.9h-0.9zM324.6 68.8h0.9v0.9h-0.9zM334.8 110.5h0.9v0.9h-0.9zM324.8 111.4h0.9v0.9h-0.9zM334.1 112.1h0.9v0.9h-0.9z"/>
<path fill="#3a5ab8" d="M335.9 73.5h0.9v0.9h-0.9zM333.1 70.8h0.9v0.9h-0.9zM324.3 115.6h0.9v0.9h-0.9zM336.3 113.6h0.9v0.9h-0.9zM328.2 109.6h0.9v0.9h-0.9z"/>
<path fill="#5070c0" d="M325.2 71.3h0.9v0.9h-0.9zM335.8 74.1h0.9v0.9h-0.9zM335.1 116.2h0.9v0.9h-0.9zM323.8 114.1h0.9v0.9h-0.9zM331.3 108.9h0.9v0.9h-0.9zM328.4 111.9h0.9v0.9h-0.9z"/>
<path fill="#22408f" d="M331.9 71.8h1v1h-1zM328 72.7h1v1h-1zM336.2 73.5h1v1h-1zM327.1 73.9h1v1h-1zM327.4 112h1v1h-1zM332.6 111.4h1v1h-1z"/>
<path fill="#1e3a8a" d="M330.5 72h1v1h-1zM327.5 72.6h1v1h-1zM329.1 111.8h1v1h-1zM332.2 112.3h1v1h-1zM332.9 111.7h1v1h-1zM336.1 112.1h1v1h-1z"/>
<path fill="#1f5a8a" d="M335.3 72.6h1v1h-1zM329.5 73.5h1v1h-1zM336.3 75.2h1v1h-1zM332.9 110.3h1v1h-1z"/>
<path fill="#284a9a" d="M331.8 71.9h1v1h-1zM331.8 73.8h1v1h-1zM332.5 112.1h1v1h-1z"/>
<path fill="#3a5aa8" d="M328.3 72.9h1v1h-1zM325.8 111.5h1v1h-1z"/>
<path fill="#183070" d="M324.9 72.9h1v1h-1zM332.1 112.5h1v1h-1zM332.9 111.6h1v1h-1z"/>
<path fill="#2a6a7a" d="M328.1 71.9h1v1h-1zM332.1 110.3h1v1h-1zM332.3 111.9h1v1h-1zM330.5 111.2h1v1h-1z"/>
<path fill="#ffffff" opacity="0.7" d="M334.7 72.7h1v1h-1zM333.7 71.9h1v1h-1zM333.9 72.8h1v1h-1zM333.2 72.2h1v1h-1zM336 73.1h1v1h-1zM323.5 73.2h1v1h-1zM334 72.2h1v1h-1zM325.1 111.8h1v1h-1zM325.6 112.2h1v1h-1zM324.8 112.4h1v1h-1zM325.8 111.3h1v1h-1zM331.9 112.4h1v1h-1zM334.5 112.1h1v1h-1zM334 112.2h1v1h-1z"/>
<path fill="#a0b0e0" d="M336.8 69.6h0.8v0.8h-0.8zM327.9 113.2h0.8v0.8h-0.8zM335.3 113.7h0.8v0.8h-0.8zM329.5 116h0.8v0.8h-0.8zM326.9 120.3h0.8v0.8h-0.8z"/>
<path fill="#8aa0d8" d="M329.2 70.2h0.8v0.8h-0.8zM323.9 115.7h0.8v0.8h-0.8zM323.7 113.2h0.8v0.8h-0.8z"/>
<path fill="#b8c4e8" d="M328.7 64.7h0.8v0.8h-0.8zM328.8 68.5h0.8v0.8h-0.8zM332.4 65.9h0.8v0.8h-0.8zM326 71h0.8v0.8h-0.8zM329.7 112.9h0.8v0.8h-0.8zM327.8 114.7h0.8v0.8h-0.8z"/>
<path fill="#7088c8" d="M333 70.9h0.8v0.8h-0.8zM328.7 71.5h0.8v0.8h-0.8z"/>
<rect x="355.6" y="68.7" width="50" height="42.3" fill="url(#g5)"/>
<path fill="#203c90" d="M370.5 66h0.9v0.9h-0.9zM375.9 70.8h0.9v0.9h-0.9zM361.2 67.7h0.9v0.9h-0.9zM376.3 70.9h0.9v0.9h-0.9zM365.8 70.5h0.9v0.9h-0.9zM395.7 68h0.9v0.9h-0.9zM400.5 72.6h0.9v0.9h-0.9zM379.5 110.6h0.9v0.9h-0.9zM389.6 111.6h0.9v0.9h-0.9zM384 110.3h0.9v0.9h-0.9zM398.4 110.9h0.9v0.9h-0.9zM399 111h0.9v0.9h-0.9zM356 111.7h0.9v0.9h-0.9zM368.8 110.2h0.9v0.9h-0.9zM388.9 110.2h0.9v0.9h-0.9zM375.2 112.1h0.9v0.9h-0.9z"/>
<path fill="#2a4aa0" d="M403.7 66.8h0.9v0.9h-0.9zM387.6 68.9h0.9v0.9h-0.9zM372.5 68h0.9v0.9h-0.9zM397.4 69h0.9v0.9h-0.9zM392.8 70.1h0.9v0.9h-0.9zM397.9 70.1h0.9v0.9h-0.9zM404.7 66.4h0.9v0.9h-0.9zM364.5 71.2h0.9v0.9h-0.9zM357.6 68.5h0.9v0.9h-0.9zM374.3 70.3h0.9v0.9h-0.9zM369.7 71h0.9v0.9h-0.9zM389 67.9h0.9v0.9h-0.9zM369.4 70.8h0.9v0.9h-0.9zM374.9 112h0.9v0.9h-0.9zM366.2 112.2h0.9v0.9h-0.9zM374.5 112.4h0.9v0.9h-0.9zM404.3 112.5h0.9v0.9h-0.9zM383.7 108.2h0.9v0.9h-0.9zM403.3 109.6h0.9v0.9h-0.9zM399.7 110.3h0.9v0.9h-0.9zM355.8 110.2h0.9v0.9h-0.9zM387 112.8h0.9v0.9h-0.9zM394.7 111h0.9v0.9h-0.9z"/>
<path fill="#3a5ab8" d="M367.5 67.2h0.9v0.9h-0.9zM398.6 66.4h0.9v0.9h-0.9zM359.9 69.5h0.9v0.9h-0.9zM372.4 69.7h0.9v0.9h-0.9zM396.6 70h0.9v0.9h-0.9zM382.8 66.4h0.9v0.9h-0.9zM380.4 69.5h0.9v0.9h-0.9zM364.3 69.4h0.9v0.9h-0.9zM366.7 71.6h0.9v0.9h-0.9zM389.9 69h0.9v0.9h-0.9zM385.5 66.8h0.9v0.9h-0.9zM398.6 67.1h0.9v0.9h-0.9zM389.7 67.1h0.9v0.9h-0.9zM402.2 112h0.9v0.9h-0.9zM398.5 110.6h0.9v0.9h-0.9zM389 109.1h0.9v0.9h-0.9zM384.3 112.6h0.9v0.9h-0.9zM394.5 109.4h0.9v0.9h-0.9zM363 108.7h0.9v0.9h-0.9zM369.5 109.8h0.9v0.9h-0.9zM391.6 110.5h0.9v0.9h-0.9zM372.4 111.9h0.9v0.9h-0.9z"/>
<path fill="#5070c0" d="M373.2 70.9h0.9v0.9h-0.9zM375 73.1h0.9v0.9h-0.9zM365 68.1h0.9v0.9h-0.9zM363.4 69.8h0.9v0.9h-0.9zM401.9 70.9h0.9v0.9h-0.9zM389.2 68.7h0.9v0.9h-0.9zM372.7 70.8h0.9v0.9h-0.9zM394.9 111.3h0.9v0.9h-0.9zM404.6 113.1h0.9v0.9h-0.9zM366 109.2h0.9v0.9h-0.9zM391.3 109.6h0.9v0.9h-0.9zM371 112.1h0.9v0.9h-0.9zM357.8 112h0.9v0.9h-0.9zM386.7 109.5h0.9v0.9h-0.9zM398.5 112.7h0.9v0.9h-0.9zM402.9 109.6h0.9v0.9h-0.9zM391.9 108.2h0.9v0.9h-0.9zM375.5 111.8h0.9v0.9h-0.9zM380.3 112.8h0.9v0.9h-0.9zM375 109.2h0.9v0.9h-0.9zM401 109.3h0.9v0.9h-0.9zM404.1 109.8h0.9v0.9h-0.9zM396.8 108.1h0.9v0.9h-0.9z"/>
<path fill="#6080c8" d="M367.5 69.9h0.9v0.9h-0.9zM366.2 67.3h0.9v0.9h-0.9zM384.9 64.7h0.9v0.9h-0.9zM367.7 71h0.9v0.9h-0.9zM380.8 71.1h0.9v0.9h-0.9zM387.9 66.5h0.9v0.9h-0.9zM371.4 68.8h0.9v0.9h-0.9zM400.5 68.5h0.9v0.9h-0.9zM382.7 66.6h0.9v0.9h-0.9zM396.8 66.4h0.9v0.9h-0.9zM374.3 112.5h0.9v0.9h-0.9zM373.3 108.9h0.9v0.9h-0.9zM398.6 110.8h0.9v0.9h-0.9zM380.2 110.3h0.9v0.9h-0.9zM400.8 107h0.9v0.9h-0.9zM377.6 109.4h0.9v0.9h-0.9zM385.1 113.1h0.9v0.9h-0.9zM379.5 112.9h0.9v0.9h-0.9zM386.4 109.6h0.9v0.9h-0.9z"/>
<path fill="#2c7ab0" d="M380.7 71.1h0.9v0.9h-0.9zM362.7 71.7h0.9v0.9h-0.9zM393.7 70.1h0.9v0.9h-0.9zM373.6 70.2h0.9v0.9h-0.9zM389.5 69.5h0.9v0.9h-0.9zM368.9 68.3h0.9v0.9h-0.9zM380 65.6h0.9v0.9h-0.9zM401.5 71.3h0.9v0.9h-0.9zM394.5 70.1h0.9v0.9h-0.9zM389.6 68.7h0.9v0.9h-0.9zM398.5 112.4h0.9v0.9h-0.9zM386.1 110.1h0.9v0.9h-0.9zM398.5 110.4h0.9v0.9h-0.9zM401.2 109.7h0.9v0.9h-0.9zM370.7 110h0.9v0.9h-0.9zM392.8 111.7h0.9v0.9h-0.9zM366 109.3h0.9v0.9h-0.9z"/>
<path fill="#2a6a7a" d="M389.3 70.8h1v1h-1zM364.9 72h1v1h-1zM368.4 69.4h1v1h-1zM367.4 70.1h1v1h-1zM392.9 70.8h1v1h-1zM387.8 109.3h1v1h-1zM357.2 110.3h1v1h-1zM368.3 109.7h1v1h-1zM366.2 110.4h1v1h-1z"/>
<path fill="#183070" d="M358.3 69.7h1v1h-1zM363.8 69.7h1v1h-1zM389.2 69.7h1v1h-1zM389.5 71.1h1v1h-1zM370.3 71.2h1v1h-1zM379.4 70.1h1v1h-1zM400.7 69.3h1v1h-1zM369.6 69.7h1v1h-1zM373.6 71.3h1v1h-1zM367.3 71.4h1v1h-1zM400.7 70.4h1v1h-1zM398.4 108.8h1v1h-1zM363 108.5h1v1h-1zM373.5 109.3h1v1h-1zM371.5 109.3h1v1h-1zM375.7 107.4h1v1h-1zM363 109.7h1v1h-1z"/>
<path fill="#3a5aa8" d="M365.7 69.4h1v1h-1zM361.9 70.3h1v1h-1zM362.6 69.3h1v1h-1zM403.6 71.4h1v1h-1zM363.8 70.1h1v1h-1zM363.9 69.7h1v1h-1zM364.6 71.4h1v1h-1zM383.8 109.5h1v1h-1zM390.5 108.2h1v1h-1zM397.5 109.1h1v1h-1zM377.2 109.4h1v1h-1zM380 110.4h1v1h-1zM356.4 110h1v1h-1zM394.4 108.8h1v1h-1zM368.7 109.3h1v1h-1zM357.9 107.5h1v1h-1zM389.2 107.7h1v1h-1z"/>
<path fill="#284a9a" d="M363.6 70.2h1v1h-1zM393.1 70.3h1v1h-1zM361 70.3h1v1h-1zM383.5 70.6h1v1h-1zM379.5 70.2h1v1h-1zM396.7 69.8h1v1h-1zM373.1 70.1h1v1h-1zM396.7 70.6h1v1h-1zM365.9 109.2h1v1h-1zM383 110.4h1v1h-1zM382.9 108.1h1v1h-1zM373 108.5h1v1h-1zM398.9 109.1h1v1h-1zM397.9 108.8h1v1h-1zM361.1 109.6h1v1h-1z"/>
<path fill="#1e3a8a" d="M367.8 69.2h1v1h-1zM390.7 71.4h1v1h-1zM362.4 69.3h1v1h-1zM404 109.5h1v1h-1zM362.1 108.7h1v1h-1zM366.8 109.7h1v1h-1zM386.2 110.2h1v1h-1zM387.2 109.5h1v1h-1zM397.8 110h1v1h-1zM362.3 109.8h1v1h-1zM366 109.9h1v1h-1z"/>
<path fill="#22408f" d="M370.8 70.4h1v1h-1zM365.7 70.8h1v1h-1zM367.9 69.6h1v1h-1zM380.1 70.2h1v1h-1zM404.4 69.6h1v1h-1zM389.3 69.3h1v1h-1zM375.9 110.2h1v1h-1zM360.2 109.3h1v1h-1zM372.5 110.4h1v1h-1zM358.5 109.9h1v1h-1zM363.5 107.8h1v1h-1zM374.7 110.5h1v1h-1zM367.9 109.8h1v1h-1zM379.4 109.2h1v1h-1z"/>
<path fill="#1f5a8a" d="M361.4 69.6h1v1h-1zM356.2 69.5h1v1h-1zM377.6 70.7h1v1h-1zM387.2 69.8h1v1h-1zM359.4 70h1v1h-1zM390.8 69.4h1v1h-1zM375.4 70.7h1v1h-1zM397.3 69.2h1v1h-1zM395.5 110.1h1v1h-1zM403.5 110h1v1h-1zM366.8 108.4h1v1h-1zM392.8 110.3h1v1h-1zM363.5 110.3h1v1h-1z"/>
<path fill="#ffffff" opacity="0.7" d="M364.9 69.5h1v1h-1zM396.8 69.4h1v1h-1zM397.5 69.7h1v1h-1zM369.5 69.7h1v1h-1zM388 69.7h1v1h-1zM372.2 69.4h1v1h-1zM377.1 69.7h1v1h-1zM399.9 70.2h1v1h-1zM363.7 69.3h1v1h-1zM383.2 70.3h1v1h-1zM372.7 69.6h1v1h-1zM371.5 69.8h1v1h-1zM378.2 71.2h1v1h-1zM398 69.2h1v1h-1zM403.3 70.6h1v1h-1zM395.3 69.2h1v1h-1zM358.5 69.4h1v1h-1zM370.2 69.9h1v1h-1zM383.6 70.4h1v1h-1zM387.3 69.2h1v1h-1zM370.3 69.8h1v1h-1zM357 70.9h1v1h-1zM364.9 69.3h1v1h-1zM359.8 69.7h1v1h-1zM372.8 110.2h1v1h-1zM375.1 109.9h1v1h-1zM375.9 110.1h1v1h-1zM375 109.9h1v1h-1zM372 109.4h1v1h-1zM365.5 110.1h1v1h-1zM386.3 109.8h1v1h-1zM384.8 110.2h1v1h-1zM383.8 110.4h1v1h-1zM358 109.6h1v1h-1zM399.4 109.8h1v1h-1zM402.5 110h1v1h-1zM403.2 110.3h1v1h-1zM366.6 110.2h1v1h-1zM382.1 110.1h1v1h-1zM404.3 110.1h1v1h-1zM381.6 109.1h1v1h-1zM359.4 109.1h1v1h-1zM403.2 108.9h1v1h-1zM366.6 109.1h1v1h-1zM359.1 110.2h1v1h-1zM368.8 110.3h1v1h-1zM402.9 110.1h1v1h-1zM394.3 110h1v1h-1z"/>
<path fill="#b8c4e8" d="M388 66h0.8v0.8h-0.8zM381.7 69.2h0.8v0.8h-0.8zM391.7 65.4h0.8v0.8h-0.8zM389 66.7h0.8v0.8h-0.8zM365.1 67.8h0.8v0.8h-0.8zM382.1 112h0.8v0.8h-0.8zM389.7 112.5h0.8v0.8h-0.8zM389.2 112.2h0.8v0.8h-0.8zM378.8 119.1h0.8v0.8h-0.8zM396.1 116.7h0.8v0.8h-0.8zM368.5 115.5h0.8v0.8h-0.8zM371.4 115h0.8v0.8h-0.8z"/>
<path fill="#a0b0e0" d="M373.3 65.9h0.8v0.8h-0.8zM383.3 67.8h0.8v0.8h-0.8zM403.2 68.1h0.8v0.8h-0.8zM387.5 64.7h0.8v0.8h-0.8zM378.2 67.5h0.8v0.8h-0.8zM362.3 69h0.8v0.8h-0.8zM361.5 67.8h0.8v0.8h-0.8zM376.5 65.4h0.8v0.8h-0.8zM398.9 111.9h0.8v0.8h-0.8zM380.6 120h0.8v0.8h-0.8zM397.7 113.2h0.8v0.8h-0.8zM401.1 114.7h0.8v0.8h-0.8zM395.5 111.3h0.8v0.8h-0.8zM388.7 113.5h0.8v0.8h-0.8zM361.6 115.9h0.8v0.8h-0.8z"/>
<path fill="#7088c8" d="M382.5 63.9h0.8v0.8h-0.8zM356.3 67.2h0.8v0.8h-0.8zM383.2 66h0.8v0.8h-0.8zM367.3 64.9h0.8v0.8h-0.8zM395.7 67.2h0.8v0.8h-0.8zM357.3 67h0.8v0.8h-0.8zM387.7 113.6h0.8v0.8h-0.8zM382.5 114.2h0.8v0.8h-0.8zM375.2 119.8h0.8v0.8h-0.8zM399.7 112.2h0.8v0.8h-0.8zM400.2 115.7h0.8v0.8h-0.8zM373 119.3h0.8v0.8h-0.8zM385.7 114.3h0.8v0.8h-0.8zM359.1 112h0.8v0.8h-0.8zM390.1 112.9h0.8v0.8h-0.8z"/>
<path fill="#8aa0d8" d="M366.7 65.1h0.8v0.8h-0.8zM362.2 65h0.8v0.8h-0.8zM386.4 69.1h0.8v0.8h-0.8zM383.2 65.1h0.8v0.8h-0.8zM357.9 68h0.8v0.8h-0.8zM363.8 69.1h0.8v0.8h-0.8zM396.1 66h0.8v0.8h-0.8zM391 68.8h0.8v0.8h-0.8zM395 66.6h0.8v0.8h-0.8zM356.6 65.4h0.8v0.8h-0.8zM379.6 68.9h0.8v0.8h-0.8zM402.3 110.8h0.8v0.8h-0.8zM404.3 112.9h0.8v0.8h-0.8zM397 115.1h0.8v0.8h-0.8zM382.6 114.3h0.8v0.8h-0.8zM404.7 114.3h0.8v0.8h-0.8zM387 114.7h0.8v0.8h-0.8zM377.8 112.9h0.8v0.8h-0.8z"/>
<rect x="430.4" y="71" width="14.4" height="41.3" fill="url(#g6)"/>
<path fill="#2a4aa0" d="M434.1 71.1h0.9v0.9h-0.9zM440.3 72.4h0.9v0.9h-0.9zM435.5 71.8h0.9v0.9h-0.9zM433.2 112.4h0.9v0.9h-0.9z"/>
<path fill="#203c90" d="M436.5 73.2h0.9v0.9h-0.9zM435 69.6h0.9v0.9h-0.9zM433.7 70.5h0.9v0.9h-0.9zM438.7 71.2h0.9v0.9h-0.9zM441.5 112.9h0.9v0.9h-0.9zM433.2 114h0.9v0.9h-0.9zM443 111.4h0.9v0.9h-0.9z"/>
<path fill="#5070c0" d="M439.6 73.2h0.9v0.9h-0.9zM433.8 71.4h0.9v0.9h-0.9zM434.5 68.1h0.9v0.9h-0.9zM432.1 69.1h0.9v0.9h-0.9zM438.6 73.1h0.9v0.9h-0.9z"/>
<path fill="#6080c8" d="M437 70.3h0.9v0.9h-0.9zM435.2 69.9h0.9v0.9h-0.9zM437.9 113.1h0.9v0.9h-0.9zM431.3 112.2h0.9v0.9h-0.9z"/>
<path fill="#3a5ab8" d="M431.2 71.5h0.9v0.9h-0.9zM431.6 69.4h0.9v0.9h-0.9zM438.3 109.9h0.9v0.9h-0.9zM432.1 112.8h0.9v0.9h-0.9zM442 113.7h0.9v0.9h-0.9zM434.4 112.5h0.9v0.9h-0.9z"/>
<path fill="#2c7ab0" d="M440 71h0.9v0.9h-0.9zM433 72.9h0.9v0.9h-0.9zM439.3 111.4h0.9v0.9h-0.9zM436.6 113.9h0.9v0.9h-0.9zM434.3 112h0.9v0.9h-0.9zM433.2 112.1h0.9v0.9h-0.9zM430.6 112.7h0.9v0.9h-0.9zM438 112.4h0.9v0.9h-0.9zM440.1 110h0.9v0.9h-0.9zM440.9 114.8h0.9v0.9h-0.9z"/>
<path fill="#3a5aa8" d="M438.2 73h1v1h-1zM431.3 72.6h1v1h-1zM432.4 109.6h1v1h-1z"/>
<path fill="#183070" d="M436.4 71.6h1v1h-1zM431.8 73.1h1v1h-1zM440.6 109.6h1v1h-1zM435.5 108h1v1h-1zM436.6 111.2h1v1h-1z"/>
<path fill="#1e3a8a" d="M440.5 73h1v1h-1zM435.8 72.3h1v1h-1zM440.7 73.2h1v1h-1zM431.6 73.1h1v1h-1zM431.8 71.9h1v1h-1zM432.9 111.6h1v1h-1z"/>
<path fill="#1f5a8a" d="M441.7 71.7h1v1h-1zM443.7 72.5h1v1h-1zM442.8 72h1v1h-1zM443.1 110.7h1v1h-1zM433.4 110.1h1v1h-1z"/>
<path fill="#2a6a7a" d="M437 72.7h1v1h-1z"/>
<path fill="#22408f" d="M440.5 73.1h1v1h-1zM439.6 111.1h1v1h-1zM442 110.5h1v1h-1zM437.9 111.2h1v1h-1zM434.5 111.1h1v1h-1zM434.3 111.6h1v1h-1z"/>
<path fill="#ffffff" opacity="0.7" d="M441.8 72h1v1h-1zM441.4 72.7h1v1h-1zM433.1 72h1v1h-1zM437.8 73.2h1v1h-1zM440.4 72h1v1h-1zM435.9 71.6h1v1h-1zM431.1 71.7h1v1h-1zM441.5 110.8h1v1h-1zM432 109.1h1v1h-1zM443 110.9h1v1h-1zM437.5 111.7h1v1h-1zM440.5 110.8h1v1h-1zM437.1 111.2h1v1h-1zM436.9 111.7h1v1h-1z"/>
<path fill="#8aa0d8" d="M433 69.3h0.8v0.8h-0.8zM432.9 67.4h0.8v0.8h-0.8zM442.1 115.4h0.8v0.8h-0.8z"/>
<path fill="#7088c8" d="M434.6 70.5h0.8v0.8h-0.8zM439.6 68.1h0.8v0.8h-0.8zM434.5 67.3h0.8v0.8h-0.8zM438.2 116h0.8v0.8h-0.8zM430.8 119.3h0.8v0.8h-0.8zM436.9 112.8h0.8v0.8h-0.8z"/>
<path fill="#b8c4e8" d="M439.4 70.4h0.8v0.8h-0.8zM431.1 68.2h0.8v0.8h-0.8zM433.1 114.3h0.8v0.8h-0.8zM439.3 114.8h0.8v0.8h-0.8z"/>
<path fill="#a0b0e0" d="M434.5 66.8h0.8v0.8h-0.8zM434.1 117.1h0.8v0.8h-0.8zM433 117.2h0.8v0.8h-0.8z"/>
<path fill="#284a9a" d="M441.6 111.3h1v1h-1zM439.3 110.6h1v1h-1z"/>
<rect x="462.3" y="68.7" width="49.7" height="40.3" fill="url(#g7)"/>
<path fill="#5070c0" d="M498.5 70.4h0.9v0.9h-0.9zM464.4 69h0.9v0.9h-0.9zM498.6 70h0.9v0.9h-0.9zM470.5 71.8h0.9v0.9h-0.9zM487.9 67.4h0.9v0.9h-0.9zM486.5 68.7h0.9v0.9h-0.9zM488.2 69.9h0.9v0.9h-0.9zM503.2 110.5h0.9v0.9h-0.9zM493.2 107.7h0.9v0.9h-0.9zM477.2 109.5h0.9v0.9h-0.9zM504.2 108.7h0.9v0.9h-0.9zM500.2 103.7h0.9v0.9h-0.9zM506.9 109.4h0.9v0.9h-0.9zM507.2 109.1h0.9v0.9h-0.9zM466.1 110.4h0.9v0.9h-0.9z"/>
<path fill="#2c7ab0" d="M501.8 71.7h0.9v0.9h-0.9zM482.6 69.5h0.9v0.9h-0.9zM463 70.9h0.9v0.9h-0.9zM490.1 68.6h0.9v0.9h-0.9zM466.6 69.3h0.9v0.9h-0.9zM499.9 70.2h0.9v0.9h-0.9zM503.6 69.4h0.9v0.9h-0.9zM470.2 71.5h0.9v0.9h-0.9zM502.7 72.4h0.9v0.9h-0.9zM485 67.9h0.9v0.9h-0.9zM490.4 68.1h0.9v0.9h-0.9zM501 69.9h0.9v0.9h-0.9zM473.4 70.5h0.9v0.9h-0.9zM500.9 108.3h0.9v0.9h-0.9zM471.9 108.3h0.9v0.9h-0.9zM498.8 111.9h0.9v0.9h-0.9zM465.4 108.6h0.9v0.9h-0.9zM497.5 108.7h0.9v0.9h-0.9zM478.8 106.8h0.9v0.9h-0.9zM508.4 106.6h0.9v0.9h-0.9zM470.5 107.4h0.9v0.9h-0.9zM495.1 108.2h0.9v0.9h-0.9zM499.4 108.9h0.9v0.9h-0.9zM484.6 109.2h0.9v0.9h-0.9z"/>
<path fill="#3a5ab8" d="M489.6 70.9h0.9v0.9h-0.9zM493.9 69.7h0.9v0.9h-0.9zM494.7 68.7h0.9v0.9h-0.9zM477.1 69.1h0.9v0.9h-0.9zM475.5 67.8h0.9v0.9h-0.9zM482 73.1h0.9v0.9h-0.9zM506.6 69.2h0.9v0.9h-0.9zM498.9 68.9h0.9v0.9h-0.9zM471.6 107.9h0.9v0.9h-0.9zM476.1 108h0.9v0.9h-0.9zM466 108.7h0.9v0.9h-0.9zM481.3 107.1h0.9v0.9h-0.9zM467.1 107.6h0.9v0.9h-0.9zM465.4 109.8h0.9v0.9h-0.9zM500.8 108.4h0.9v0.9h-0.9zM506.6 108.1h0.9v0.9h-0.9zM501.5 109h0.9v0.9h-0.9zM508.2 108.6h0.9v0.9h-0.9z"/>
<path fill="#203c90" d="M491.4 70.3h0.9v0.9h-0.9zM464.1 71.2h0.9v0.9h-0.9zM503.4 68.6h0.9v0.9h-0.9zM468 70h0.9v0.9h-0.9zM511 69.7h0.9v0.9h-0.9zM501.9 70.4h0.9v0.9h-0.9zM491.2 69.8h0.9v0.9h-0.9zM511 69.7h0.9v0.9h-0.9zM474 67.4h0.9v0.9h-0.9zM505.7 71.4h0.9v0.9h-0.9zM503.1 68.1h0.9v0.9h-0.9zM477 66.1h0.9v0.9h-0.9zM501.1 109.4h0.9v0.9h-0.9zM483.6 108.3h0.9v0.9h-0.9zM495.7 109.3h0.9v0.9h-0.9zM499.5 106.2h0.9v0.9h-0.9zM485.2 107.3h0.9v0.9h-0.9zM491.9 109.9h0.9v0.9h-0.9zM501.9 108.1h0.9v0.9h-0.9z"/>
<path fill="#2a4aa0" d="M479.8 68.8h0.9v0.9h-0.9zM486.8 67.8h0.9v0.9h-0.9zM481.5 67.9h0.9v0.9h-0.9zM497 72h0.9v0.9h-0.9zM502.4 70.5h0.9v0.9h-0.9zM500 69.8h0.9v0.9h-0.9zM500.7 70.5h0.9v0.9h-0.9zM478.5 72.7h0.9v0.9h-0.9zM504.6 66.9h0.9v0.9h-0.9zM500.1 68.3h0.9v0.9h-0.9zM501 71h0.9v0.9h-0.9zM492.2 107.4h0.9v0.9h-0.9zM482.8 108.8h0.9v0.9h-0.9zM501.6 107.8h0.9v0.9h-0.9zM468.8 106.9h0.9v0.9h-0.9zM467.7 108.2h0.9v0.9h-0.9zM462.7 106.5h0.9v0.9h-0.9zM506.4 107.8h0.9v0.9h-0.9zM474.2 109.8h0.9v0.9h-0.9zM493.2 108.5h0.9v0.9h-0.9zM464.3 106.7h0.9v0.9h-0.9zM487.3 110h0.9v0.9h-0.9zM487.2 110h0.9v0.9h-0.9zM465.8 108.1h0.9v0.9h-0.9z"/>
<path fill="#6080c8" d="M470.3 68.8h0.9v0.9h-0.9zM510.5 71.4h0.9v0.9h-0.9zM466.4 69h0.9v0.9h-0.9zM472.9 69.3h0.9v0.9h-0.9zM464.3 69.8h0.9v0.9h-0.9zM509.7 68.5h0.9v0.9h-0.9zM491.1 66.5h0.9v0.9h-0.9zM476.9 70.4h0.9v0.9h-0.9zM482.7 66.8h0.9v0.9h-0.9zM488.5 106.4h0.9v0.9h-0.9zM506.1 111.6h0.9v0.9h-0.9zM489.8 108h0.9v0.9h-0.9zM497 110.4h0.9v0.9h-0.9zM484.9 111.7h0.9v0.9h-0.9zM501.3 108.6h0.9v0.9h-0.9zM500.1 110.5h0.9v0.9h-0.9zM467 109.7h0.9v0.9h-0.9zM489.4 109.3h0.9v0.9h-0.9zM492.2 106.8h0.9v0.9h-0.9zM462.7 108.5h0.9v0.9h-0.9z"/>
<path fill="#1e3a8a" d="M476.9 70.8h1v1h-1zM495.6 69.8h1v1h-1zM481.3 72.2h1v1h-1zM496 69.3h1v1h-1zM483.2 107.6h1v1h-1zM473.9 105.4h1v1h-1zM506.9 107.9h1v1h-1zM501.3 108.2h1v1h-1zM476.9 108.3h1v1h-1zM499.8 107.6h1v1h-1zM488.2 106.7h1v1h-1zM468.2 108.4h1v1h-1zM466.7 107.5h1v1h-1zM478.9 107.5h1v1h-1zM498.4 107.4h1v1h-1zM466.1 107.9h1v1h-1z"/>
<path fill="#3a5aa8" d="M479.5 71.1h1v1h-1zM508 69.7h1v1h-1zM510.1 69.4h1v1h-1zM478.1 70h1v1h-1zM510 106.5h1v1h-1zM468.8 108.1h1v1h-1zM510.1 107.9h1v1h-1zM492.6 107.2h1v1h-1zM463.3 107.4h1v1h-1zM478.3 105.4h1v1h-1z"/>
<path fill="#284a9a" d="M485 71h1v1h-1zM480.6 70.9h1v1h-1zM508.9 69.3h1v1h-1zM477.3 71.6h1v1h-1zM507.5 70h1v1h-1zM475.3 70.7h1v1h-1zM495.2 71.1h1v1h-1zM480.7 69.8h1v1h-1zM484.6 69.5h1v1h-1zM485.8 72.6h1v1h-1zM509.2 69.6h1v1h-1zM490.3 70.9h1v1h-1zM500.1 70.3h1v1h-1zM471.9 70.9h1v1h-1zM507.5 69.8h1v1h-1zM480.2 107.2h1v1h-1zM464 107h1v1h-1zM496.1 107.4h1v1h-1zM495.8 107.7h1v1h-1z"/>
<path fill="#1f5a8a" d="M471.4 70.2h1v1h-1zM470.5 69.6h1v1h-1zM508.3 70.1h1v1h-1zM494.7 71.4h1v1h-1zM479.9 69.2h1v1h-1zM488.8 69.4h1v1h-1zM493.4 70.3h1v1h-1zM477.5 70.9h1v1h-1zM509.2 70.4h1v1h-1zM481.5 71h1v1h-1zM497.8 108h1v1h-1zM497.1 106.8h1v1h-1zM497.2 107h1v1h-1z"/>
<path fill="#22408f" d="M482.1 69.2h1v1h-1zM508.8 71.7h1v1h-1zM504 69.9h1v1h-1zM498.1 70h1v1h-1zM507 72.2h1v1h-1zM505.8 70.1h1v1h-1zM490.3 105.6h1v1h-1zM470.2 106.9h1v1h-1zM510.7 107.7h1v1h-1zM492.2 107.7h1v1h-1zM495.9 107.7h1v1h-1zM479.9 107.9h1v1h-1z"/>
<path fill="#183070" d="M489.8 69.4h1v1h-1zM498.9 71.4h1v1h-1zM498.7 69.8h1v1h-1zM489 69.6h1v1h-1zM487.4 70.5h1v1h-1zM487.6 69.5h1v1h-1zM472.5 108.2h1v1h-1zM492.1 106.6h1v1h-1zM466.9 107h1v1h-1zM471.7 107.4h1v1h-1zM503.1 107.3h1v1h-1zM471.1 106.6h1v1h-1zM495.9 108h1v1h-1zM509.3 108.1h1v1h-1z"/>
<path fill="#2a6a7a" d="M467.2 69.9h1v1h-1zM465.1 70.8h1v1h-1zM469.3 70.1h1v1h-1zM477.4 108.1h1v1h-1zM496 107.5h1v1h-1zM472.7 106.9h1v1h-1zM462.9 108.4h1v1h-1zM480.2 108.4h1v1h-1zM494 107.5h1v1h-1zM474.2 105.5h1v1h-1zM466.8 106.6h1v1h-1zM489.4 108h1v1h-1z"/>
<path fill="#ffffff" opacity="0.7" d="M500.9 69.3h1v1h-1zM507.4 69.6h1v1h-1zM492.6 69.7h1v1h-1zM470.1 69.5h1v1h-1zM505.8 70.1h1v1h-1zM488.4 69.7h1v1h-1zM494.5 70h1v1h-1zM466 69.6h1v1h-1zM481.4 69.3h1v1h-1zM501.8 69.7h1v1h-1zM503.8 70.1h1v1h-1zM462.9 70.1h1v1h-1zM488.2 69.3h1v1h-1zM491.6 69.5h1v1h-1zM479.8 71.2h1v1h-1zM504.9 69.3h1v1h-1zM467 70.1h1v1h-1zM502.9 69.8h1v1h-1zM497 69.9h1v1h-1zM470.9 69.3h1v1h-1zM497.5 69.5h1v1h-1zM482 69.3h1v1h-1zM503.3 69.9h1v1h-1zM481.8 70.4h1v1h-1zM507.1 107.2h1v1h-1zM474.7 107.7h1v1h-1zM481.5 108.4h1v1h-1zM510.5 108.3h1v1h-1zM505.1 107.6h1v1h-1zM478 108.1h1v1h-1zM472.3 107.7h1v1h-1zM467.5 107.3h1v1h-1zM472.5 108.4h1v1h-1zM492.7 107.6h1v1h-1zM503.5 107.9h1v1h-1zM500.4 108h1v1h-1zM494.5 108.4h1v1h-1zM464.5 107.6h1v1h-1zM485.7 108.1h1v1h-1zM474.7 108.4h1v1h-1zM466.6 108.4h1v1h-1zM476.7 108.3h1v1h-1zM475.4 106.5h1v1h-1zM479.6 108h1v1h-1zM488.7 107.9h1v1h-1zM498.2 107.5h1v1h-1zM480.3 107.6h1v1h-1zM504.8 107.2h1v1h-1z"/>
<path fill="#a0b0e0" d="M486.7 65.5h0.8v0.8h-0.8zM465.6 64.6h0.8v0.8h-0.8zM472.7 68.4h0.8v0.8h-0.8zM469.7 63.1h0.8v0.8h-0.8zM505.2 64.7h0.8v0.8h-0.8zM464.2 68.4h0.8v0.8h-0.8zM509.4 66.7h0.8v0.8h-0.8zM494.4 69.1h0.8v0.8h-0.8zM473.2 113.6h0.8v0.8h-0.8zM505.6 109h0.8v0.8h-0.8zM503.1 108.6h0.8v0.8h-0.8zM466.9 111.5h0.8v0.8h-0.8zM484 109.4h0.8v0.8h-0.8zM508 109.8h0.8v0.8h-0.8zM485.9 109h0.8v0.8h-0.8zM485.6 116.8h0.8v0.8h-0.8zM488.5 108.9h0.8v0.8h-0.8zM494.1 112.6h0.8v0.8h-0.8z"/>
<path fill="#b8c4e8" d="M488.3 63.2h0.8v0.8h-0.8zM495.6 68.1h0.8v0.8h-0.8zM490.5 69.1h0.8v0.8h-0.8zM486.7 63.2h0.8v0.8h-0.8zM473 67.9h0.8v0.8h-0.8zM481.8 67.7h0.8v0.8h-0.8zM483.3 64.2h0.8v0.8h-0.8zM493.6 115.4h0.8v0.8h-0.8zM475.1 110.1h0.8v0.8h-0.8zM484.7 109.2h0.8v0.8h-0.8zM506.7 111.2h0.8v0.8h-0.8zM489.8 114.7h0.8v0.8h-0.8zM467.7 115.1h0.8v0.8h-0.8zM465.9 110.2h0.8v0.8h-0.8zM465.6 110.1h0.8v0.8h-0.8z"/>
<path fill="#7088c8" d="M495 67.7h0.8v0.8h-0.8zM493.9 66.7h0.8v0.8h-0.8zM497 66.8h0.8v0.8h-0.8zM492 66.7h0.8v0.8h-0.8zM479.9 68.8h0.8v0.8h-0.8zM476.7 67.7h0.8v0.8h-0.8zM473.2 66.2h0.8v0.8h-0.8zM473.3 61.4h0.8v0.8h-0.8zM509.2 60.6h0.8v0.8h-0.8zM483.8 109.5h0.8v0.8h-0.8zM487.9 108.6h0.8v0.8h-0.8zM493.1 110.8h0.8v0.8h-0.8zM504.1 110.5h0.8v0.8h-0.8z"/>
<path fill="#8aa0d8" d="M495.3 67.5h0.8v0.8h-0.8zM493 67.4h0.8v0.8h-0.8zM510 67h0.8v0.8h-0.8zM476 68.7h0.8v0.8h-0.8zM483 63.5h0.8v0.8h-0.8zM508.9 69h0.8v0.8h-0.8zM506.7 111.5h0.8v0.8h-0.8zM476.1 112.5h0.8v0.8h-0.8zM472.7 110.6h0.8v0.8h-0.8zM485.8 108.7h0.8v0.8h-0.8zM493.7 109h0.8v0.8h-0.8zM481.2 110.9h0.8v0.8h-0.8zM494.3 111.7h0.8v0.8h-0.8zM491.5 112.9h0.8v0.8h-0.8z"/>
<rect x="323.4" y="188.5" width="14.6" height="26.7" fill="url(#g8)"/>
<path fill="#3a5ab8" d="M329.6 189.8h0.9v0.9h-0.9zM323.7 187.1h0.9v0.9h-0.9zM330.1 191.2h0.9v0.9h-0.9zM326.2 190.8h0.9v0.9h-0.9zM333.9 189.2h0.9v0.9h-0.9zM333 217h0.9v0.9h-0.9zM324.6 213.6h0.9v0.9h-0.9zM325.1 216h0.9v0.9h-0.9z"/>
<path fill="#5070c0" d="M334.9 187.9h0.9v0.9h-0.9zM336.8 189h0.9v0.9h-0.9zM323.7 190.5h0.9v0.9h-0.9zM331.7 192h0.9v0.9h-0.9zM333.1 213.3h0.9v0.9h-0.9z"/>
<path fill="#203c90" d="M333.7 185.7h0.9v0.9h-0.9zM323.6 190.1h0.9v0.9h-0.9zM326 188.9h0.9v0.9h-0.9zM335.6 217h0.9v0.9h-0.9zM336.5 215h0.9v0.9h-0.9zM325.3 214.2h0.9v0.9h-0.9zM331.8 213.6h0.9v0.9h-0.9z"/>
<path fill="#2c7ab0" d="M328.5 188.6h0.9v0.9h-0.9zM323.8 189.7h0.9v0.9h-0.9zM329.5 213.2h0.9v0.9h-0.9zM330.8 214h0.9v0.9h-0.9zM326.6 215.2h0.9v0.9h-0.9z"/>
<path fill="#1f5a8a" d="M331.7 189.6h1v1h-1zM325.8 212.4h1v1h-1zM332.8 214.6h1v1h-1z"/>
<path fill="#22408f" d="M325.3 190h1v1h-1zM331 189.6h1v1h-1zM337 190.9h1v1h-1zM331.3 190.1h1v1h-1zM332.2 212.1h1v1h-1zM331.4 214.2h1v1h-1z"/>
<path fill="#1e3a8a" d="M329.2 189.6h1v1h-1zM328.9 191.1h1v1h-1z"/>
<path fill="#2a6a7a" d="M331.4 189.3h1v1h-1zM326.8 214.1h1v1h-1zM335.6 214.6h1v1h-1z"/>
<path fill="#3a5aa8" d="M332.4 190.1h1v1h-1zM334.6 213.8h1v1h-1z"/>
<path fill="#183070" d="M325.5 189.7h1v1h-1zM328.4 213.8h1v1h-1zM333.8 213.1h1v1h-1z"/>
<path fill="#284a9a" d="M329.3 191h1v1h-1zM330.8 214.5h1v1h-1zM336.5 213.3h1v1h-1z"/>
<path fill="#ffffff" opacity="0.7" d="M324.4 190.6h1v1h-1zM333.6 189.5h1v1h-1zM324.4 189.7h1v1h-1zM328.5 189.1h1v1h-1zM333 190.4h1v1h-1zM327.1 214.5h1v1h-1zM324.4 213.9h1v1h-1zM332.9 214.4h1v1h-1zM323.5 214.3h1v1h-1zM333.1 213.8h1v1h-1z"/>
<path fill="#7088c8" d="M331.4 185.1h0.8v0.8h-0.8zM325.9 187.5h0.8v0.8h-0.8zM332.2 181.5h0.8v0.8h-0.8zM329.8 217.6h0.8v0.8h-0.8zM335.4 218.7h0.8v0.8h-0.8z"/>
<path fill="#a0b0e0" d="M335.7 187.6h0.8v0.8h-0.8zM336.7 214.9h0.8v0.8h-0.8z"/>
<path fill="#b8c4e8" d="M329.4 186.7h0.8v0.8h-0.8zM329.1 216.2h0.8v0.8h-0.8z"/>
<path fill="#8aa0d8" d="M332.7 184.4h0.8v0.8h-0.8zM336.9 216.4h0.8v0.8h-0.8zM325.6 221.7h0.8v0.8h-0.8z"/>
<path fill="#2a4aa0" d="M332.6 215.6h0.9v0.9h-0.9z"/>
<path fill="#6080c8" d="M332.2 215.3h0.9v0.9h-0.9zM336.3 213.3h0.9v0.9h-0.9z"/>
<rect x="355.6" y="188.5" width="50" height="25" fill="url(#g9)"/>
<path fill="#3a5ab8" d="M358.7 193.1h0.9v0.9h-0.9zM394.5 187.3h0.9v0.9h-0.9zM362.4 187.4h0.9v0.9h-0.9zM399.7 193.3h0.9v0.9h-0.9zM371.1 188.6h0.9v0.9h-0.9zM393.4 192.1h0.9v0.9h-0.9zM396.5 191.7h0.9v0.9h-0.9zM356.7 213.1h0.9v0.9h-0.9zM382.6 215.7h0.9v0.9h-0.9zM376.9 212.5h0.9v0.9h-0.9zM359.7 210.5h0.9v0.9h-0.9zM401.8 215h0.9v0.9h-0.9zM399.8 212.2h0.9v0.9h-0.9z"/>
<path fill="#2c7ab0" d="M394.5 190.4h0.9v0.9h-0.9zM374.5 185.9h0.9v0.9h-0.9zM357.1 188.8h0.9v0.9h-0.9zM356.8 187.9h0.9v0.9h-0.9zM365 190.9h0.9v0.9h-0.9zM363.3 189.4h0.9v0.9h-0.9zM390.8 191.7h0.9v0.9h-0.9zM394.6 188.5h0.9v0.9h-0.9zM363 190.4h0.9v0.9h-0.9zM394.1 189.3h0.9v0.9h-0.9zM358.9 189.7h0.9v0.9h-0.9zM380.8 186h0.9v0.9h-0.9zM376.1 190h0.9v0.9h-0.9zM387.9 189.5h0.9v0.9h-0.9zM389.8 189.3h0.9v0.9h-0.9zM402.9 190.3h0.9v0.9h-0.9zM367.4 186.8h0.9v0.9h-0.9zM368.3 189.5h0.9v0.9h-0.9zM373 212.9h0.9v0.9h-0.9zM387.6 213h0.9v0.9h-0.9zM394.9 214.1h0.9v0.9h-0.9zM360.2 213.1h0.9v0.9h-0.9zM361.7 215.5h0.9v0.9h-0.9zM363.6 213.9h0.9v0.9h-0.9zM367 218.1h0.9v0.9h-0.9zM364.4 213.9h0.9v0.9h-0.9zM356.3 212.7h0.9v0.9h-0.9zM380.2 214.6h0.9v0.9h-0.9z"/>
<path fill="#6080c8" d="M371.7 188.1h0.9v0.9h-0.9zM401.2 189h0.9v0.9h-0.9zM360.2 189.6h0.9v0.9h-0.9zM389.5 188.9h0.9v0.9h-0.9zM370.6 190.3h0.9v0.9h-0.9zM381.2 187.3h0.9v0.9h-0.9zM357.4 190.9h0.9v0.9h-0.9zM390 187.8h0.9v0.9h-0.9zM390.6 211.3h0.9v0.9h-0.9zM370.2 209.4h0.9v0.9h-0.9zM388.9 211.9h0.9v0.9h-0.9zM362.3 216.6h0.9v0.9h-0.9zM372.8 214.9h0.9v0.9h-0.9zM402.1 216h0.9v0.9h-0.9zM382.5 212.6h0.9v0.9h-0.9zM380.7 213.3h0.9v0.9h-0.9z"/>
<path fill="#203c90" d="M395.1 189h0.9v0.9h-0.9zM356.4 188.8h0.9v0.9h-0.9zM363.1 189.5h0.9v0.9h-0.9zM386.2 189.8h0.9v0.9h-0.9zM401.4 189.7h0.9v0.9h-0.9zM360.8 190.4h0.9v0.9h-0.9zM393.4 188.4h0.9v0.9h-0.9zM371.5 210.5h0.9v0.9h-0.9zM371.9 216.4h0.9v0.9h-0.9zM373.8 211.7h0.9v0.9h-0.9zM369.7 209.2h0.9v0.9h-0.9zM357.6 210.4h0.9v0.9h-0.9zM363.9 213.3h0.9v0.9h-0.9zM373.3 214.7h0.9v0.9h-0.9zM375.7 212.8h0.9v0.9h-0.9zM387.8 214.2h0.9v0.9h-0.9zM381.6 212.8h0.9v0.9h-0.9zM372.1 213.1h0.9v0.9h-0.9zM381 213.4h0.9v0.9h-0.9zM380.9 215.9h0.9v0.9h-0.9z"/>
<path fill="#5070c0" d="M367.4 192h0.9v0.9h-0.9zM373.8 185.5h0.9v0.9h-0.9zM361.9 186.8h0.9v0.9h-0.9zM362.7 212.9h0.9v0.9h-0.9zM388.9 213.8h0.9v0.9h-0.9zM369.1 210.9h0.9v0.9h-0.9zM365.9 212.9h0.9v0.9h-0.9z"/>
<path fill="#2a4aa0" d="M380.2 187.6h0.9v0.9h-0.9zM398.7 188h0.9v0.9h-0.9zM370.9 190.9h0.9v0.9h-0.9zM386 190.2h0.9v0.9h-0.9zM362.2 189.4h0.9v0.9h-0.9zM372.2 190.9h0.9v0.9h-0.9zM399.4 187h0.9v0.9h-0.9zM364.6 214.7h0.9v0.9h-0.9zM377.2 212.7h0.9v0.9h-0.9zM394.5 211.3h0.9v0.9h-0.9zM385.5 210.1h0.9v0.9h-0.9zM358.9 213.8h0.9v0.9h-0.9zM366.8 212.1h0.9v0.9h-0.9zM377 216.1h0.9v0.9h-0.9zM392.6 209.4h0.9v0.9h-0.9zM364.2 211.2h0.9v0.9h-0.9z"/>
<path fill="#22408f" d="M401.6 189.6h1v1h-1zM395.3 189.9h1v1h-1zM391.6 189.3h1v1h-1zM404.1 190h1v1h-1zM372.9 189.4h1v1h-1zM364 191.4h1v1h-1zM390.2 212.1h1v1h-1zM363.5 211.6h1v1h-1zM392.3 211.2h1v1h-1zM387.2 211.7h1v1h-1zM363.6 212.9h1v1h-1z"/>
<path fill="#2a6a7a" d="M402.5 189.3h1v1h-1zM397.9 189.5h1v1h-1zM370.4 191.9h1v1h-1zM398.2 189.2h1v1h-1zM379 189.3h1v1h-1zM402.4 212.7h1v1h-1zM383 211.9h1v1h-1zM400.1 212h1v1h-1zM380.5 212.2h1v1h-1zM365.7 212.5h1v1h-1zM376.5 212.3h1v1h-1z"/>
<path fill="#3a5aa8" d="M392.3 190.9h1v1h-1zM394.9 191.1h1v1h-1zM375.7 189.7h1v1h-1zM400.3 189.9h1v1h-1zM362.1 189.2h1v1h-1zM358.3 189.6h1v1h-1zM364.1 189h1v1h-1zM398.4 190.5h1v1h-1zM393.9 189.4h1v1h-1zM375.3 190.5h1v1h-1zM394.4 212.6h1v1h-1zM371.2 212.2h1v1h-1zM401.2 211.2h1v1h-1zM395.4 212.6h1v1h-1zM401.5 212.5h1v1h-1zM367.8 210.5h1v1h-1z"/>
<path fill="#284a9a" d="M395.5 189.2h1v1h-1zM392.1 189.2h1v1h-1zM399.7 189h1v1h-1zM366.8 189.1h1v1h-1zM377 191.4h1v1h-1zM360.5 189.2h1v1h-1zM399 190h1v1h-1zM378.7 190.9h1v1h-1zM385.7 210.8h1v1h-1zM395.3 211.2h1v1h-1zM396.5 212.3h1v1h-1zM369.2 211.8h1v1h-1zM391.3 212.5h1v1h-1z"/>
<path fill="#183070" d="M403.4 189.1h1v1h-1zM356.2 190.2h1v1h-1zM400.7 190.9h1v1h-1zM401.6 191.5h1v1h-1zM380 191.9h1v1h-1zM377.2 212.7h1v1h-1zM389.5 212.7h1v1h-1zM382.1 210.8h1v1h-1zM396.8 211.7h1v1h-1z"/>
<path fill="#1e3a8a" d="M389 189.6h1v1h-1zM372.4 190h1v1h-1zM396.6 189.7h1v1h-1zM359.1 189.7h1v1h-1zM393.7 212.3h1v1h-1zM389.1 212.9h1v1h-1zM380.4 212.4h1v1h-1zM397.3 212.1h1v1h-1zM366.2 212h1v1h-1zM395.5 212.1h1v1h-1zM378.8 212h1v1h-1z"/>
<path fill="#1f5a8a" d="M395.4 189.8h1v1h-1zM403.6 191h1v1h-1zM383.5 212.4h1v1h-1zM397.6 212.9h1v1h-1zM402.3 210.1h1v1h-1zM357.9 212.6h1v1h-1zM374 211.1h1v1h-1zM360.4 211.6h1v1h-1zM397.9 212.9h1v1h-1z"/>
<path fill="#ffffff" opacity="0.7" d="M391.6 189.3h1v1h-1zM383.7 190.8h1v1h-1zM360.8 190h1v1h-1zM381 189.5h1v1h-1zM379.3 190.1h1v1h-1zM388.2 190.1h1v1h-1zM365.8 189.2h1v1h-1zM402.6 189.9h1v1h-1zM389.7 190.6h1v1h-1zM357.3 190.6h1v1h-1zM384.6 189.9h1v1h-1zM376.6 189.8h1v1h-1zM360.1 190.2h1v1h-1zM394.3 189.1h1v1h-1zM373.1 189.5h1v1h-1zM394.9 190.6h1v1h-1zM366.3 191.2h1v1h-1zM376.8 190.4h1v1h-1zM374.2 189.2h1v1h-1zM365.5 190.5h1v1h-1zM366.4 212.7h1v1h-1zM400 211.7h1v1h-1zM393.4 211.9h1v1h-1zM386.5 211.8h1v1h-1zM377.3 213h1v1h-1zM360.4 211.5h1v1h-1zM389 212.6h1v1h-1zM392.1 212.6h1v1h-1zM395.9 211.8h1v1h-1zM402.7 212.3h1v1h-1zM389.1 212.9h1v1h-1zM382.8 212.9h1v1h-1zM362.3 212.4h1v1h-1zM378.6 212.7h1v1h-1zM373.6 212.7h1v1h-1zM382.7 212.6h1v1h-1zM363.5 212.2h1v1h-1zM399 211.9h1v1h-1zM403.7 211.2h1v1h-1zM362.5 211.5h1v1h-1z"/>
<path fill="#a0b0e0" d="M370.4 186.3h0.8v0.8h-0.8zM388.4 183.5h0.8v0.8h-0.8zM398.2 183.8h0.8v0.8h-0.8zM380.4 182.9h0.8v0.8h-0.8zM380.7 184.9h0.8v0.8h-0.8zM385.3 186.8h0.8v0.8h-0.8zM367 183.7h0.8v0.8h-0.8zM392.4 182.6h0.8v0.8h-0.8zM393.2 184.7h0.8v0.8h-0.8zM370.8 186.5h0.8v0.8h-0.8zM384.7 184.8h0.8v0.8h-0.8zM374.5 217.5h0.8v0.8h-0.8zM379.2 216.3h0.8v0.8h-0.8zM364.8 217h0.8v0.8h-0.8zM376.2 213.5h0.8v0.8h-0.8zM392.6 217h0.8v0.8h-0.8zM388.5 216.2h0.8v0.8h-0.8zM380.9 216.3h0.8v0.8h-0.8zM356.2 217.5h0.8v0.8h-0.8zM404.1 215.1h0.8v0.8h-0.8zM404.4 216.7h0.8v0.8h-0.8zM382.3 218.9h0.8v0.8h-0.8zM391.3 215.3h0.8v0.8h-0.8zM376.4 213.5h0.8v0.8h-0.8z"/>
<path fill="#8aa0d8" d="M379.7 184h0.8v0.8h-0.8zM364.6 182.1h0.8v0.8h-0.8zM376.2 185.1h0.8v0.8h-0.8zM367 185.8h0.8v0.8h-0.8zM369 184.8h0.8v0.8h-0.8zM379.6 182.2h0.8v0.8h-0.8zM371 215.3h0.8v0.8h-0.8zM370.3 215.6h0.8v0.8h-0.8zM382.8 214.1h0.8v0.8h-0.8zM388.9 220.4h0.8v0.8h-0.8zM371 213.2h0.8v0.8h-0.8zM375.5 221.8h0.8v0.8h-0.8zM358.9 217.8h0.8v0.8h-0.8zM380.9 219.4h0.8v0.8h-0.8zM402.4 216.1h0.8v0.8h-0.8zM363.4 215.8h0.8v0.8h-0.8zM363.5 216.8h0.8v0.8h-0.8zM383.1 216.8h0.8v0.8h-0.8z"/>
<path fill="#b8c4e8" d="M363.1 187.1h0.8v0.8h-0.8zM377.3 187.9h0.8v0.8h-0.8zM362.6 188.3h0.8v0.8h-0.8zM364 188.1h0.8v0.8h-0.8zM361.7 188h0.8v0.8h-0.8zM393.3 185.5h0.8v0.8h-0.8zM378.8 188.3h0.8v0.8h-0.8zM380.2 188.6h0.8v0.8h-0.8zM403.1 185.7h0.8v0.8h-0.8zM360.5 188.7h0.8v0.8h-0.8zM387.3 185.8h0.8v0.8h-0.8zM398 188.6h0.8v0.8h-0.8zM402.6 213.4h0.8v0.8h-0.8zM384.3 213.6h0.8v0.8h-0.8z"/>
<path fill="#7088c8" d="M395 184.8h0.8v0.8h-0.8zM393.6 188.7h0.8v0.8h-0.8zM399.9 185.9h0.8v0.8h-0.8zM404.5 188h0.8v0.8h-0.8zM386 182h0.8v0.8h-0.8zM365.1 186.1h0.8v0.8h-0.8zM386.5 220.9h0.8v0.8h-0.8zM382.3 216.4h0.8v0.8h-0.8zM368.7 214.5h0.8v0.8h-0.8zM401.4 214.4h0.8v0.8h-0.8zM396.3 221.7h0.8v0.8h-0.8zM373.9 216.6h0.8v0.8h-0.8zM382.7 217.8h0.8v0.8h-0.8zM399.6 218.9h0.8v0.8h-0.8z"/>
<rect x="430" y="187" width="14.4" height="27.8" fill="url(#g10)"/>
<path fill="#203c90" d="M433.3 189h0.9v0.9h-0.9zM435.8 188.5h0.9v0.9h-0.9zM441.2 212.8h0.9v0.9h-0.9zM439.6 213.6h0.9v0.9h-0.9zM441.8 214.1h0.9v0.9h-0.9zM437 212.6h0.9v0.9h-0.9z"/>
<path fill="#2a4aa0" d="M440.3 187.9h0.9v0.9h-0.9zM430.9 188.4h0.9v0.9h-0.9zM440.4 187.5h0.9v0.9h-0.9z"/>
<path fill="#6080c8" d="M436.1 189.8h0.9v0.9h-0.9zM435.8 188.2h0.9v0.9h-0.9zM441.4 214.3h0.9v0.9h-0.9z"/>
<path fill="#3a5ab8" d="M433.2 191h0.9v0.9h-0.9zM435.8 187.2h0.9v0.9h-0.9zM438.7 187.6h0.9v0.9h-0.9zM432.4 218.7h0.9v0.9h-0.9zM431.2 213.5h0.9v0.9h-0.9z"/>
<path fill="#5070c0" d="M435.7 186h0.9v0.9h-0.9zM432.1 185.8h0.9v0.9h-0.9zM430 215.7h0.9v0.9h-0.9zM443.5 214.7h0.9v0.9h-0.9zM440.6 215.4h0.9v0.9h-0.9z"/>
<path fill="#2c7ab0" d="M431 187.8h0.9v0.9h-0.9zM437.9 182.7h0.9v0.9h-0.9zM437.9 214.1h0.9v0.9h-0.9zM431.2 213.8h0.9v0.9h-0.9zM442.2 211.1h0.9v0.9h-0.9zM436 212.3h0.9v0.9h-0.9z"/>
<path fill="#1e3a8a" d="M441 188.5h1v1h-1zM434.5 187.6h1v1h-1zM442.1 189.5h1v1h-1zM430.5 188.5h1v1h-1zM438.3 213.8h1v1h-1zM438 212.6h1v1h-1z"/>
<path fill="#1f5a8a" d="M437 188.3h1v1h-1zM439.4 188h1v1h-1z"/>
<path fill="#183070" d="M432.3 187.6h1v1h-1zM431.2 187.9h1v1h-1zM433.9 187.8h1v1h-1zM435.6 214h1v1h-1zM440.3 213.3h1v1h-1zM436 214.2h1v1h-1zM433.4 214.2h1v1h-1z"/>
<path fill="#22408f" d="M432.8 188.2h1v1h-1zM439 188.9h1v1h-1zM437.9 212.8h1v1h-1z"/>
<path fill="#ffffff" opacity="0.7" d="M432.1 188.6h1v1h-1zM430.9 189.6h1v1h-1zM442.3 187.9h1v1h-1zM431.3 188.1h1v1h-1zM432.6 187.8h1v1h-1zM436.1 212.9h1v1h-1zM434.8 214.3h1v1h-1zM440.1 213.3h1v1h-1zM439.8 213.8h1v1h-1zM440.5 213.4h1v1h-1z"/>
<path fill="#7088c8" d="M439 181.1h0.8v0.8h-0.8zM440.7 187.2h0.8v0.8h-0.8zM434.6 217.5h0.8v0.8h-0.8zM436.6 215.3h0.8v0.8h-0.8z"/>
<path fill="#b8c4e8" d="M430.9 187.3h0.8v0.8h-0.8z"/>
<path fill="#8aa0d8" d="M431.7 184.1h0.8v0.8h-0.8zM439.4 186h0.8v0.8h-0.8zM438.8 216.5h0.8v0.8h-0.8zM433.7 218.8h0.8v0.8h-0.8z"/>
<path fill="#a0b0e0" d="M433.2 186.2h0.8v0.8h-0.8zM440.9 216.3h0.8v0.8h-0.8zM434.6 219.8h0.8v0.8h-0.8z"/>
<path fill="#2a6a7a" d="M439.7 212.8h1v1h-1zM442.4 212.6h1v1h-1z"/>
<path fill="#3a5aa8" d="M437.3 214.2h1v1h-1zM439.5 213.8h1v1h-1z"/>
<rect x="462" y="186.5" width="49.8" height="28" fill="url(#g11)"/>
<path fill="#3a5ab8" d="M471.6 187.4h0.9v0.9h-0.9zM510.3 188.6h0.9v0.9h-0.9zM498 188.1h0.9v0.9h-0.9zM466.8 186.2h0.9v0.9h-0.9zM503.6 188.5h0.9v0.9h-0.9zM510.6 187.2h0.9v0.9h-0.9zM508.8 184h0.9v0.9h-0.9zM467.6 186.5h0.9v0.9h-0.9zM474.7 213.1h0.9v0.9h-0.9zM485 214.1h0.9v0.9h-0.9zM504.8 211.9h0.9v0.9h-0.9zM500.7 213.3h0.9v0.9h-0.9zM467.2 218h0.9v0.9h-0.9zM479.7 213.2h0.9v0.9h-0.9zM507.9 213.4h0.9v0.9h-0.9z"/>
<path fill="#203c90" d="M505.8 186.7h0.9v0.9h-0.9zM463.8 187.2h0.9v0.9h-0.9zM467.7 186.9h0.9v0.9h-0.9zM485.4 187.5h0.9v0.9h-0.9zM471 188.6h0.9v0.9h-0.9zM487 188.9h0.9v0.9h-0.9zM478.6 188.8h0.9v0.9h-0.9zM504.3 215.3h0.9v0.9h-0.9zM469 214.9h0.9v0.9h-0.9zM494.1 213.8h0.9v0.9h-0.9zM470.8 212.5h0.9v0.9h-0.9zM487.6 212.7h0.9v0.9h-0.9zM502.7 215.7h0.9v0.9h-0.9zM464.1 213h0.9v0.9h-0.9zM474.8 214.8h0.9v0.9h-0.9zM481.8 211h0.9v0.9h-0.9zM479.8 213.9h0.9v0.9h-0.9zM502.2 213.6h0.9v0.9h-0.9z"/>
<path fill="#5070c0" d="M504.4 185.4h0.9v0.9h-0.9zM503.7 188.1h0.9v0.9h-0.9zM471.4 187.5h0.9v0.9h-0.9zM491.9 189h0.9v0.9h-0.9zM472.4 188h0.9v0.9h-0.9zM463.9 187.8h0.9v0.9h-0.9zM504.9 188.9h0.9v0.9h-0.9zM503.5 185.4h0.9v0.9h-0.9zM492.2 186.4h0.9v0.9h-0.9zM499.3 213.6h0.9v0.9h-0.9zM483.7 214.1h0.9v0.9h-0.9zM489 213.5h0.9v0.9h-0.9zM486.3 214.7h0.9v0.9h-0.9zM484.3 215.6h0.9v0.9h-0.9zM502.7 214.8h0.9v0.9h-0.9z"/>
<path fill="#2c7ab0" d="M469.5 187.6h0.9v0.9h-0.9zM471 187.7h0.9v0.9h-0.9zM477.9 186.5h0.9v0.9h-0.9zM473.8 186.1h0.9v0.9h-0.9zM485 184.2h0.9v0.9h-0.9zM501.1 188h0.9v0.9h-0.9zM476.1 187h0.9v0.9h-0.9zM469.9 186.3h0.9v0.9h-0.9zM491.2 213.6h0.9v0.9h-0.9zM467.7 215.9h0.9v0.9h-0.9zM493.4 215.3h0.9v0.9h-0.9zM506.8 214h0.9v0.9h-0.9zM480.6 214.6h0.9v0.9h-0.9zM466.3 215.9h0.9v0.9h-0.9zM482.9 213h0.9v0.9h-0.9zM504.2 213.5h0.9v0.9h-0.9z"/>
<path fill="#6080c8" d="M486.9 188h0.9v0.9h-0.9zM481.4 187.8h0.9v0.9h-0.9zM495.2 187.9h0.9v0.9h-0.9zM497 187.6h0.9v0.9h-0.9zM473.4 184h0.9v0.9h-0.9zM499.8 187.6h0.9v0.9h-0.9zM473.8 187.7h0.9v0.9h-0.9zM484.6 187h0.9v0.9h-0.9zM492.6 187.5h0.9v0.9h-0.9zM494.1 184h0.9v0.9h-0.9zM510.7 214.5h0.9v0.9h-0.9zM497.2 213.7h0.9v0.9h-0.9zM487.4 211.2h0.9v0.9h-0.9zM468 214.7h0.9v0.9h-0.9zM466.6 216.3h0.9v0.9h-0.9zM486.2 214.1h0.9v0.9h-0.9zM497.2 212.8h0.9v0.9h-0.9z"/>
<path fill="#2a4aa0" d="M480.5 186.9h0.9v0.9h-0.9zM483.5 187.8h0.9v0.9h-0.9zM477.2 188.7h0.9v0.9h-0.9zM466.6 185.2h0.9v0.9h-0.9zM479 185.3h0.9v0.9h-0.9zM475.9 185.8h0.9v0.9h-0.9zM493.4 188.6h0.9v0.9h-0.9zM463.1 187.9h0.9v0.9h-0.9zM509.8 214.7h0.9v0.9h-0.9zM465.9 214.7h0.9v0.9h-0.9zM505.8 215.2h0.9v0.9h-0.9zM506.5 211.5h0.9v0.9h-0.9zM507.2 215h0.9v0.9h-0.9zM466 214.3h0.9v0.9h-0.9zM483.6 212.8h0.9v0.9h-0.9zM489.5 213.3h0.9v0.9h-0.9zM488.6 213.2h0.9v0.9h-0.9zM504.2 212.9h0.9v0.9h-0.9zM476.6 213.6h0.9v0.9h-0.9z"/>
<path fill="#284a9a" d="M471.6 187.2h1v1h-1zM497.8 188.5h1v1h-1zM504.1 188.5h1v1h-1zM472 189.3h1v1h-1zM505.6 210.6h1v1h-1zM493.8 212h1v1h-1zM465.7 213.8h1v1h-1zM504.9 213.4h1v1h-1z"/>
<path fill="#3a5aa8" d="M473.4 187.6h1v1h-1zM496.4 189.1h1v1h-1zM509.5 188.4h1v1h-1zM498.3 187.6h1v1h-1zM469.2 187.4h1v1h-1zM506.2 188.7h1v1h-1zM508.2 213.4h1v1h-1zM468.2 209.5h1v1h-1zM509.1 213.3h1v1h-1zM480 212.9h1v1h-1zM505.5 213.6h1v1h-1zM469 211.9h1v1h-1zM478.1 213.8h1v1h-1zM509.3 212.5h1v1h-1zM468.1 210.8h1v1h-1z"/>
<path fill="#1e3a8a" d="M497.8 189.9h1v1h-1zM488.6 188.2h1v1h-1zM488.8 188h1v1h-1zM497.1 188h1v1h-1zM489 187.4h1v1h-1zM501.6 187.7h1v1h-1zM478.5 213.5h1v1h-1zM476.1 212.6h1v1h-1zM500.4 213h1v1h-1zM508.9 213.1h1v1h-1z"/>
<path fill="#1f5a8a" d="M480.4 188.5h1v1h-1zM495 187.2h1v1h-1zM468.5 187.1h1v1h-1zM472.8 188.7h1v1h-1zM479.8 188.3h1v1h-1zM487.8 212.4h1v1h-1zM464.1 212.2h1v1h-1zM480.5 211h1v1h-1zM491 212.4h1v1h-1z"/>
<path fill="#183070" d="M493.5 187.5h1v1h-1zM471.1 188.3h1v1h-1zM463.6 190.5h1v1h-1zM505.4 188.1h1v1h-1zM469.8 187.6h1v1h-1zM508.3 187h1v1h-1zM491.9 212.1h1v1h-1zM479.6 212.1h1v1h-1zM492.1 212.8h1v1h-1zM494.2 212.2h1v1h-1zM480.3 213.8h1v1h-1zM475.9 213.1h1v1h-1zM473.7 213.3h1v1h-1zM490.8 213.8h1v1h-1z"/>
<path fill="#22408f" d="M491.9 187.4h1v1h-1zM484.2 188.6h1v1h-1zM491.4 190.1h1v1h-1zM488.9 187.9h1v1h-1zM484.6 188.1h1v1h-1zM507.8 187.4h1v1h-1zM489.2 211.3h1v1h-1zM495.4 210.6h1v1h-1zM489.8 213.9h1v1h-1zM505.4 212.6h1v1h-1zM470.3 211.9h1v1h-1zM467 213.4h1v1h-1zM508.3 212.8h1v1h-1zM496.6 213.7h1v1h-1zM483.9 213.8h1v1h-1z"/>
<path fill="#2a6a7a" d="M494.1 188.4h1v1h-1zM495.1 188.4h1v1h-1zM465.9 188.1h1v1h-1zM503.3 188.7h1v1h-1zM463.1 189.7h1v1h-1zM478.4 188.2h1v1h-1zM480.6 187.6h1v1h-1zM475.4 212.4h1v1h-1zM505.5 213.8h1v1h-1z"/>
<path fill="#ffffff" opacity="0.7" d="M475.7 187.3h1v1h-1zM474.1 188.2h1v1h-1zM495.9 187.2h1v1h-1zM472.6 187.6h1v1h-1zM508.6 187.3h1v1h-1zM486.5 188h1v1h-1zM463.3 187.3h1v1h-1zM504.7 188h1v1h-1zM479.4 187.5h1v1h-1zM497.7 188h1v1h-1zM494.1 187.5h1v1h-1zM469.5 187.8h1v1h-1zM506.8 187.6h1v1h-1zM500.4 187.5h1v1h-1zM471.7 187.2h1v1h-1zM501.6 187.4h1v1h-1zM466.6 187.1h1v1h-1zM485.5 188.4h1v1h-1zM480.4 187.2h1v1h-1zM483.3 187h1v1h-1zM485.7 213.5h1v1h-1zM469.1 212.9h1v1h-1zM484.6 212.7h1v1h-1zM478.9 213.5h1v1h-1zM510 213.4h1v1h-1zM500.4 213.9h1v1h-1zM483.2 213.7h1v1h-1zM471.5 214h1v1h-1zM464.3 212.5h1v1h-1zM486.4 213.9h1v1h-1zM474.4 213.7h1v1h-1zM498.3 213.1h1v1h-1zM475.4 213.9h1v1h-1zM483 213.4h1v1h-1zM484.8 213.8h1v1h-1zM489.7 212.6h1v1h-1zM470.6 213.7h1v1h-1zM467.5 213.8h1v1h-1zM496.5 213.1h1v1h-1zM472.2 213.4h1v1h-1z"/>
<path fill="#a0b0e0" d="M462.1 186.2h0.8v0.8h-0.8zM489 184.4h0.8v0.8h-0.8zM481 185.7h0.8v0.8h-0.8zM469.9 185.2h0.8v0.8h-0.8zM509.9 186.8h0.8v0.8h-0.8zM488.3 183.8h0.8v0.8h-0.8zM503.6 182.1h0.8v0.8h-0.8zM507.9 186.6h0.8v0.8h-0.8zM510 184.1h0.8v0.8h-0.8zM474.9 184.4h0.8v0.8h-0.8zM496.1 184.8h0.8v0.8h-0.8zM489.4 182.5h0.8v0.8h-0.8zM510.7 219.9h0.8v0.8h-0.8zM486.7 216.2h0.8v0.8h-0.8zM477.8 223.3h0.8v0.8h-0.8zM505.8 221.8h0.8v0.8h-0.8zM478.2 214.3h0.8v0.8h-0.8zM483 217.2h0.8v0.8h-0.8zM469.2 215.4h0.8v0.8h-0.8zM463.5 219.3h0.8v0.8h-0.8zM501.1 214.3h0.8v0.8h-0.8z"/>
<path fill="#8aa0d8" d="M496.3 184.5h0.8v0.8h-0.8zM471.2 185h0.8v0.8h-0.8zM483.5 180.3h0.8v0.8h-0.8zM483.7 183.1h0.8v0.8h-0.8zM493.7 184.2h0.8v0.8h-0.8zM495.8 184.5h0.8v0.8h-0.8zM464.9 183.3h0.8v0.8h-0.8zM471.7 186.3h0.8v0.8h-0.8zM472.3 180.3h0.8v0.8h-0.8zM501.8 216.1h0.8v0.8h-0.8zM470.5 217.4h0.8v0.8h-0.8zM464.8 217.9h0.8v0.8h-0.8zM472.8 221.4h0.8v0.8h-0.8zM502.9 218h0.8v0.8h-0.8zM467.1 215.1h0.8v0.8h-0.8zM481.8 218.6h0.8v0.8h-0.8zM504.6 219.9h0.8v0.8h-0.8zM479.2 215.6h0.8v0.8h-0.8zM507.4 221.1h0.8v0.8h-0.8zM492.5 218.9h0.8v0.8h-0.8zM496.5 214.7h0.8v0.8h-0.8zM492.1 218h0.8v0.8h-0.8z"/>
<path fill="#b8c4e8" d="M500.5 182.4h0.8v0.8h-0.8zM501.9 182.1h0.8v0.8h-0.8zM472.8 180.4h0.8v0.8h-0.8zM473.9 183.3h0.8v0.8h-0.8zM498.7 186.6h0.8v0.8h-0.8zM499 180.1h0.8v0.8h-0.8zM472.9 182.7h0.8v0.8h-0.8zM465.6 183h0.8v0.8h-0.8zM495.1 185.6h0.8v0.8h-0.8zM475.4 183.4h0.8v0.8h-0.8zM505.2 215.8h0.8v0.8h-0.8zM500.1 215.3h0.8v0.8h-0.8zM473.6 215.4h0.8v0.8h-0.8zM463.3 217.8h0.8v0.8h-0.8zM482 218h0.8v0.8h-0.8zM467.7 217.4h0.8v0.8h-0.8zM491.6 214.5h0.8v0.8h-0.8zM494.5 215.3h0.8v0.8h-0.8zM474.1 219h0.8v0.8h-0.8z"/>
<path fill="#7088c8" d="M469.6 183.5h0.8v0.8h-0.8zM474.2 185.8h0.8v0.8h-0.8zM467.6 186.9h0.8v0.8h-0.8zM479.1 175.6h0.8v0.8h-0.8zM471.2 219.1h0.8v0.8h-0.8zM496.1 219.8h0.8v0.8h-0.8zM508.9 216.4h0.8v0.8h-0.8zM498.5 217.4h0.8v0.8h-0.8z"/>
<rect x="323.4" y="259.7" width="14.8" height="26" fill="url(#g12)"/>
<path fill="#6080c8" d="M336.6 261.4h0.9v0.9h-0.9zM325.7 261.3h0.9v0.9h-0.9zM336.3 261.2h0.9v0.9h-0.9zM329.2 285.1h0.9v0.9h-0.9zM336.5 284h0.9v0.9h-0.9zM333.6 287.5h0.9v0.9h-0.9z"/>
<path fill="#5070c0" d="M336.8 262h0.9v0.9h-0.9zM335.9 264.4h0.9v0.9h-0.9zM334.1 257.7h0.9v0.9h-0.9z"/>
<path fill="#203c90" d="M336.4 261.8h0.9v0.9h-0.9zM333.1 259.3h0.9v0.9h-0.9zM332.6 284.3h0.9v0.9h-0.9zM329.6 286.1h0.9v0.9h-0.9zM330.5 287h0.9v0.9h-0.9zM327.8 285.1h0.9v0.9h-0.9z"/>
<path fill="#2a4aa0" d="M324.1 260.4h0.9v0.9h-0.9zM329.1 287.6h0.9v0.9h-0.9zM329.3 284.7h0.9v0.9h-0.9zM333.6 285.9h0.9v0.9h-0.9zM328.5 283.2h0.9v0.9h-0.9zM326.3 285.7h0.9v0.9h-0.9zM334.7 286.8h0.9v0.9h-0.9z"/>
<path fill="#2c7ab0" d="M332.9 258.5h0.9v0.9h-0.9zM336.2 259h0.9v0.9h-0.9zM325.4 263h0.9v0.9h-0.9zM329.9 284.1h0.9v0.9h-0.9zM326.5 284.8h0.9v0.9h-0.9z"/>
<path fill="#3a5ab8" d="M324.3 259.6h0.9v0.9h-0.9zM330.5 259.7h0.9v0.9h-0.9zM330.2 260.7h0.9v0.9h-0.9zM334.7 259.3h0.9v0.9h-0.9zM324.8 261.7h0.9v0.9h-0.9zM337 257.4h0.9v0.9h-0.9zM327.2 282.9h0.9v0.9h-0.9zM332.3 286.9h0.9v0.9h-0.9zM332.6 282.6h0.9v0.9h-0.9z"/>
<path fill="#2a6a7a" d="M331.2 260.9h1v1h-1zM325.9 261.8h1v1h-1zM328.6 283.7h1v1h-1zM334.7 284.5h1v1h-1z"/>
<path fill="#183070" d="M335.3 261.6h1v1h-1zM327.9 261.2h1v1h-1zM326.8 260.4h1v1h-1zM325.9 283.9h1v1h-1z"/>
<path fill="#3a5aa8" d="M323.7 260.5h1v1h-1zM327.3 261.2h1v1h-1zM326.3 262.8h1v1h-1zM335.8 284.9h1v1h-1z"/>
<path fill="#284a9a" d="M325.1 261.3h1v1h-1zM323.8 260.5h1v1h-1z"/>
<path fill="#1f5a8a" d="M330.9 260.6h1v1h-1zM330.3 285.1h1v1h-1zM327.9 284h1v1h-1zM335.3 284.1h1v1h-1zM327.1 283.2h1v1h-1zM334.5 284.7h1v1h-1z"/>
<path fill="#22408f" d="M324.9 260.7h1v1h-1zM323.5 261.9h1v1h-1zM335.7 284.1h1v1h-1zM332 284.6h1v1h-1z"/>
<path fill="#1e3a8a" d="M324.1 262.4h1v1h-1zM330.8 282.1h1v1h-1zM333.5 284.1h1v1h-1zM326.5 283.2h1v1h-1z"/>
<path fill="#ffffff" opacity="0.7" d="M326.2 260.6h1v1h-1zM328.2 260.3h1v1h-1zM329.7 260.9h1v1h-1zM335.5 261.7h1v1h-1zM324.3 260.5h1v1h-1zM325 260.8h1v1h-1zM329.4 260.4h1v1h-1zM333.9 284.8h1v1h-1zM324.3 285.2h1v1h-1zM327.2 284.2h1v1h-1zM326.7 284.5h1v1h-1zM328.7 284.6h1v1h-1zM331.9 284.9h1v1h-1zM332.9 284.8h1v1h-1z"/>
<path fill="#b8c4e8" d="M335.6 259.2h0.8v0.8h-0.8zM329.7 258.9h0.8v0.8h-0.8zM330.5 260h0.8v0.8h-0.8zM327.7 256.6h0.8v0.8h-0.8zM336.1 251.9h0.8v0.8h-0.8zM329.4 288.1h0.8v0.8h-0.8zM327.6 285.9h0.8v0.8h-0.8zM331.4 289.2h0.8v0.8h-0.8zM331.6 289.5h0.8v0.8h-0.8zM332.2 288.3h0.8v0.8h-0.8zM332.2 291.7h0.8v0.8h-0.8z"/>
<path fill="#8aa0d8" d="M327.6 258.8h0.8v0.8h-0.8zM335.4 260.1h0.8v0.8h-0.8zM328.6 255.7h0.8v0.8h-0.8zM325.8 260.1h0.8v0.8h-0.8zM324.6 289h0.8v0.8h-0.8zM327.9 286.9h0.8v0.8h-0.8z"/>
<path fill="#a0b0e0" d="M326.6 256.8h0.8v0.8h-0.8zM336.2 255.8h0.8v0.8h-0.8zM331.9 254.6h0.8v0.8h-0.8zM326.6 288.3h0.8v0.8h-0.8zM334.3 289.3h0.8v0.8h-0.8zM330.2 292.6h0.8v0.8h-0.8zM333.1 287h0.8v0.8h-0.8zM330.8 291.2h0.8v0.8h-0.8z"/>
<path fill="#7088c8" d="M335 259.7h0.8v0.8h-0.8zM334.9 259.9h0.8v0.8h-0.8zM334.5 291.3h0.8v0.8h-0.8z"/>
<rect x="355.5" y="262.3" width="50.1" height="25.9" fill="url(#g13)"/>
<path fill="#5070c0" d="M391.4 263.4h0.9v0.9h-0.9zM356.6 264.6h0.9v0.9h-0.9zM375.9 259.9h0.9v0.9h-0.9zM375.8 261.3h0.9v0.9h-0.9zM356.1 262.2h0.9v0.9h-0.9zM366.8 263.5h0.9v0.9h-0.9zM399.8 261.4h0.9v0.9h-0.9zM362.3 260.7h0.9v0.9h-0.9zM400.7 262.2h0.9v0.9h-0.9zM367.5 263.1h0.9v0.9h-0.9zM364.7 262.6h0.9v0.9h-0.9zM402.6 263.3h0.9v0.9h-0.9zM391.1 264h0.9v0.9h-0.9zM374.4 263.6h0.9v0.9h-0.9zM377.1 259.5h0.9v0.9h-0.9zM392.3 287.5h0.9v0.9h-0.9zM372.2 288.6h0.9v0.9h-0.9zM382.8 285.8h0.9v0.9h-0.9zM377.6 288.2h0.9v0.9h-0.9zM371.3 287.9h0.9v0.9h-0.9zM367.3 286.5h0.9v0.9h-0.9zM384.9 285.8h0.9v0.9h-0.9zM402 290.1h0.9v0.9h-0.9z"/>
<path fill="#3a5ab8" d="M372.6 262.4h0.9v0.9h-0.9zM361.4 265.1h0.9v0.9h-0.9zM383.1 260.9h0.9v0.9h-0.9zM385.4 266.9h0.9v0.9h-0.9zM373.9 265.8h0.9v0.9h-0.9zM359.4 259h0.9v0.9h-0.9zM356.5 260.3h0.9v0.9h-0.9zM389.4 257.2h0.9v0.9h-0.9zM396.4 263.3h0.9v0.9h-0.9zM381.5 263.2h0.9v0.9h-0.9zM400.9 262.7h0.9v0.9h-0.9zM378.2 263.4h0.9v0.9h-0.9zM371.1 286.8h0.9v0.9h-0.9zM372.4 288.8h0.9v0.9h-0.9zM364.4 290h0.9v0.9h-0.9zM367.2 289.3h0.9v0.9h-0.9zM402.8 286.9h0.9v0.9h-0.9zM372.5 288.7h0.9v0.9h-0.9zM382.2 290.6h0.9v0.9h-0.9zM402.7 286.1h0.9v0.9h-0.9zM392.9 284.9h0.9v0.9h-0.9zM398.2 284.7h0.9v0.9h-0.9zM371.7 286.9h0.9v0.9h-0.9z"/>
<path fill="#2a4aa0" d="M361.2 262.8h0.9v0.9h-0.9zM399.7 258.9h0.9v0.9h-0.9zM382.4 262.9h0.9v0.9h-0.9zM385.1 264.2h0.9v0.9h-0.9zM384.1 264.1h0.9v0.9h-0.9zM402.6 266.1h0.9v0.9h-0.9zM368.8 260.7h0.9v0.9h-0.9zM401 284.6h0.9v0.9h-0.9zM390.4 289.2h0.9v0.9h-0.9zM400.8 286.3h0.9v0.9h-0.9zM383.8 291.6h0.9v0.9h-0.9zM401 291.1h0.9v0.9h-0.9zM395.1 282.2h0.9v0.9h-0.9zM390.2 285.1h0.9v0.9h-0.9zM396.2 285.4h0.9v0.9h-0.9zM387.4 289.4h0.9v0.9h-0.9zM368.8 287.2h0.9v0.9h-0.9zM372.9 286h0.9v0.9h-0.9zM364.2 283.7h0.9v0.9h-0.9z"/>
<path fill="#6080c8" d="M370.4 261.6h0.9v0.9h-0.9zM391.4 261.7h0.9v0.9h-0.9zM370.5 265.4h0.9v0.9h-0.9zM360.2 262.6h0.9v0.9h-0.9zM362.8 261.5h0.9v0.9h-0.9zM372.1 263.6h0.9v0.9h-0.9zM373.3 263.7h0.9v0.9h-0.9zM370.3 260.5h0.9v0.9h-0.9zM388.2 264h0.9v0.9h-0.9zM381.6 286.9h0.9v0.9h-0.9zM365.1 288.3h0.9v0.9h-0.9zM369.4 287.6h0.9v0.9h-0.9zM389 290h0.9v0.9h-0.9zM374.1 288.6h0.9v0.9h-0.9zM361.9 285.4h0.9v0.9h-0.9zM387.7 286.3h0.9v0.9h-0.9zM396.7 285.8h0.9v0.9h-0.9zM401.3 285.3h0.9v0.9h-0.9zM366.2 285.6h0.9v0.9h-0.9zM358.3 289.6h0.9v0.9h-0.9zM397.7 286.9h0.9v0.9h-0.9zM371.7 281.4h0.9v0.9h-0.9zM384.5 288.1h0.9v0.9h-0.9z"/>
<path fill="#2c7ab0" d="M393.1 260.9h0.9v0.9h-0.9zM389.7 261.2h0.9v0.9h-0.9zM357.2 265.7h0.9v0.9h-0.9zM362.8 261.5h0.9v0.9h-0.9zM357.6 263.3h0.9v0.9h-0.9zM397.8 264.1h0.9v0.9h-0.9zM391.9 263.1h0.9v0.9h-0.9zM376.9 263h0.9v0.9h-0.9zM372.9 288.8h0.9v0.9h-0.9zM386.4 288.3h0.9v0.9h-0.9zM395.2 287h0.9v0.9h-0.9zM355.6 287.8h0.9v0.9h-0.9zM397.7 286.8h0.9v0.9h-0.9zM390.5 286.7h0.9v0.9h-0.9zM372.1 286.8h0.9v0.9h-0.9zM372.6 286.4h0.9v0.9h-0.9zM371.4 288.3h0.9v0.9h-0.9z"/>
<path fill="#203c90" d="M376.5 267.1h0.9v0.9h-0.9zM381 263.1h0.9v0.9h-0.9zM381.3 265.1h0.9v0.9h-0.9zM372.7 265.2h0.9v0.9h-0.9zM376.4 264h0.9v0.9h-0.9zM372.7 262.2h0.9v0.9h-0.9zM393.1 264.1h0.9v0.9h-0.9zM356.3 262.3h0.9v0.9h-0.9zM400.6 260.5h0.9v0.9h-0.9zM389 286.5h0.9v0.9h-0.9zM373.4 290.2h0.9v0.9h-0.9zM400.6 286.8h0.9v0.9h-0.9zM376.1 291.1h0.9v0.9h-0.9zM378.7 286.3h0.9v0.9h-0.9zM397.8 290.8h0.9v0.9h-0.9z"/>
<path fill="#2a6a7a" d="M358.3 264.1h1v1h-1zM393.7 263.9h1v1h-1zM399.2 263.3h1v1h-1zM365.6 264.6h1v1h-1zM361.3 263.6h1v1h-1zM393.8 263h1v1h-1zM387.7 264.9h1v1h-1zM386.3 264.3h1v1h-1zM362.7 263.5h1v1h-1zM360.4 262.9h1v1h-1zM359.2 287.1h1v1h-1zM368.5 287.5h1v1h-1zM401 287.6h1v1h-1zM385.9 286.6h1v1h-1z"/>
<path fill="#183070" d="M396.8 263.6h1v1h-1zM369.2 264.1h1v1h-1zM360 264.2h1v1h-1zM389.7 263.9h1v1h-1zM365.9 263.5h1v1h-1zM365.8 263.2h1v1h-1zM355.9 263.1h1v1h-1zM382.8 287.3h1v1h-1zM402.5 287.5h1v1h-1zM384.6 286.3h1v1h-1zM403.7 286.8h1v1h-1z"/>
<path fill="#3a5aa8" d="M398.4 263.1h1v1h-1zM372.4 263.9h1v1h-1zM367 264.3h1v1h-1zM402 286.3h1v1h-1zM404.5 286.5h1v1h-1zM372.2 287.1h1v1h-1zM382.1 284.8h1v1h-1zM389 287.5h1v1h-1zM390.5 286.3h1v1h-1zM398.8 286.8h1v1h-1zM356.8 286.8h1v1h-1zM371.4 287.3h1v1h-1z"/>
<path fill="#22408f" d="M379.6 263.9h1v1h-1zM371.4 264.6h1v1h-1zM398.2 263.1h1v1h-1zM396.6 264.1h1v1h-1zM394.2 265.3h1v1h-1zM359 287.2h1v1h-1zM367.1 287.3h1v1h-1zM373.4 285.7h1v1h-1zM366.8 286.5h1v1h-1zM401.4 286.6h1v1h-1zM374 287.3h1v1h-1z"/>
<path fill="#1f5a8a" d="M398.5 264.9h1v1h-1zM361.8 263.1h1v1h-1zM373.3 263.9h1v1h-1zM377.5 264.6h1v1h-1zM384.7 265.3h1v1h-1zM376.3 264h1v1h-1zM388.2 265.3h1v1h-1zM366.1 287.1h1v1h-1zM391.4 287.5h1v1h-1zM383.7 285.4h1v1h-1zM372.4 284.9h1v1h-1zM376.9 285.7h1v1h-1zM377.7 287.3h1v1h-1zM385.5 286.8h1v1h-1zM385.4 287.5h1v1h-1z"/>
<path fill="#1e3a8a" d="M373.4 263.9h1v1h-1zM366.1 263.5h1v1h-1zM360 263.7h1v1h-1zM376 264.4h1v1h-1zM389 263.2h1v1h-1zM365.8 265.7h1v1h-1zM383.9 264.6h1v1h-1zM355.9 263h1v1h-1zM359.9 264.5h1v1h-1zM357.3 263h1v1h-1zM377.3 264h1v1h-1zM400.4 263.4h1v1h-1zM391.4 264.3h1v1h-1zM381.8 286.1h1v1h-1zM357.9 287.2h1v1h-1zM367.1 287.3h1v1h-1zM397.2 286.2h1v1h-1zM375.7 287.5h1v1h-1zM367.4 286.8h1v1h-1zM377.5 286.9h1v1h-1zM397.4 286.9h1v1h-1zM369.6 286.6h1v1h-1z"/>
<path fill="#284a9a" d="M384.6 264.4h1v1h-1zM401.6 263.3h1v1h-1zM373.4 264.1h1v1h-1zM403.8 287.3h1v1h-1zM403.8 286.4h1v1h-1zM392.7 287.5h1v1h-1zM375.9 286.1h1v1h-1zM384.7 287h1v1h-1zM366.4 285.5h1v1h-1zM360.7 286.9h1v1h-1zM399.5 285.5h1v1h-1z"/>
<path fill="#ffffff" opacity="0.7" d="M384.3 263h1v1h-1zM399.4 263.3h1v1h-1zM359.9 263.7h1v1h-1zM391.2 263.5h1v1h-1zM380.9 264.4h1v1h-1zM358.7 262.8h1v1h-1zM398.3 263.7h1v1h-1zM401.5 263.2h1v1h-1zM364.1 264h1v1h-1zM377.5 263.1h1v1h-1zM371.3 263.5h1v1h-1zM381.8 264.6h1v1h-1zM362.8 263.7h1v1h-1zM400.3 263h1v1h-1zM389.1 263.7h1v1h-1zM369.9 263.5h1v1h-1zM389.9 263.4h1v1h-1zM384.3 264.2h1v1h-1zM377.3 264h1v1h-1zM364 263.4h1v1h-1zM395.7 263h1v1h-1zM403.7 264.6h1v1h-1zM363.1 262.9h1v1h-1zM396.1 263.3h1v1h-1zM373.8 287.4h1v1h-1zM384.8 287.2h1v1h-1zM377.4 287.5h1v1h-1zM395.6 286.8h1v1h-1zM379.8 287.3h1v1h-1zM382 287.3h1v1h-1zM366.7 287.6h1v1h-1zM396.5 287.5h1v1h-1zM361.3 287.1h1v1h-1zM364.4 286h1v1h-1zM398.7 286.9h1v1h-1zM378.5 287.1h1v1h-1zM381.1 286.8h1v1h-1zM364.7 285.5h1v1h-1zM361.7 287.6h1v1h-1zM392.6 287.6h1v1h-1zM365.8 286.8h1v1h-1zM387.4 286.7h1v1h-1zM365.4 285.7h1v1h-1zM399.8 285.5h1v1h-1zM392 287.3h1v1h-1zM397 286.3h1v1h-1zM356.2 287h1v1h-1zM390.2 287.2h1v1h-1z"/>
<path fill="#7088c8" d="M387.2 258h0.8v0.8h-0.8zM403.8 261.6h0.8v0.8h-0.8zM380.7 260.6h0.8v0.8h-0.8zM404 261.3h0.8v0.8h-0.8zM365.9 260.1h0.8v0.8h-0.8zM384.9 257.3h0.8v0.8h-0.8zM365 256.7h0.8v0.8h-0.8zM377.9 262.4h0.8v0.8h-0.8zM368.1 261.4h0.8v0.8h-0.8zM394 260.8h0.8v0.8h-0.8zM390.4 262.5h0.8v0.8h-0.8zM369.4 250.9h0.8v0.8h-0.8zM385.6 254.4h0.8v0.8h-0.8zM383.8 260.3h0.8v0.8h-0.8zM398.1 257.1h0.8v0.8h-0.8zM356.4 262.5h0.8v0.8h-0.8zM361.8 262.5h0.8v0.8h-0.8zM375.4 262.2h0.8v0.8h-0.8zM364.4 258.1h0.8v0.8h-0.8zM370.9 289.7h0.8v0.8h-0.8zM393.2 291.3h0.8v0.8h-0.8zM372.3 291.8h0.8v0.8h-0.8zM359.5 287.7h0.8v0.8h-0.8zM370.7 291.2h0.8v0.8h-0.8zM374.9 288h0.8v0.8h-0.8zM377.6 293h0.8v0.8h-0.8zM379.2 293.1h0.8v0.8h-0.8zM355.6 287.9h0.8v0.8h-0.8zM362.1 291.3h0.8v0.8h-0.8zM373.2 288.1h0.8v0.8h-0.8z"/>
<path fill="#b8c4e8" d="M389.1 253.2h0.8v0.8h-0.8zM404.6 260.5h0.8v0.8h-0.8zM395.9 261.9h0.8v0.8h-0.8zM382.7 258.3h0.8v0.8h-0.8zM362.2 261.9h0.8v0.8h-0.8zM394.6 253.5h0.8v0.8h-0.8zM385.3 260.8h0.8v0.8h-0.8zM402.8 288h0.8v0.8h-0.8zM400.7 295h0.8v0.8h-0.8zM362.5 296.6h0.8v0.8h-0.8zM356.4 287.9h0.8v0.8h-0.8zM381.3 293h0.8v0.8h-0.8zM389.4 295h0.8v0.8h-0.8zM404.6 291.2h0.8v0.8h-0.8zM380.1 289.6h0.8v0.8h-0.8zM372.1 288.2h0.8v0.8h-0.8zM391.8 292.1h0.8v0.8h-0.8zM386 296.6h0.8v0.8h-0.8zM379.8 291.4h0.8v0.8h-0.8zM395.8 287.8h0.8v0.8h-0.8zM391.8 288.6h0.8v0.8h-0.8z"/>
<path fill="#8aa0d8" d="M355.6 261.5h0.8v0.8h-0.8zM402.8 257.8h0.8v0.8h-0.8zM396.1 261.1h0.8v0.8h-0.8zM389.8 255.7h0.8v0.8h-0.8zM383.7 256.6h0.8v0.8h-0.8zM385.5 262h0.8v0.8h-0.8zM364.3 261.4h0.8v0.8h-0.8zM399.5 261.4h0.8v0.8h-0.8zM398 255.6h0.8v0.8h-0.8zM383.4 258.9h0.8v0.8h-0.8zM363 258.2h0.8v0.8h-0.8zM382 254.3h0.8v0.8h-0.8zM392.2 293.4h0.8v0.8h-0.8zM395.6 289.6h0.8v0.8h-0.8zM395.3 294.4h0.8v0.8h-0.8zM394.5 288.3h0.8v0.8h-0.8zM375 289h0.8v0.8h-0.8zM404.1 289h0.8v0.8h-0.8zM359.3 289.9h0.8v0.8h-0.8zM360.7 293.1h0.8v0.8h-0.8zM391.5 289.1h0.8v0.8h-0.8z"/>
<path fill="#a0b0e0" d="M367.7 259.2h0.8v0.8h-0.8zM396.7 261.1h0.8v0.8h-0.8zM395.8 254.4h0.8v0.8h-0.8zM387.4 258.9h0.8v0.8h-0.8zM362.1 261.7h0.8v0.8h-0.8zM377.4 261.1h0.8v0.8h-0.8zM382.6 259.1h0.8v0.8h-0.8zM398.7 288.2h0.8v0.8h-0.8zM389.6 293.8h0.8v0.8h-0.8zM404.1 292.5h0.8v0.8h-0.8zM365.3 287.9h0.8v0.8h-0.8zM365.6 298.5h0.8v0.8h-0.8zM365.6 289.3h0.8v0.8h-0.8zM386.6 290.4h0.8v0.8h-0.8zM366.2 289h0.8v0.8h-0.8zM387.5 291.1h0.8v0.8h-0.8zM359.1 295.6h0.8v0.8h-0.8zM397.1 288.1h0.8v0.8h-0.8z"/>
<rect x="430.6" y="256.9" width="14.6" height="25.6" fill="url(#g14)"/>
<path fill="#203c90" d="M439.7 256.9h0.9v0.9h-0.9zM442.4 259h0.9v0.9h-0.9zM434.1 256.1h0.9v0.9h-0.9zM442.3 280.6h0.9v0.9h-0.9z"/>
<path fill="#3a5ab8" d="M436.9 256.7h0.9v0.9h-0.9zM430.7 258.4h0.9v0.9h-0.9zM441.7 254.5h0.9v0.9h-0.9zM434.4 254h0.9v0.9h-0.9zM434.2 254.7h0.9v0.9h-0.9zM432 257.8h0.9v0.9h-0.9zM442.4 256.2h0.9v0.9h-0.9zM440.9 255.5h0.9v0.9h-0.9zM437.3 280.3h0.9v0.9h-0.9zM434.4 283.7h0.9v0.9h-0.9zM432.2 284.3h0.9v0.9h-0.9zM435.5 283.5h0.9v0.9h-0.9zM432.3 283.5h0.9v0.9h-0.9z"/>
<path fill="#6080c8" d="M442 256.3h0.9v0.9h-0.9zM439.2 259.7h0.9v0.9h-0.9zM432.2 256.2h0.9v0.9h-0.9zM439.4 281h0.9v0.9h-0.9zM443.7 285h0.9v0.9h-0.9zM433.7 281.7h0.9v0.9h-0.9zM437 286.1h0.9v0.9h-0.9zM438.5 279.3h0.9v0.9h-0.9z"/>
<path fill="#2a4aa0" d="M436.8 257.5h0.9v0.9h-0.9zM434.1 285.1h0.9v0.9h-0.9zM432.7 279.8h0.9v0.9h-0.9z"/>
<path fill="#5070c0" d="M442.1 256.8h0.9v0.9h-0.9zM431.6 257.5h0.9v0.9h-0.9zM444.3 278.1h0.9v0.9h-0.9zM437.1 283.8h0.9v0.9h-0.9z"/>
<path fill="#2c7ab0" d="M439.4 255.8h0.9v0.9h-0.9zM442.1 282.3h0.9v0.9h-0.9zM435.7 280.3h0.9v0.9h-0.9zM441.3 277.4h0.9v0.9h-0.9z"/>
<path fill="#22408f" d="M437.3 258.9h1v1h-1zM431.8 257.5h1v1h-1zM438.2 259.9h1v1h-1zM439.3 281.4h1v1h-1zM434.1 281.2h1v1h-1zM434.1 281.3h1v1h-1zM434 280.4h1v1h-1z"/>
<path fill="#1e3a8a" d="M432.6 258h1v1h-1zM443 259h1v1h-1zM434.5 281.5h1v1h-1zM432.4 281.2h1v1h-1zM434.5 281.5h1v1h-1z"/>
<path fill="#183070" d="M437 257.9h1v1h-1zM431.5 258.4h1v1h-1zM436.3 259.2h1v1h-1zM436 281h1v1h-1z"/>
<path fill="#2a6a7a" d="M431.9 258.1h1v1h-1zM433.9 257.7h1v1h-1zM441.1 258.2h1v1h-1zM443.1 281.4h1v1h-1z"/>
<path fill="#284a9a" d="M443.6 258.2h1v1h-1zM432.5 281.5h1v1h-1z"/>
<path fill="#1f5a8a" d="M436 258h1v1h-1zM439.4 281h1v1h-1zM443.1 280.8h1v1h-1zM442.7 281.7h1v1h-1z"/>
<path fill="#3a5aa8" d="M443.8 259h1v1h-1zM443.6 281.5h1v1h-1z"/>
<path fill="#ffffff" opacity="0.7" d="M433.4 258.1h1v1h-1zM443 258.4h1v1h-1zM436.5 258.4h1v1h-1zM431.6 257.9h1v1h-1zM441.3 257.6h1v1h-1zM434.7 258h1v1h-1zM443.8 258.3h1v1h-1zM435 281.6h1v1h-1zM435.8 281.5h1v1h-1zM443.6 281.3h1v1h-1zM436.1 281.6h1v1h-1zM431.5 281.4h1v1h-1zM431.7 281.2h1v1h-1zM440.7 281.7h1v1h-1z"/>
<path fill="#b8c4e8" d="M440.3 254.6h0.8v0.8h-0.8zM437.9 256.7h0.8v0.8h-0.8zM437.9 256.5h0.8v0.8h-0.8zM432.7 256.7h0.8v0.8h-0.8zM436.1 255.4h0.8v0.8h-0.8zM443.9 283.5h0.8v0.8h-0.8z"/>
<path fill="#8aa0d8" d="M440.1 252.4h0.8v0.8h-0.8zM439.1 251.4h0.8v0.8h-0.8zM437.4 253.6h0.8v0.8h-0.8zM432.4 252h0.8v0.8h-0.8zM432 282.4h0.8v0.8h-0.8zM438 289.7h0.8v0.8h-0.8zM437.1 282.2h0.8v0.8h-0.8zM442 290.4h0.8v0.8h-0.8zM438.8 282.9h0.8v0.8h-0.8zM439.2 282.4h0.8v0.8h-0.8z"/>
<path fill="#a0b0e0" d="M439.6 256h0.8v0.8h-0.8zM431.6 255.5h0.8v0.8h-0.8zM432.6 248.1h0.8v0.8h-0.8zM431.9 284.6h0.8v0.8h-0.8zM443.7 283.7h0.8v0.8h-0.8zM438.8 284.3h0.8v0.8h-0.8zM430.7 284.1h0.8v0.8h-0.8zM431.7 282.5h0.8v0.8h-0.8z"/>
<path fill="#7088c8" d="M436.6 252.5h0.8v0.8h-0.8zM443.9 255.8h0.8v0.8h-0.8zM441.2 285.9h0.8v0.8h-0.8zM432.2 283.1h0.8v0.8h-0.8z"/>
<rect x="462" y="259.6" width="50" height="26.9" fill="url(#g15)"/>
<path fill="#2a4aa0" d="M474.9 259.7h0.9v0.9h-0.9zM506 257.3h0.9v0.9h-0.9zM492.1 260.4h0.9v0.9h-0.9zM506.7 264.5h0.9v0.9h-0.9zM466.6 257.9h0.9v0.9h-0.9zM474.2 262.9h0.9v0.9h-0.9zM473.3 262.2h0.9v0.9h-0.9zM479.3 258.9h0.9v0.9h-0.9zM484.8 262.4h0.9v0.9h-0.9zM486.6 262.5h0.9v0.9h-0.9zM491.6 260.6h0.9v0.9h-0.9zM471 258.3h0.9v0.9h-0.9zM503.5 260.5h0.9v0.9h-0.9zM503.7 260.4h0.9v0.9h-0.9zM488.7 262.5h0.9v0.9h-0.9zM484.4 284.1h0.9v0.9h-0.9zM491.5 285.7h0.9v0.9h-0.9zM463.6 288.5h0.9v0.9h-0.9zM495.9 286.7h0.9v0.9h-0.9zM500.3 283.1h0.9v0.9h-0.9zM486.2 286.8h0.9v0.9h-0.9zM507.7 287.7h0.9v0.9h-0.9zM487.4 287.1h0.9v0.9h-0.9zM498.5 287.6h0.9v0.9h-0.9zM499.5 281.3h0.9v0.9h-0.9zM465.4 286.6h0.9v0.9h-0.9zM469.5 282.1h0.9v0.9h-0.9zM510.4 282.4h0.9v0.9h-0.9zM462.3 287.5h0.9v0.9h-0.9z"/>
<path fill="#5070c0" d="M466.6 264.5h0.9v0.9h-0.9zM494.1 261h0.9v0.9h-0.9zM473.8 259.5h0.9v0.9h-0.9zM506.3 261.1h0.9v0.9h-0.9zM476.7 258.8h0.9v0.9h-0.9zM469.9 258.9h0.9v0.9h-0.9zM466.2 262.8h0.9v0.9h-0.9zM491.9 257.8h0.9v0.9h-0.9zM486.2 257h0.9v0.9h-0.9zM477.1 258.8h0.9v0.9h-0.9zM508.6 290.8h0.9v0.9h-0.9zM507.5 286.1h0.9v0.9h-0.9zM488.7 287.1h0.9v0.9h-0.9zM484 282.1h0.9v0.9h-0.9zM472.5 283.8h0.9v0.9h-0.9zM499.6 285.7h0.9v0.9h-0.9zM471.5 286.8h0.9v0.9h-0.9z"/>
<path fill="#3a5ab8" d="M470.9 259h0.9v0.9h-0.9zM467 257.5h0.9v0.9h-0.9zM474.6 257.4h0.9v0.9h-0.9zM477.8 259.1h0.9v0.9h-0.9zM507.5 260.4h0.9v0.9h-0.9zM478.9 259.7h0.9v0.9h-0.9zM478.8 259.8h0.9v0.9h-0.9zM477.8 259.1h0.9v0.9h-0.9zM500.7 261.9h0.9v0.9h-0.9zM492.5 288.3h0.9v0.9h-0.9zM488 286.2h0.9v0.9h-0.9zM466.3 287.2h0.9v0.9h-0.9zM467.4 284.8h0.9v0.9h-0.9zM504.5 284.3h0.9v0.9h-0.9zM479.8 284.6h0.9v0.9h-0.9zM504.1 286.3h0.9v0.9h-0.9zM472.2 281.3h0.9v0.9h-0.9zM509.1 289.2h0.9v0.9h-0.9zM501.6 290h0.9v0.9h-0.9zM471.9 289.6h0.9v0.9h-0.9zM486.8 287.5h0.9v0.9h-0.9zM503.4 283.4h0.9v0.9h-0.9z"/>
<path fill="#203c90" d="M497.9 260.6h0.9v0.9h-0.9zM489.8 261.4h0.9v0.9h-0.9zM484.8 258.4h0.9v0.9h-0.9zM480.9 259.9h0.9v0.9h-0.9zM486 260.7h0.9v0.9h-0.9zM509.3 261.8h0.9v0.9h-0.9zM470.9 259.5h0.9v0.9h-0.9zM475.5 261.6h0.9v0.9h-0.9zM501.4 286.2h0.9v0.9h-0.9zM502.7 285.6h0.9v0.9h-0.9zM473 286h0.9v0.9h-0.9zM477 285h0.9v0.9h-0.9zM470.9 286.5h0.9v0.9h-0.9zM475.9 288.2h0.9v0.9h-0.9z"/>
<path fill="#6080c8" d="M488.8 256.6h0.9v0.9h-0.9zM510.5 259.2h0.9v0.9h-0.9zM503.3 259h0.9v0.9h-0.9zM485.2 260h0.9v0.9h-0.9zM474.8 259.7h0.9v0.9h-0.9zM467.7 261.4h0.9v0.9h-0.9zM474.6 263.2h0.9v0.9h-0.9zM489.2 262.3h0.9v0.9h-0.9zM466.3 263.5h0.9v0.9h-0.9zM467 260.8h0.9v0.9h-0.9zM465.1 259.1h0.9v0.9h-0.9zM465.7 261.3h0.9v0.9h-0.9zM474.5 259.6h0.9v0.9h-0.9zM496.9 287.6h0.9v0.9h-0.9zM476.5 285.1h0.9v0.9h-0.9zM502.5 284h0.9v0.9h-0.9zM488.1 288.5h0.9v0.9h-0.9zM507.7 285.4h0.9v0.9h-0.9zM508.6 285.5h0.9v0.9h-0.9zM491.4 286.8h0.9v0.9h-0.9zM498.6 283.7h0.9v0.9h-0.9zM479 285.8h0.9v0.9h-0.9z"/>
<path fill="#2c7ab0" d="M491.4 261.2h0.9v0.9h-0.9zM463.3 261.4h0.9v0.9h-0.9zM471.5 259.2h0.9v0.9h-0.9zM496.9 261.2h0.9v0.9h-0.9zM485.8 259.8h0.9v0.9h-0.9zM472.8 288.7h0.9v0.9h-0.9zM480.4 284.9h0.9v0.9h-0.9zM480.3 283.9h0.9v0.9h-0.9zM483.4 281.7h0.9v0.9h-0.9zM494.7 287.7h0.9v0.9h-0.9zM489.4 286.5h0.9v0.9h-0.9zM487.5 285.1h0.9v0.9h-0.9zM471.1 283.3h0.9v0.9h-0.9zM488 284.4h0.9v0.9h-0.9zM477.4 286.6h0.9v0.9h-0.9zM486.3 287.5h0.9v0.9h-0.9z"/>
<path fill="#1e3a8a" d="M480.6 261h1v1h-1zM479.2 260.4h1v1h-1zM500.2 260.3h1v1h-1zM506 260.1h1v1h-1zM466 285.8h1v1h-1zM485.4 285h1v1h-1zM478.9 284.3h1v1h-1zM467.4 284.3h1v1h-1zM464 285.3h1v1h-1z"/>
<path fill="#3a5aa8" d="M475.1 260.6h1v1h-1zM504.6 261.2h1v1h-1zM476.3 262.4h1v1h-1zM469.8 260.9h1v1h-1zM494 260.3h1v1h-1zM499.1 262.8h1v1h-1zM508.8 260.4h1v1h-1zM507.6 262.9h1v1h-1zM472.4 261h1v1h-1zM469.7 262.1h1v1h-1zM470.7 260.4h1v1h-1zM466.3 283.3h1v1h-1zM502 285.5h1v1h-1zM467.4 285.4h1v1h-1zM506.2 285.4h1v1h-1zM463.6 284.6h1v1h-1zM465.8 285.2h1v1h-1zM477.6 285.6h1v1h-1z"/>
<path fill="#22408f" d="M493.2 261.3h1v1h-1zM473.9 260.4h1v1h-1zM474.7 261.2h1v1h-1zM486.1 260.6h1v1h-1zM504.4 261h1v1h-1zM498.4 261.7h1v1h-1zM487.8 284.9h1v1h-1zM510.8 284.9h1v1h-1zM474.7 285.9h1v1h-1zM492.5 283.4h1v1h-1zM503 285.1h1v1h-1zM507 284.3h1v1h-1zM484.3 285.1h1v1h-1zM474.2 283.6h1v1h-1zM490.5 285.6h1v1h-1z"/>
<path fill="#1f5a8a" d="M477.7 263.6h1v1h-1zM472.2 260.5h1v1h-1zM496.8 262.2h1v1h-1zM495.6 260.7h1v1h-1zM508.6 260.2h1v1h-1zM469.9 285.7h1v1h-1zM463.5 285.9h1v1h-1zM493.3 284.6h1v1h-1zM476.5 284h1v1h-1z"/>
<path fill="#183070" d="M485.6 260.9h1v1h-1zM468.3 262.4h1v1h-1zM491.6 261.1h1v1h-1zM465.5 261.1h1v1h-1zM474 261.6h1v1h-1zM471.6 261.8h1v1h-1zM508.4 262.7h1v1h-1zM471.2 261.5h1v1h-1zM476 284.9h1v1h-1zM462.8 285.9h1v1h-1zM505.8 285.3h1v1h-1zM489.1 282.6h1v1h-1zM503 285.1h1v1h-1zM476.9 284.3h1v1h-1zM498 285.4h1v1h-1zM498.9 285.6h1v1h-1z"/>
<path fill="#284a9a" d="M468.3 260.7h1v1h-1zM474.6 260.5h1v1h-1zM465.4 261h1v1h-1zM506.2 261h1v1h-1zM475.6 260.4h1v1h-1zM486.6 262.7h1v1h-1zM477.2 260.2h1v1h-1zM487.8 262.5h1v1h-1zM472.6 283.9h1v1h-1zM492.1 284h1v1h-1zM465.3 285h1v1h-1zM497.4 285.7h1v1h-1zM509.4 283.5h1v1h-1zM487.4 285.2h1v1h-1zM472.6 285.9h1v1h-1zM486.3 284.7h1v1h-1zM472.1 285.6h1v1h-1z"/>
<path fill="#2a6a7a" d="M472.9 262h1v1h-1zM465.8 261h1v1h-1zM501.3 261.1h1v1h-1zM476.2 260.9h1v1h-1zM472.2 260.3h1v1h-1zM500.7 261.4h1v1h-1zM508.1 282.6h1v1h-1zM486.9 285.1h1v1h-1zM509.4 285.8h1v1h-1zM495.7 284.4h1v1h-1zM468.3 284.9h1v1h-1zM507.6 286h1v1h-1z"/>
<path fill="#ffffff" opacity="0.7" d="M476.2 260.7h1v1h-1zM465 260.4h1v1h-1zM478.1 262.1h1v1h-1zM479.6 261.3h1v1h-1zM481 261h1v1h-1zM492.9 260.6h1v1h-1zM483.6 261.7h1v1h-1zM475.6 260.9h1v1h-1zM487.7 260.2h1v1h-1zM469.2 260.5h1v1h-1zM486.8 260.7h1v1h-1zM464.9 260.6h1v1h-1zM507.8 261.5h1v1h-1zM464.2 261.7h1v1h-1zM493.8 260.8h1v1h-1zM482.7 260.9h1v1h-1zM499 260.6h1v1h-1zM481.7 260.7h1v1h-1zM487.5 260.2h1v1h-1zM471.3 262.3h1v1h-1zM468.5 260.5h1v1h-1zM497.3 260.2h1v1h-1zM463.9 260.1h1v1h-1zM507.4 260.5h1v1h-1zM504.3 285.6h1v1h-1zM501.4 285.8h1v1h-1zM466.5 285.5h1v1h-1zM506.9 284.8h1v1h-1zM467.7 285.2h1v1h-1zM494.7 285.8h1v1h-1zM478.8 284.4h1v1h-1zM498.4 284.9h1v1h-1zM490.2 285.2h1v1h-1zM464.6 285.4h1v1h-1zM491.5 285.9h1v1h-1zM476.3 284.5h1v1h-1zM503.8 285.7h1v1h-1zM509.6 284.7h1v1h-1zM467.9 285.4h1v1h-1zM495.7 284.7h1v1h-1zM509.1 285.8h1v1h-1zM503.9 285.9h1v1h-1zM497.5 285h1v1h-1zM479.5 285.7h1v1h-1zM505.1 285.9h1v1h-1zM490.1 285h1v1h-1zM468.4 285.9h1v1h-1zM501.8 286h1v1h-1z"/>
<path fill="#8aa0d8" d="M476.7 256.2h0.8v0.8h-0.8zM497.3 257.2h0.8v0.8h-0.8zM466.1 255.4h0.8v0.8h-0.8zM485.4 257.9h0.8v0.8h-0.8zM466.3 259.1h0.8v0.8h-0.8zM502.6 259.3h0.8v0.8h-0.8zM480.5 256.9h0.8v0.8h-0.8zM477.7 252.6h0.8v0.8h-0.8zM482.6 259.2h0.8v0.8h-0.8zM481 257.6h0.8v0.8h-0.8zM499.9 255.6h0.8v0.8h-0.8zM488.5 253.8h0.8v0.8h-0.8zM487.6 259.6h0.8v0.8h-0.8zM482.1 257.7h0.8v0.8h-0.8zM486.5 287.9h0.8v0.8h-0.8zM468 292.9h0.8v0.8h-0.8zM466 289.3h0.8v0.8h-0.8zM467.9 287.7h0.8v0.8h-0.8zM472.3 290.5h0.8v0.8h-0.8zM484.6 293.4h0.8v0.8h-0.8zM487.3 286.4h0.8v0.8h-0.8zM487.6 294.9h0.8v0.8h-0.8zM477.6 290.1h0.8v0.8h-0.8zM496.2 293.6h0.8v0.8h-0.8zM488.9 296h0.8v0.8h-0.8zM492.4 291.1h0.8v0.8h-0.8z"/>
<path fill="#b8c4e8" d="M475.8 258.4h0.8v0.8h-0.8zM482.2 259.1h0.8v0.8h-0.8zM476.5 255.9h0.8v0.8h-0.8zM495.2 254.1h0.8v0.8h-0.8zM509.3 257.7h0.8v0.8h-0.8zM504.9 255.1h0.8v0.8h-0.8zM489.2 259.2h0.8v0.8h-0.8zM463.6 253.5h0.8v0.8h-0.8zM479.6 256.4h0.8v0.8h-0.8zM472.9 257.8h0.8v0.8h-0.8zM472.5 250.6h0.8v0.8h-0.8zM466.1 253.9h0.8v0.8h-0.8zM491.5 288.8h0.8v0.8h-0.8zM491.3 291.2h0.8v0.8h-0.8zM503.4 288.4h0.8v0.8h-0.8zM490.7 287.9h0.8v0.8h-0.8zM493.7 290.4h0.8v0.8h-0.8zM473.4 291.7h0.8v0.8h-0.8zM469.8 294.4h0.8v0.8h-0.8zM501.5 287.2h0.8v0.8h-0.8zM494.7 287.5h0.8v0.8h-0.8z"/>
<path fill="#7088c8" d="M490.7 256.2h0.8v0.8h-0.8zM469.2 258.9h0.8v0.8h-0.8zM501.3 257.4h0.8v0.8h-0.8zM498.3 257.2h0.8v0.8h-0.8zM504.4 256.8h0.8v0.8h-0.8zM465.2 257.4h0.8v0.8h-0.8zM471.4 259.2h0.8v0.8h-0.8zM494.8 256.8h0.8v0.8h-0.8zM504.7 260h0.8v0.8h-0.8zM468.2 286.3h0.8v0.8h-0.8zM462.8 289.5h0.8v0.8h-0.8zM510.7 290.8h0.8v0.8h-0.8zM489.7 286.7h0.8v0.8h-0.8zM491 294.1h0.8v0.8h-0.8zM495.4 288.7h0.8v0.8h-0.8zM486.1 290.7h0.8v0.8h-0.8zM480.2 302.3h0.8v0.8h-0.8zM483.5 288.4h0.8v0.8h-0.8zM484.8 287.4h0.8v0.8h-0.8zM470.6 296.2h0.8v0.8h-0.8zM478.1 295.1h0.8v0.8h-0.8z"/>
<path fill="#a0b0e0" d="M473.5 257.3h0.8v0.8h-0.8zM463 256.8h0.8v0.8h-0.8zM508.4 259.5h0.8v0.8h-0.8zM468.8 255.6h0.8v0.8h-0.8zM472.3 258.9h0.8v0.8h-0.8zM507.9 258.3h0.8v0.8h-0.8zM473.4 259.9h0.8v0.8h-0.8zM476 250.5h0.8v0.8h-0.8zM489.1 253.2h0.8v0.8h-0.8zM481.1 253h0.8v0.8h-0.8zM475.9 290.8h0.8v0.8h-0.8zM493.3 287.1h0.8v0.8h-0.8zM507.3 295h0.8v0.8h-0.8zM509.4 297.2h0.8v0.8h-0.8zM465 295.7h0.8v0.8h-0.8zM475.6 286.4h0.8v0.8h-0.8zM484.5 291.5h0.8v0.8h-0.8zM476.1 288.6h0.8v0.8h-0.8zM468.9 290h0.8v0.8h-0.8zM468.5 288.9h0.8v0.8h-0.8zM506.2 287.4h0.8v0.8h-0.8zM466 290.6h0.8v0.8h-0.8z"/>
<text x="344.90" y="60.00" font-size="5.9" text-anchor="middle" fill="#111" stroke="#111" stroke-width="0.1">Ionomycin</text>
<line x1="344.40" y1="64.20" x2="344.40" y2="76.30" stroke="#0a0a0a" stroke-width="1.1"/>
<path d="M341.60,75.80 L347.20,75.80 L344.40,82.00 Z" fill="#0a0a0a"/>
<text x="344.90" y="165.30" font-size="5.9" text-anchor="middle" fill="#111" stroke="#111" stroke-width="0.1">Ionomycin</text>
<line x1="344.40" y1="169.80" x2="344.40" y2="181.70" stroke="#0a0a0a" stroke-width="1.1"/>
<path d="M341.60,181.20 L347.20,181.20 L344.40,187.40 Z" fill="#0a0a0a"/>
<line x1="344.40" y1="287.10" x2="344.40" y2="300.50" stroke="#0a0a0a" stroke-width="1.1"/>
<path d="M341.60,287.60 L347.20,287.60 L344.40,281.40 Z" fill="#0a0a0a"/>
<text x="344.90" y="308.60" font-size="5.9" text-anchor="middle" fill="#111" stroke="#111" stroke-width="0.1">Ionomycin</text>
<text x="451.50" y="61.60" font-size="5.9" text-anchor="middle" fill="#111" stroke="#111" stroke-width="0.1">Ionomycin</text>
<line x1="451.40" y1="65.80" x2="451.40" y2="77.90" stroke="#0a0a0a" stroke-width="1.1"/>
<path d="M448.60,77.40 L454.20,77.40 L451.40,83.60 Z" fill="#0a0a0a"/>
<text x="451.50" y="166.30" font-size="5.9" text-anchor="middle" fill="#111" stroke="#111" stroke-width="0.1">Ionomycin</text>
<line x1="451.40" y1="170.80" x2="451.40" y2="182.70" stroke="#0a0a0a" stroke-width="1.1"/>
<path d="M448.60,182.20 L454.20,182.20 L451.40,188.40 Z" fill="#0a0a0a"/>
<line x1="451.40" y1="287.10" x2="451.40" y2="300.50" stroke="#0a0a0a" stroke-width="1.1"/>
<path d="M448.60,287.60 L454.20,287.60 L451.40,281.40 Z" fill="#0a0a0a"/>
<text x="451.50" y="308.60" font-size="5.9" text-anchor="middle" fill="#111" stroke="#111" stroke-width="0.1">Ionomycin</text>
<text x="0.00" y="0.00" font-size="7.4" text-anchor="middle" fill="#111" stroke="#111" stroke-width="0.1" transform="translate(287.00,90.00) rotate(-90)">Fura red ratio</text>
<text x="0.00" y="0.00" font-size="7.45" text-anchor="middle" fill="#111" stroke="#111" stroke-width="0.1" transform="translate(297.60,90.50) rotate(-90)">(405 nm/488 nm)</text>
<text x="0.00" y="0.00" font-size="7.4" text-anchor="middle" fill="#111" stroke="#111" stroke-width="0.1" transform="translate(287.00,186.30) rotate(-90)">Fura red emission</text>
<text x="0.00" y="0.00" font-size="7.45" text-anchor="middle" fill="#111" stroke="#111" stroke-width="0.1" transform="translate(297.60,186.60) rotate(-90)">(excitation by 405 nm)</text>
<text x="0.00" y="0.00" font-size="7.4" text-anchor="middle" fill="#111" stroke="#111" stroke-width="0.1" transform="translate(287.00,283.30) rotate(-90)">Fura red emission</text>
<text x="0.00" y="0.00" font-size="7.45" text-anchor="middle" fill="#111" stroke="#111" stroke-width="0.1" transform="translate(297.60,283.60) rotate(-90)">(excitation by 488 nm)</text>
<text x="324.60" y="342.80" font-size="7.2" text-anchor="start" fill="#111" stroke="#111" stroke-width="0.1">Time (sec)</text>
<line x1="363.00" y1="341.50" x2="501.50" y2="341.50" stroke="#0a0a0a" stroke-width="1.2"/>
<path d="M501.00,339.10 L501.00,343.90 L507.00,341.50 Z" fill="#0a0a0a"/>
<text x="0.00" y="0.00" font-size="12.4" text-anchor="start" font-weight="bold" fill="#111" stroke="#111" stroke-width="0.1" transform="translate(10.50,498.70) scale(0.92,1)">D</text>
<text x="22.90" y="512.90" font-size="9.8" text-anchor="start" font-weight="bold" fill="#111" stroke="#111" stroke-width="0.1">i</text>
<text x="239.60" y="512.90" font-size="9.8" text-anchor="start" font-weight="bold" fill="#111" stroke="#111" stroke-width="0.1">ii</text>
<line x1="58.60" y1="524.50" x2="58.60" y2="676.70" stroke="#0a0a0a" stroke-width="1.4"/>
<line x1="57.90" y1="676.00" x2="221.80" y2="676.00" stroke="#0a0a0a" stroke-width="1.4"/>
<line x1="55.40" y1="676.03" x2="58.60" y2="676.03" stroke="#0a0a0a" stroke-width="1.2"/>
<text x="51.60" y="679.13" font-size="8.4" text-anchor="end" fill="#111" stroke="#111" stroke-width="0.1">90</text>
<line x1="55.40" y1="646.40" x2="58.60" y2="646.40" stroke="#0a0a0a" stroke-width="1.2"/>
<text x="51.60" y="649.50" font-size="8.4" text-anchor="end" fill="#111" stroke="#111" stroke-width="0.1">100</text>
<line x1="55.40" y1="616.77" x2="58.60" y2="616.77" stroke="#0a0a0a" stroke-width="1.2"/>
<text x="51.60" y="619.87" font-size="8.4" text-anchor="end" fill="#111" stroke="#111" stroke-width="0.1">110</text>
<line x1="55.40" y1="587.14" x2="58.60" y2="587.14" stroke="#0a0a0a" stroke-width="1.2"/>
<text x="51.60" y="590.24" font-size="8.4" text-anchor="end" fill="#111" stroke="#111" stroke-width="0.1">120</text>
<line x1="55.40" y1="557.51" x2="58.60" y2="557.51" stroke="#0a0a0a" stroke-width="1.2"/>
<text x="51.60" y="560.61" font-size="8.4" text-anchor="end" fill="#111" stroke="#111" stroke-width="0.1">130</text>
<line x1="55.40" y1="527.88" x2="58.60" y2="527.88" stroke="#0a0a0a" stroke-width="1.2"/>
<text x="51.60" y="530.98" font-size="8.4" text-anchor="end" fill="#111" stroke="#111" stroke-width="0.1">140</text>
<line x1="61.60" y1="676.00" x2="61.60" y2="679.40" stroke="#0a0a0a" stroke-width="1.1"/>
<text x="0.00" y="0.00" font-size="8.4" text-anchor="end" fill="#111" stroke="#111" stroke-width="0.1" transform="translate(66.90,686.30) rotate(-45)">0</text>
<line x1="97.35" y1="676.00" x2="97.35" y2="679.40" stroke="#0a0a0a" stroke-width="1.1"/>
<text x="0.00" y="0.00" font-size="8.4" text-anchor="end" fill="#111" stroke="#111" stroke-width="0.1" transform="translate(102.65,686.30) rotate(-45)">35</text>
<line x1="111.65" y1="676.00" x2="111.65" y2="679.40" stroke="#0a0a0a" stroke-width="1.1"/>
<text x="0.00" y="0.00" font-size="8.4" text-anchor="end" fill="#111" stroke="#111" stroke-width="0.1" transform="translate(116.95,686.30) rotate(-45)">49</text>
<line x1="125.95" y1="676.00" x2="125.95" y2="679.40" stroke="#0a0a0a" stroke-width="1.1"/>
<text x="0.00" y="0.00" font-size="8.4" text-anchor="end" fill="#111" stroke="#111" stroke-width="0.1" transform="translate(131.25,686.30) rotate(-45)">63</text>
<line x1="140.25" y1="676.00" x2="140.25" y2="679.40" stroke="#0a0a0a" stroke-width="1.1"/>
<text x="0.00" y="0.00" font-size="8.4" text-anchor="end" fill="#111" stroke="#111" stroke-width="0.1" transform="translate(145.55,686.30) rotate(-45)">77</text>
<line x1="154.55" y1="676.00" x2="154.55" y2="679.40" stroke="#0a0a0a" stroke-width="1.1"/>
<text x="0.00" y="0.00" font-size="8.4" text-anchor="end" fill="#111" stroke="#111" stroke-width="0.1" transform="translate(159.85,686.30) rotate(-45)">91</text>
<line x1="168.85" y1="676.00" x2="168.85" y2="679.40" stroke="#0a0a0a" stroke-width="1.1"/>
<text x="0.00" y="0.00" font-size="8.4" text-anchor="end" fill="#111" stroke="#111" stroke-width="0.1" transform="translate(174.15,686.30) rotate(-45)">105</text>
<line x1="183.15" y1="676.00" x2="183.15" y2="679.40" stroke="#0a0a0a" stroke-width="1.1"/>
<text x="0.00" y="0.00" font-size="8.4" text-anchor="end" fill="#111" stroke="#111" stroke-width="0.1" transform="translate(188.45,686.30) rotate(-45)">119</text>
<line x1="197.45" y1="676.00" x2="197.45" y2="679.40" stroke="#0a0a0a" stroke-width="1.1"/>
<text x="0.00" y="0.00" font-size="8.4" text-anchor="end" fill="#111" stroke="#111" stroke-width="0.1" transform="translate(202.75,686.30) rotate(-45)">133</text>
<line x1="211.75" y1="676.00" x2="211.75" y2="679.40" stroke="#0a0a0a" stroke-width="1.1"/>
<text x="0.00" y="0.00" font-size="8.4" text-anchor="end" fill="#111" stroke="#111" stroke-width="0.1" transform="translate(217.05,686.30) rotate(-45)">147</text>
<line x1="61.60" y1="626.20" x2="61.60" y2="631.40" stroke="#0a0a0a" stroke-width="1.2"/>
<line x1="59.50" y1="626.20" x2="63.70" y2="626.20" stroke="#0a0a0a" stroke-width="1.4"/>
<line x1="59.50" y1="631.40" x2="63.70" y2="631.40" stroke="#0a0a0a" stroke-width="1.4"/>
<line x1="97.35" y1="585.20" x2="97.35" y2="599.20" stroke="#0a0a0a" stroke-width="1.2"/>
<line x1="95.25" y1="585.20" x2="99.45" y2="585.20" stroke="#0a0a0a" stroke-width="1.4"/>
<line x1="95.25" y1="599.20" x2="99.45" y2="599.20" stroke="#0a0a0a" stroke-width="1.4"/>
<line x1="104.50" y1="585.50" x2="104.50" y2="599.50" stroke="#0a0a0a" stroke-width="1.2"/>
<line x1="102.40" y1="585.50" x2="106.60" y2="585.50" stroke="#0a0a0a" stroke-width="1.4"/>
<line x1="102.40" y1="599.50" x2="106.60" y2="599.50" stroke="#0a0a0a" stroke-width="1.4"/>
<line x1="111.65" y1="586.75" x2="111.65" y2="600.75" stroke="#0a0a0a" stroke-width="1.2"/>
<line x1="109.55" y1="586.75" x2="113.75" y2="586.75" stroke="#0a0a0a" stroke-width="1.4"/>
<line x1="109.55" y1="600.75" x2="113.75" y2="600.75" stroke="#0a0a0a" stroke-width="1.4"/>
<line x1="118.80" y1="587.25" x2="118.80" y2="601.25" stroke="#0a0a0a" stroke-width="1.2"/>
<line x1="116.70" y1="587.25" x2="120.90" y2="587.25" stroke="#0a0a0a" stroke-width="1.4"/>
<line x1="116.70" y1="601.25" x2="120.90" y2="601.25" stroke="#0a0a0a" stroke-width="1.4"/>
<line x1="125.95" y1="587.25" x2="125.95" y2="601.25" stroke="#0a0a0a" stroke-width="1.2"/>
<line x1="123.85" y1="587.25" x2="128.05" y2="587.25" stroke="#0a0a0a" stroke-width="1.4"/>
<line x1="123.85" y1="601.25" x2="128.05" y2="601.25" stroke="#0a0a0a" stroke-width="1.4"/>
<line x1="133.10" y1="588.00" x2="133.10" y2="602.00" stroke="#0a0a0a" stroke-width="1.2"/>
<line x1="131.00" y1="588.00" x2="135.20" y2="588.00" stroke="#0a0a0a" stroke-width="1.4"/>
<line x1="131.00" y1="602.00" x2="135.20" y2="602.00" stroke="#0a0a0a" stroke-width="1.4"/>
<line x1="140.25" y1="589.25" x2="140.25" y2="603.25" stroke="#0a0a0a" stroke-width="1.2"/>
<line x1="138.15" y1="589.25" x2="142.35" y2="589.25" stroke="#0a0a0a" stroke-width="1.4"/>
<line x1="138.15" y1="603.25" x2="142.35" y2="603.25" stroke="#0a0a0a" stroke-width="1.4"/>
<line x1="147.40" y1="589.25" x2="147.40" y2="603.25" stroke="#0a0a0a" stroke-width="1.2"/>
<line x1="145.30" y1="589.25" x2="149.50" y2="589.25" stroke="#0a0a0a" stroke-width="1.4"/>
<line x1="145.30" y1="603.25" x2="149.50" y2="603.25" stroke="#0a0a0a" stroke-width="1.4"/>
<line x1="154.55" y1="589.75" x2="154.55" y2="603.75" stroke="#0a0a0a" stroke-width="1.2"/>
<line x1="152.45" y1="589.75" x2="156.65" y2="589.75" stroke="#0a0a0a" stroke-width="1.4"/>
<line x1="152.45" y1="603.75" x2="156.65" y2="603.75" stroke="#0a0a0a" stroke-width="1.4"/>
<line x1="161.70" y1="590.00" x2="161.70" y2="604.00" stroke="#0a0a0a" stroke-width="1.2"/>
<line x1="159.60" y1="590.00" x2="163.80" y2="590.00" stroke="#0a0a0a" stroke-width="1.4"/>
<line x1="159.60" y1="604.00" x2="163.80" y2="604.00" stroke="#0a0a0a" stroke-width="1.4"/>
<line x1="168.85" y1="591.75" x2="168.85" y2="605.75" stroke="#0a0a0a" stroke-width="1.2"/>
<line x1="166.75" y1="591.75" x2="170.95" y2="591.75" stroke="#0a0a0a" stroke-width="1.4"/>
<line x1="166.75" y1="605.75" x2="170.95" y2="605.75" stroke="#0a0a0a" stroke-width="1.4"/>
<line x1="176.00" y1="590.50" x2="176.00" y2="604.50" stroke="#0a0a0a" stroke-width="1.2"/>
<line x1="173.90" y1="590.50" x2="178.10" y2="590.50" stroke="#0a0a0a" stroke-width="1.4"/>
<line x1="173.90" y1="604.50" x2="178.10" y2="604.50" stroke="#0a0a0a" stroke-width="1.4"/>
<line x1="183.15" y1="590.80" x2="183.15" y2="604.80" stroke="#0a0a0a" stroke-width="1.2"/>
<line x1="181.05" y1="590.80" x2="185.25" y2="590.80" stroke="#0a0a0a" stroke-width="1.4"/>
<line x1="181.05" y1="604.80" x2="185.25" y2="604.80" stroke="#0a0a0a" stroke-width="1.4"/>
<line x1="190.30" y1="592.50" x2="190.30" y2="606.50" stroke="#0a0a0a" stroke-width="1.2"/>
<line x1="188.20" y1="592.50" x2="192.40" y2="592.50" stroke="#0a0a0a" stroke-width="1.4"/>
<line x1="188.20" y1="606.50" x2="192.40" y2="606.50" stroke="#0a0a0a" stroke-width="1.4"/>
<line x1="197.45" y1="593.30" x2="197.45" y2="607.30" stroke="#0a0a0a" stroke-width="1.2"/>
<line x1="195.35" y1="593.30" x2="199.55" y2="593.30" stroke="#0a0a0a" stroke-width="1.4"/>
<line x1="195.35" y1="607.30" x2="199.55" y2="607.30" stroke="#0a0a0a" stroke-width="1.4"/>
<line x1="204.60" y1="593.30" x2="204.60" y2="607.30" stroke="#0a0a0a" stroke-width="1.2"/>
<line x1="202.50" y1="593.30" x2="206.70" y2="593.30" stroke="#0a0a0a" stroke-width="1.4"/>
<line x1="202.50" y1="607.30" x2="206.70" y2="607.30" stroke="#0a0a0a" stroke-width="1.4"/>
<line x1="211.75" y1="593.80" x2="211.75" y2="607.80" stroke="#0a0a0a" stroke-width="1.2"/>
<line x1="209.65" y1="593.80" x2="213.85" y2="593.80" stroke="#0a0a0a" stroke-width="1.4"/>
<line x1="209.65" y1="607.80" x2="213.85" y2="607.80" stroke="#0a0a0a" stroke-width="1.4"/>
<line x1="97.35" y1="599.30" x2="97.35" y2="621.30" stroke="#0a0a0a" stroke-width="1.2"/>
<line x1="95.25" y1="599.30" x2="99.45" y2="599.30" stroke="#0a0a0a" stroke-width="1.4"/>
<line x1="95.25" y1="621.30" x2="99.45" y2="621.30" stroke="#0a0a0a" stroke-width="1.4"/>
<line x1="104.50" y1="599.00" x2="104.50" y2="621.00" stroke="#0a0a0a" stroke-width="1.2"/>
<line x1="102.40" y1="599.00" x2="106.60" y2="599.00" stroke="#0a0a0a" stroke-width="1.4"/>
<line x1="102.40" y1="621.00" x2="106.60" y2="621.00" stroke="#0a0a0a" stroke-width="1.4"/>
<line x1="111.65" y1="601.50" x2="111.65" y2="623.50" stroke="#0a0a0a" stroke-width="1.2"/>
<line x1="109.55" y1="601.50" x2="113.75" y2="601.50" stroke="#0a0a0a" stroke-width="1.4"/>
<line x1="109.55" y1="623.50" x2="113.75" y2="623.50" stroke="#0a0a0a" stroke-width="1.4"/>
<line x1="118.80" y1="602.75" x2="118.80" y2="624.75" stroke="#0a0a0a" stroke-width="1.2"/>
<line x1="116.70" y1="602.75" x2="120.90" y2="602.75" stroke="#0a0a0a" stroke-width="1.4"/>
<line x1="116.70" y1="624.75" x2="120.90" y2="624.75" stroke="#0a0a0a" stroke-width="1.4"/>
<line x1="125.95" y1="603.25" x2="125.95" y2="625.25" stroke="#0a0a0a" stroke-width="1.2"/>
<line x1="123.85" y1="603.25" x2="128.05" y2="603.25" stroke="#0a0a0a" stroke-width="1.4"/>
<line x1="123.85" y1="625.25" x2="128.05" y2="625.25" stroke="#0a0a0a" stroke-width="1.4"/>
<line x1="133.10" y1="604.50" x2="133.10" y2="626.50" stroke="#0a0a0a" stroke-width="1.2"/>
<line x1="131.00" y1="604.50" x2="135.20" y2="604.50" stroke="#0a0a0a" stroke-width="1.4"/>
<line x1="131.00" y1="626.50" x2="135.20" y2="626.50" stroke="#0a0a0a" stroke-width="1.4"/>
<line x1="140.25" y1="606.00" x2="140.25" y2="628.00" stroke="#0a0a0a" stroke-width="1.2"/>
<line x1="138.15" y1="606.00" x2="142.35" y2="606.00" stroke="#0a0a0a" stroke-width="1.4"/>
<line x1="138.15" y1="628.00" x2="142.35" y2="628.00" stroke="#0a0a0a" stroke-width="1.4"/>
<line x1="147.40" y1="607.00" x2="147.40" y2="629.00" stroke="#0a0a0a" stroke-width="1.2"/>
<line x1="145.30" y1="607.00" x2="149.50" y2="607.00" stroke="#0a0a0a" stroke-width="1.4"/>
<line x1="145.30" y1="629.00" x2="149.50" y2="629.00" stroke="#0a0a0a" stroke-width="1.4"/>
<line x1="154.55" y1="607.75" x2="154.55" y2="629.75" stroke="#0a0a0a" stroke-width="1.2"/>
<line x1="152.45" y1="607.75" x2="156.65" y2="607.75" stroke="#0a0a0a" stroke-width="1.4"/>
<line x1="152.45" y1="629.75" x2="156.65" y2="629.75" stroke="#0a0a0a" stroke-width="1.4"/>
<line x1="161.70" y1="609.00" x2="161.70" y2="631.00" stroke="#0a0a0a" stroke-width="1.2"/>
<line x1="159.60" y1="609.00" x2="163.80" y2="609.00" stroke="#0a0a0a" stroke-width="1.4"/>
<line x1="159.60" y1="631.00" x2="163.80" y2="631.00" stroke="#0a0a0a" stroke-width="1.4"/>
<line x1="168.85" y1="608.25" x2="168.85" y2="630.25" stroke="#0a0a0a" stroke-width="1.2"/>
<line x1="166.75" y1="608.25" x2="170.95" y2="608.25" stroke="#0a0a0a" stroke-width="1.4"/>
<line x1="166.75" y1="630.25" x2="170.95" y2="630.25" stroke="#0a0a0a" stroke-width="1.4"/>
<line x1="176.00" y1="609.50" x2="176.00" y2="631.50" stroke="#0a0a0a" stroke-width="1.2"/>
<line x1="173.90" y1="609.50" x2="178.10" y2="609.50" stroke="#0a0a0a" stroke-width="1.4"/>
<line x1="173.90" y1="631.50" x2="178.10" y2="631.50" stroke="#0a0a0a" stroke-width="1.4"/>
<line x1="183.15" y1="609.80" x2="183.15" y2="631.80" stroke="#0a0a0a" stroke-width="1.2"/>
<line x1="181.05" y1="609.80" x2="185.25" y2="609.80" stroke="#0a0a0a" stroke-width="1.4"/>
<line x1="181.05" y1="631.80" x2="185.25" y2="631.80" stroke="#0a0a0a" stroke-width="1.4"/>
<line x1="190.30" y1="611.00" x2="190.30" y2="633.00" stroke="#0a0a0a" stroke-width="1.2"/>
<line x1="188.20" y1="611.00" x2="192.40" y2="611.00" stroke="#0a0a0a" stroke-width="1.4"/>
<line x1="188.20" y1="633.00" x2="192.40" y2="633.00" stroke="#0a0a0a" stroke-width="1.4"/>
<line x1="197.45" y1="612.30" x2="197.45" y2="634.30" stroke="#0a0a0a" stroke-width="1.2"/>
<line x1="195.35" y1="612.30" x2="199.55" y2="612.30" stroke="#0a0a0a" stroke-width="1.4"/>
<line x1="195.35" y1="634.30" x2="199.55" y2="634.30" stroke="#0a0a0a" stroke-width="1.4"/>
<line x1="204.60" y1="612.70" x2="204.60" y2="634.70" stroke="#0a0a0a" stroke-width="1.2"/>
<line x1="202.50" y1="612.70" x2="206.70" y2="612.70" stroke="#0a0a0a" stroke-width="1.4"/>
<line x1="202.50" y1="634.70" x2="206.70" y2="634.70" stroke="#0a0a0a" stroke-width="1.4"/>
<line x1="211.75" y1="614.30" x2="211.75" y2="636.30" stroke="#0a0a0a" stroke-width="1.2"/>
<line x1="209.65" y1="614.30" x2="213.85" y2="614.30" stroke="#0a0a0a" stroke-width="1.4"/>
<line x1="209.65" y1="636.30" x2="213.85" y2="636.30" stroke="#0a0a0a" stroke-width="1.4"/>
<polyline points="61.60,628.80 97.35,592.20 104.50,592.50 111.65,593.75 118.80,594.25 125.95,594.25 133.10,595.00 140.25,596.25 147.40,596.25 154.55,596.75 161.70,597.00 168.85,598.75 176.00,597.50 183.15,597.80 190.30,599.50 197.45,600.30 204.60,600.30 211.75,600.80" fill="none" stroke="#2c4f8c" stroke-width="1.9"/>
<rect x="59.6" y="626.8" width="4" height="4" fill="#2c4f8c"/>
<rect x="95.3" y="590.2" width="4" height="4" fill="#2c4f8c"/>
<rect x="102.5" y="590.5" width="4" height="4" fill="#2c4f8c"/>
<rect x="109.6" y="591.8" width="4" height="4" fill="#2c4f8c"/>
<rect x="116.8" y="592.2" width="4" height="4" fill="#2c4f8c"/>
<rect x="123.9" y="592.2" width="4" height="4" fill="#2c4f8c"/>
<rect x="131.1" y="593" width="4" height="4" fill="#2c4f8c"/>
<rect x="138.2" y="594.2" width="4" height="4" fill="#2c4f8c"/>
<rect x="145.4" y="594.2" width="4" height="4" fill="#2c4f8c"/>
<rect x="152.5" y="594.8" width="4" height="4" fill="#2c4f8c"/>
<rect x="159.7" y="595" width="4" height="4" fill="#2c4f8c"/>
<rect x="166.8" y="596.8" width="4" height="4" fill="#2c4f8c"/>
<rect x="174" y="595.5" width="4" height="4" fill="#2c4f8c"/>
<rect x="181.1" y="595.8" width="4" height="4" fill="#2c4f8c"/>
<rect x="188.3" y="597.5" width="4" height="4" fill="#2c4f8c"/>
<rect x="195.4" y="598.3" width="4" height="4" fill="#2c4f8c"/>
<rect x="202.6" y="598.3" width="4" height="4" fill="#2c4f8c"/>
<rect x="209.7" y="598.8" width="4" height="4" fill="#2c4f8c"/>
<polyline points="61.60,646.40 97.35,610.30 104.50,610.00 111.65,612.50 118.80,613.75 125.95,614.25 133.10,615.50 140.25,617.00 147.40,618.00 154.55,618.75 161.70,620.00 168.85,619.25 176.00,620.50 183.15,620.80 190.30,622.00 197.45,623.30 204.60,623.70 211.75,625.30" fill="none" stroke="#b3163a" stroke-width="1.9"/>
<circle cx="61.60" cy="646.40" r="2.2" fill="#b3163a"/>
<circle cx="97.35" cy="610.30" r="2.2" fill="#b3163a"/>
<circle cx="104.50" cy="610.00" r="2.2" fill="#b3163a"/>
<circle cx="111.65" cy="612.50" r="2.2" fill="#b3163a"/>
<circle cx="118.80" cy="613.75" r="2.2" fill="#b3163a"/>
<circle cx="125.95" cy="614.25" r="2.2" fill="#b3163a"/>
<circle cx="133.10" cy="615.50" r="2.2" fill="#b3163a"/>
<circle cx="140.25" cy="617.00" r="2.2" fill="#b3163a"/>
<circle cx="147.40" cy="618.00" r="2.2" fill="#b3163a"/>
<circle cx="154.55" cy="618.75" r="2.2" fill="#b3163a"/>
<circle cx="161.70" cy="620.00" r="2.2" fill="#b3163a"/>
<circle cx="168.85" cy="619.25" r="2.2" fill="#b3163a"/>
<circle cx="176.00" cy="620.50" r="2.2" fill="#b3163a"/>
<circle cx="183.15" cy="620.80" r="2.2" fill="#b3163a"/>
<circle cx="190.30" cy="622.00" r="2.2" fill="#b3163a"/>
<circle cx="197.45" cy="623.30" r="2.2" fill="#b3163a"/>
<circle cx="204.60" cy="623.70" r="2.2" fill="#b3163a"/>
<circle cx="211.75" cy="625.30" r="2.2" fill="#b3163a"/>
<line x1="63.40" y1="526.10" x2="80.80" y2="526.10" stroke="#b3163a" stroke-width="1.6"/>
<circle cx="72.00" cy="526.1" r="2.1" fill="#b3163a"/>
<line x1="63.40" y1="538.40" x2="80.80" y2="538.40" stroke="#2c4f8c" stroke-width="1.6"/>
<rect x="70" y="536.4" width="4" height="4" fill="#2c4f8c"/>
<text x="83.80" y="528.90" font-size="7.8" text-anchor="start" fill="#111" stroke="#111" stroke-width="0.1">HNF1A</text>
<text x="110.27" y="526.40" font-size="5.148" text-anchor="start" fill="#111" stroke="#111" stroke-width="0.1">+/+</text>
<text x="119.20" y="528.90" font-size="7.8" text-anchor="start" fill="#111" stroke="#111" stroke-width="0.1">+ Vehicle</text>
<text x="83.80" y="541.30" font-size="7.8" text-anchor="start" fill="#111" stroke="#111" stroke-width="0.1">HNF1A</text>
<text x="110.27" y="538.80" font-size="5.148" text-anchor="start" fill="#111" stroke="#111" stroke-width="0.1">+/+</text>
<text x="119.20" y="541.30" font-size="7.8" text-anchor="start" fill="#111" stroke="#111" stroke-width="0.1">+ Carboxyeosin (10µM)</text>
<text x="61.20" y="566.60" font-size="6.8" text-anchor="start" fill="#111" stroke="#111" stroke-width="0.1">Ionomycin</text>
<line x1="64.60" y1="571.50" x2="64.60" y2="592.60" stroke="#0a0a0a" stroke-width="1.2"/>
<path d="M61.80,592.10 L67.40,592.10 L64.60,598.60 Z" fill="#0a0a0a"/>
<text x="0.00" y="0.00" font-size="10.6" text-anchor="middle" fill="#111" stroke="#111" stroke-width="0.1" transform="translate(140.30,710.90) scale(0.85,1)">Time (sec)</text>
<text x="0.00" y="0.00" font-size="9.9" text-anchor="middle" fill="#111" stroke="#111" stroke-width="0.1" transform="translate(31.00,601.00) rotate(-90) scale(0.97,1)">Ratio alteration of fura red (%)</text>
<line x1="275.00" y1="524.50" x2="275.00" y2="676.70" stroke="#0a0a0a" stroke-width="1.4"/>
<line x1="274.30" y1="676.00" x2="438.70" y2="676.00" stroke="#0a0a0a" stroke-width="1.4"/>
<line x1="271.80" y1="676.03" x2="275.00" y2="676.03" stroke="#0a0a0a" stroke-width="1.2"/>
<text x="268.00" y="679.13" font-size="8.4" text-anchor="end" fill="#111" stroke="#111" stroke-width="0.1">90</text>
<line x1="271.80" y1="646.40" x2="275.00" y2="646.40" stroke="#0a0a0a" stroke-width="1.2"/>
<text x="268.00" y="649.50" font-size="8.4" text-anchor="end" fill="#111" stroke="#111" stroke-width="0.1">100</text>
<line x1="271.80" y1="616.77" x2="275.00" y2="616.77" stroke="#0a0a0a" stroke-width="1.2"/>
<text x="268.00" y="619.87" font-size="8.4" text-anchor="end" fill="#111" stroke="#111" stroke-width="0.1">110</text>
<line x1="271.80" y1="587.14" x2="275.00" y2="587.14" stroke="#0a0a0a" stroke-width="1.2"/>
<text x="268.00" y="590.24" font-size="8.4" text-anchor="end" fill="#111" stroke="#111" stroke-width="0.1">120</text>
<line x1="271.80" y1="557.51" x2="275.00" y2="557.51" stroke="#0a0a0a" stroke-width="1.2"/>
<text x="268.00" y="560.61" font-size="8.4" text-anchor="end" fill="#111" stroke="#111" stroke-width="0.1">130</text>
<line x1="271.80" y1="527.88" x2="275.00" y2="527.88" stroke="#0a0a0a" stroke-width="1.2"/>
<text x="268.00" y="530.98" font-size="8.4" text-anchor="end" fill="#111" stroke="#111" stroke-width="0.1">140</text>
<line x1="278.00" y1="676.00" x2="278.00" y2="679.40" stroke="#0a0a0a" stroke-width="1.1"/>
<text x="0.00" y="0.00" font-size="8.4" text-anchor="end" fill="#111" stroke="#111" stroke-width="0.1" transform="translate(283.30,686.30) rotate(-45)">0</text>
<line x1="313.75" y1="676.00" x2="313.75" y2="679.40" stroke="#0a0a0a" stroke-width="1.1"/>
<text x="0.00" y="0.00" font-size="8.4" text-anchor="end" fill="#111" stroke="#111" stroke-width="0.1" transform="translate(319.05,686.30) rotate(-45)">35</text>
<line x1="328.05" y1="676.00" x2="328.05" y2="679.40" stroke="#0a0a0a" stroke-width="1.1"/>
<text x="0.00" y="0.00" font-size="8.4" text-anchor="end" fill="#111" stroke="#111" stroke-width="0.1" transform="translate(333.35,686.30) rotate(-45)">49</text>
<line x1="342.35" y1="676.00" x2="342.35" y2="679.40" stroke="#0a0a0a" stroke-width="1.1"/>
<text x="0.00" y="0.00" font-size="8.4" text-anchor="end" fill="#111" stroke="#111" stroke-width="0.1" transform="translate(347.65,686.30) rotate(-45)">63</text>
<line x1="356.65" y1="676.00" x2="356.65" y2="679.40" stroke="#0a0a0a" stroke-width="1.1"/>
<text x="0.00" y="0.00" font-size="8.4" text-anchor="end" fill="#111" stroke="#111" stroke-width="0.1" transform="translate(361.95,686.30) rotate(-45)">77</text>
<line x1="370.95" y1="676.00" x2="370.95" y2="679.40" stroke="#0a0a0a" stroke-width="1.1"/>
<text x="0.00" y="0.00" font-size="8.4" text-anchor="end" fill="#111" stroke="#111" stroke-width="0.1" transform="translate(376.25,686.30) rotate(-45)">91</text>
<line x1="385.25" y1="676.00" x2="385.25" y2="679.40" stroke="#0a0a0a" stroke-width="1.1"/>
<text x="0.00" y="0.00" font-size="8.4" text-anchor="end" fill="#111" stroke="#111" stroke-width="0.1" transform="translate(390.55,686.30) rotate(-45)">105</text>
<line x1="399.55" y1="676.00" x2="399.55" y2="679.40" stroke="#0a0a0a" stroke-width="1.1"/>
<text x="0.00" y="0.00" font-size="8.4" text-anchor="end" fill="#111" stroke="#111" stroke-width="0.1" transform="translate(404.85,686.30) rotate(-45)">119</text>
<line x1="413.85" y1="676.00" x2="413.85" y2="679.40" stroke="#0a0a0a" stroke-width="1.1"/>
<text x="0.00" y="0.00" font-size="8.4" text-anchor="end" fill="#111" stroke="#111" stroke-width="0.1" transform="translate(419.15,686.30) rotate(-45)">133</text>
<line x1="428.15" y1="676.00" x2="428.15" y2="679.40" stroke="#0a0a0a" stroke-width="1.1"/>
<text x="0.00" y="0.00" font-size="8.4" text-anchor="end" fill="#111" stroke="#111" stroke-width="0.1" transform="translate(433.45,686.30) rotate(-45)">147</text>
<line x1="278.00" y1="630.90" x2="278.00" y2="640.10" stroke="#0a0a0a" stroke-width="1.2"/>
<line x1="275.90" y1="630.90" x2="280.10" y2="630.90" stroke="#0a0a0a" stroke-width="1.4"/>
<line x1="275.90" y1="640.10" x2="280.10" y2="640.10" stroke="#0a0a0a" stroke-width="1.4"/>
<line x1="313.75" y1="562.25" x2="313.75" y2="573.75" stroke="#0a0a0a" stroke-width="1.2"/>
<line x1="311.65" y1="562.25" x2="315.85" y2="562.25" stroke="#0a0a0a" stroke-width="1.4"/>
<line x1="311.65" y1="573.75" x2="315.85" y2="573.75" stroke="#0a0a0a" stroke-width="1.4"/>
<line x1="320.90" y1="562.00" x2="320.90" y2="575.00" stroke="#0a0a0a" stroke-width="1.2"/>
<line x1="318.80" y1="562.00" x2="323.00" y2="562.00" stroke="#0a0a0a" stroke-width="1.4"/>
<line x1="318.80" y1="575.00" x2="323.00" y2="575.00" stroke="#0a0a0a" stroke-width="1.4"/>
<line x1="328.05" y1="563.00" x2="328.05" y2="575.00" stroke="#0a0a0a" stroke-width="1.2"/>
<line x1="325.95" y1="563.00" x2="330.15" y2="563.00" stroke="#0a0a0a" stroke-width="1.4"/>
<line x1="325.95" y1="575.00" x2="330.15" y2="575.00" stroke="#0a0a0a" stroke-width="1.4"/>
<line x1="335.20" y1="562.50" x2="335.20" y2="575.50" stroke="#0a0a0a" stroke-width="1.2"/>
<line x1="333.10" y1="562.50" x2="337.30" y2="562.50" stroke="#0a0a0a" stroke-width="1.4"/>
<line x1="333.10" y1="575.50" x2="337.30" y2="575.50" stroke="#0a0a0a" stroke-width="1.4"/>
<line x1="342.35" y1="560.50" x2="342.35" y2="577.50" stroke="#0a0a0a" stroke-width="1.2"/>
<line x1="340.25" y1="560.50" x2="344.45" y2="560.50" stroke="#0a0a0a" stroke-width="1.4"/>
<line x1="340.25" y1="577.50" x2="344.45" y2="577.50" stroke="#0a0a0a" stroke-width="1.4"/>
<line x1="349.50" y1="559.50" x2="349.50" y2="580.50" stroke="#0a0a0a" stroke-width="1.2"/>
<line x1="347.40" y1="559.50" x2="351.60" y2="559.50" stroke="#0a0a0a" stroke-width="1.4"/>
<line x1="347.40" y1="580.50" x2="351.60" y2="580.50" stroke="#0a0a0a" stroke-width="1.4"/>
<line x1="356.65" y1="559.55" x2="356.65" y2="581.25" stroke="#0a0a0a" stroke-width="1.2"/>
<line x1="354.55" y1="559.55" x2="358.75" y2="559.55" stroke="#0a0a0a" stroke-width="1.4"/>
<line x1="354.55" y1="581.25" x2="358.75" y2="581.25" stroke="#0a0a0a" stroke-width="1.4"/>
<line x1="363.80" y1="562.50" x2="363.80" y2="579.50" stroke="#0a0a0a" stroke-width="1.2"/>
<line x1="361.70" y1="562.50" x2="365.90" y2="562.50" stroke="#0a0a0a" stroke-width="1.4"/>
<line x1="361.70" y1="579.50" x2="365.90" y2="579.50" stroke="#0a0a0a" stroke-width="1.4"/>
<line x1="370.95" y1="563.25" x2="370.95" y2="578.75" stroke="#0a0a0a" stroke-width="1.2"/>
<line x1="368.85" y1="563.25" x2="373.05" y2="563.25" stroke="#0a0a0a" stroke-width="1.4"/>
<line x1="368.85" y1="578.75" x2="373.05" y2="578.75" stroke="#0a0a0a" stroke-width="1.4"/>
<line x1="378.10" y1="563.50" x2="378.10" y2="579.50" stroke="#0a0a0a" stroke-width="1.2"/>
<line x1="376.00" y1="563.50" x2="380.20" y2="563.50" stroke="#0a0a0a" stroke-width="1.4"/>
<line x1="376.00" y1="579.50" x2="380.20" y2="579.50" stroke="#0a0a0a" stroke-width="1.4"/>
<line x1="385.25" y1="564.25" x2="385.25" y2="578.75" stroke="#0a0a0a" stroke-width="1.2"/>
<line x1="383.15" y1="564.25" x2="387.35" y2="564.25" stroke="#0a0a0a" stroke-width="1.4"/>
<line x1="383.15" y1="578.75" x2="387.35" y2="578.75" stroke="#0a0a0a" stroke-width="1.4"/>
<line x1="392.40" y1="562.80" x2="392.40" y2="578.00" stroke="#0a0a0a" stroke-width="1.2"/>
<line x1="390.30" y1="562.80" x2="394.50" y2="562.80" stroke="#0a0a0a" stroke-width="1.4"/>
<line x1="390.30" y1="578.00" x2="394.50" y2="578.00" stroke="#0a0a0a" stroke-width="1.4"/>
<line x1="399.55" y1="564.50" x2="399.55" y2="577.50" stroke="#0a0a0a" stroke-width="1.2"/>
<line x1="397.45" y1="564.50" x2="401.65" y2="564.50" stroke="#0a0a0a" stroke-width="1.4"/>
<line x1="397.45" y1="577.50" x2="401.65" y2="577.50" stroke="#0a0a0a" stroke-width="1.4"/>
<line x1="406.70" y1="564.00" x2="406.70" y2="578.00" stroke="#0a0a0a" stroke-width="1.2"/>
<line x1="404.60" y1="564.00" x2="408.80" y2="564.00" stroke="#0a0a0a" stroke-width="1.4"/>
<line x1="404.60" y1="578.00" x2="408.80" y2="578.00" stroke="#0a0a0a" stroke-width="1.4"/>
<line x1="413.85" y1="563.80" x2="413.85" y2="577.00" stroke="#0a0a0a" stroke-width="1.2"/>
<line x1="411.75" y1="563.80" x2="415.95" y2="563.80" stroke="#0a0a0a" stroke-width="1.4"/>
<line x1="411.75" y1="577.00" x2="415.95" y2="577.00" stroke="#0a0a0a" stroke-width="1.4"/>
<line x1="421.00" y1="563.00" x2="421.00" y2="577.00" stroke="#0a0a0a" stroke-width="1.2"/>
<line x1="418.90" y1="563.00" x2="423.10" y2="563.00" stroke="#0a0a0a" stroke-width="1.4"/>
<line x1="418.90" y1="577.00" x2="423.10" y2="577.00" stroke="#0a0a0a" stroke-width="1.4"/>
<line x1="428.15" y1="563.80" x2="428.15" y2="577.00" stroke="#0a0a0a" stroke-width="1.2"/>
<line x1="426.05" y1="563.80" x2="430.25" y2="563.80" stroke="#0a0a0a" stroke-width="1.4"/>
<line x1="426.05" y1="577.00" x2="430.25" y2="577.00" stroke="#0a0a0a" stroke-width="1.4"/>
<line x1="313.75" y1="553.75" x2="313.75" y2="573.25" stroke="#0a0a0a" stroke-width="1.2"/>
<line x1="311.65" y1="553.75" x2="315.85" y2="553.75" stroke="#0a0a0a" stroke-width="1.4"/>
<line x1="311.65" y1="573.25" x2="315.85" y2="573.25" stroke="#0a0a0a" stroke-width="1.4"/>
<line x1="320.90" y1="553.75" x2="320.90" y2="573.85" stroke="#0a0a0a" stroke-width="1.2"/>
<line x1="318.80" y1="553.75" x2="323.00" y2="553.75" stroke="#0a0a0a" stroke-width="1.4"/>
<line x1="318.80" y1="573.85" x2="323.00" y2="573.85" stroke="#0a0a0a" stroke-width="1.4"/>
<line x1="328.05" y1="552.50" x2="328.05" y2="575.30" stroke="#0a0a0a" stroke-width="1.2"/>
<line x1="325.95" y1="552.50" x2="330.15" y2="552.50" stroke="#0a0a0a" stroke-width="1.4"/>
<line x1="325.95" y1="575.30" x2="330.15" y2="575.30" stroke="#0a0a0a" stroke-width="1.4"/>
<line x1="335.20" y1="552.50" x2="335.20" y2="575.50" stroke="#0a0a0a" stroke-width="1.2"/>
<line x1="333.10" y1="552.50" x2="337.30" y2="552.50" stroke="#0a0a0a" stroke-width="1.4"/>
<line x1="333.10" y1="575.50" x2="337.30" y2="575.50" stroke="#0a0a0a" stroke-width="1.4"/>
<line x1="342.35" y1="552.00" x2="342.35" y2="574.60" stroke="#0a0a0a" stroke-width="1.2"/>
<line x1="340.25" y1="552.00" x2="344.45" y2="552.00" stroke="#0a0a0a" stroke-width="1.4"/>
<line x1="340.25" y1="574.60" x2="344.45" y2="574.60" stroke="#0a0a0a" stroke-width="1.4"/>
<line x1="349.50" y1="553.75" x2="349.50" y2="573.85" stroke="#0a0a0a" stroke-width="1.2"/>
<line x1="347.40" y1="553.75" x2="351.60" y2="553.75" stroke="#0a0a0a" stroke-width="1.4"/>
<line x1="347.40" y1="573.85" x2="351.60" y2="573.85" stroke="#0a0a0a" stroke-width="1.4"/>
<line x1="356.65" y1="555.00" x2="356.65" y2="573.40" stroke="#0a0a0a" stroke-width="1.2"/>
<line x1="354.55" y1="555.00" x2="358.75" y2="555.00" stroke="#0a0a0a" stroke-width="1.4"/>
<line x1="354.55" y1="573.40" x2="358.75" y2="573.40" stroke="#0a0a0a" stroke-width="1.4"/>
<line x1="363.80" y1="555.50" x2="363.80" y2="574.90" stroke="#0a0a0a" stroke-width="1.2"/>
<line x1="361.70" y1="555.50" x2="365.90" y2="555.50" stroke="#0a0a0a" stroke-width="1.4"/>
<line x1="361.70" y1="574.90" x2="365.90" y2="574.90" stroke="#0a0a0a" stroke-width="1.4"/>
<line x1="370.95" y1="555.50" x2="370.95" y2="576.10" stroke="#0a0a0a" stroke-width="1.2"/>
<line x1="368.85" y1="555.50" x2="373.05" y2="555.50" stroke="#0a0a0a" stroke-width="1.4"/>
<line x1="368.85" y1="576.10" x2="373.05" y2="576.10" stroke="#0a0a0a" stroke-width="1.4"/>
<line x1="378.10" y1="555.50" x2="378.10" y2="576.90" stroke="#0a0a0a" stroke-width="1.2"/>
<line x1="376.00" y1="555.50" x2="380.20" y2="555.50" stroke="#0a0a0a" stroke-width="1.4"/>
<line x1="376.00" y1="576.90" x2="380.20" y2="576.90" stroke="#0a0a0a" stroke-width="1.4"/>
<line x1="385.25" y1="555.00" x2="385.25" y2="576.60" stroke="#0a0a0a" stroke-width="1.2"/>
<line x1="383.15" y1="555.00" x2="387.35" y2="555.00" stroke="#0a0a0a" stroke-width="1.4"/>
<line x1="383.15" y1="576.60" x2="387.35" y2="576.60" stroke="#0a0a0a" stroke-width="1.4"/>
<line x1="392.40" y1="552.00" x2="392.40" y2="576.40" stroke="#0a0a0a" stroke-width="1.2"/>
<line x1="390.30" y1="552.00" x2="394.50" y2="552.00" stroke="#0a0a0a" stroke-width="1.4"/>
<line x1="390.30" y1="576.40" x2="394.50" y2="576.40" stroke="#0a0a0a" stroke-width="1.4"/>
<line x1="399.55" y1="553.75" x2="399.55" y2="576.65" stroke="#0a0a0a" stroke-width="1.2"/>
<line x1="397.45" y1="553.75" x2="401.65" y2="553.75" stroke="#0a0a0a" stroke-width="1.4"/>
<line x1="397.45" y1="576.65" x2="401.65" y2="576.65" stroke="#0a0a0a" stroke-width="1.4"/>
<line x1="406.70" y1="555.50" x2="406.70" y2="576.90" stroke="#0a0a0a" stroke-width="1.2"/>
<line x1="404.60" y1="555.50" x2="408.80" y2="555.50" stroke="#0a0a0a" stroke-width="1.4"/>
<line x1="404.60" y1="576.90" x2="408.80" y2="576.90" stroke="#0a0a0a" stroke-width="1.4"/>
<line x1="413.85" y1="557.00" x2="413.85" y2="577.20" stroke="#0a0a0a" stroke-width="1.2"/>
<line x1="411.75" y1="557.00" x2="415.95" y2="557.00" stroke="#0a0a0a" stroke-width="1.4"/>
<line x1="411.75" y1="577.20" x2="415.95" y2="577.20" stroke="#0a0a0a" stroke-width="1.4"/>
<line x1="421.00" y1="558.75" x2="421.00" y2="579.25" stroke="#0a0a0a" stroke-width="1.2"/>
<line x1="418.90" y1="558.75" x2="423.10" y2="558.75" stroke="#0a0a0a" stroke-width="1.4"/>
<line x1="418.90" y1="579.25" x2="423.10" y2="579.25" stroke="#0a0a0a" stroke-width="1.4"/>
<line x1="428.15" y1="555.50" x2="428.15" y2="579.90" stroke="#0a0a0a" stroke-width="1.2"/>
<line x1="426.05" y1="555.50" x2="430.25" y2="555.50" stroke="#0a0a0a" stroke-width="1.4"/>
<line x1="426.05" y1="579.90" x2="430.25" y2="579.90" stroke="#0a0a0a" stroke-width="1.4"/>
<polyline points="278.00,635.50 313.75,568.00 320.90,568.50 328.05,569.00 335.20,569.00 342.35,569.00 349.50,570.00 356.65,570.40 363.80,571.00 370.95,571.00 378.10,571.50 385.25,571.50 392.40,570.40 399.55,571.00 406.70,571.00 413.85,570.40 421.00,570.00 428.15,570.40" fill="none" stroke="#2c4f8c" stroke-width="1.9"/>
<rect x="276" y="633.5" width="4" height="4" fill="#2c4f8c"/>
<rect x="311.7" y="566" width="4" height="4" fill="#2c4f8c"/>
<rect x="318.9" y="566.5" width="4" height="4" fill="#2c4f8c"/>
<rect x="326" y="567" width="4" height="4" fill="#2c4f8c"/>
<rect x="333.2" y="567" width="4" height="4" fill="#2c4f8c"/>
<rect x="340.3" y="567" width="4" height="4" fill="#2c4f8c"/>
<rect x="347.5" y="568" width="4" height="4" fill="#2c4f8c"/>
<rect x="354.6" y="568.4" width="4" height="4" fill="#2c4f8c"/>
<rect x="361.8" y="569" width="4" height="4" fill="#2c4f8c"/>
<rect x="368.9" y="569" width="4" height="4" fill="#2c4f8c"/>
<rect x="376.1" y="569.5" width="4" height="4" fill="#2c4f8c"/>
<rect x="383.2" y="569.5" width="4" height="4" fill="#2c4f8c"/>
<rect x="390.4" y="568.4" width="4" height="4" fill="#2c4f8c"/>
<rect x="397.5" y="569" width="4" height="4" fill="#2c4f8c"/>
<rect x="404.7" y="569" width="4" height="4" fill="#2c4f8c"/>
<rect x="411.8" y="568.4" width="4" height="4" fill="#2c4f8c"/>
<rect x="419" y="568" width="4" height="4" fill="#2c4f8c"/>
<rect x="426.1" y="568.4" width="4" height="4" fill="#2c4f8c"/>
<polyline points="278.00,646.40 313.75,563.50 320.90,563.80 328.05,563.90 335.20,564.00 342.35,563.30 349.50,563.80 356.65,564.20 363.80,565.20 370.95,565.80 378.10,566.20 385.25,565.80 392.40,564.20 399.55,565.20 406.70,566.20 413.85,567.10 421.00,569.00 428.15,567.70" fill="none" stroke="#b3163a" stroke-width="1.9"/>
<circle cx="278.00" cy="646.40" r="2.2" fill="#b3163a"/>
<circle cx="313.75" cy="563.50" r="2.2" fill="#b3163a"/>
<circle cx="320.90" cy="563.80" r="2.2" fill="#b3163a"/>
<circle cx="328.05" cy="563.90" r="2.2" fill="#b3163a"/>
<circle cx="335.20" cy="564.00" r="2.2" fill="#b3163a"/>
<circle cx="342.35" cy="563.30" r="2.2" fill="#b3163a"/>
<circle cx="349.50" cy="563.80" r="2.2" fill="#b3163a"/>
<circle cx="356.65" cy="564.20" r="2.2" fill="#b3163a"/>
<circle cx="363.80" cy="565.20" r="2.2" fill="#b3163a"/>
<circle cx="370.95" cy="565.80" r="2.2" fill="#b3163a"/>
<circle cx="378.10" cy="566.20" r="2.2" fill="#b3163a"/>
<circle cx="385.25" cy="565.80" r="2.2" fill="#b3163a"/>
<circle cx="392.40" cy="564.20" r="2.2" fill="#b3163a"/>
<circle cx="399.55" cy="565.20" r="2.2" fill="#b3163a"/>
<circle cx="406.70" cy="566.20" r="2.2" fill="#b3163a"/>
<circle cx="413.85" cy="567.10" r="2.2" fill="#b3163a"/>
<circle cx="421.00" cy="569.00" r="2.2" fill="#b3163a"/>
<circle cx="428.15" cy="567.70" r="2.2" fill="#b3163a"/>
<line x1="282.60" y1="526.10" x2="300.00" y2="526.10" stroke="#b3163a" stroke-width="1.6"/>
<circle cx="291.20" cy="526.1" r="2.1" fill="#b3163a"/>
<line x1="282.60" y1="538.40" x2="300.00" y2="538.40" stroke="#2c4f8c" stroke-width="1.6"/>
<rect x="289.2" y="536.4" width="4" height="4" fill="#2c4f8c"/>
<text x="303.00" y="528.90" font-size="7.8" text-anchor="start" fill="#111" stroke="#111" stroke-width="0.1">HNF1A</text>
<text x="329.47" y="526.40" font-size="5.148" text-anchor="start" fill="#111" stroke="#111" stroke-width="0.1">-/-</text>
<text x="335.30" y="528.90" font-size="7.8" text-anchor="start" fill="#111" stroke="#111" stroke-width="0.1">+ Vehicle</text>
<text x="303.00" y="541.30" font-size="7.8" text-anchor="start" fill="#111" stroke="#111" stroke-width="0.1">HNF1A</text>
<text x="329.47" y="538.80" font-size="5.148" text-anchor="start" fill="#111" stroke="#111" stroke-width="0.1">-/-</text>
<text x="335.30" y="541.30" font-size="7.8" text-anchor="start" fill="#111" stroke="#111" stroke-width="0.1">+ Carboxyeosin (10µM)</text>
<text x="277.60" y="566.60" font-size="6.8" text-anchor="start" fill="#111" stroke="#111" stroke-width="0.1">Ionomycin</text>
<line x1="281.00" y1="571.50" x2="281.00" y2="592.60" stroke="#0a0a0a" stroke-width="1.2"/>
<path d="M278.20,592.10 L283.80,592.10 L281.00,598.60 Z" fill="#0a0a0a"/>
<text x="0.00" y="0.00" font-size="10.6" text-anchor="middle" fill="#111" stroke="#111" stroke-width="0.1" transform="translate(357.10,710.90) scale(0.85,1)">Time (sec)</text>
<text x="0.00" y="0.00" font-size="9.9" text-anchor="middle" fill="#111" stroke="#111" stroke-width="0.1" transform="translate(246.80,601.00) rotate(-90) scale(0.97,1)">Ratio alteration of fura red (%)</text>
<circle cx="125.95" cy="581.90" r="1.05" fill="#1a1a1a"/>
<circle cx="133.10" cy="582.50" r="1.05" fill="#1a1a1a"/>
<circle cx="140.25" cy="584.40" r="1.05" fill="#1a1a1a"/>
<circle cx="147.40" cy="583.80" r="1.05" fill="#1a1a1a"/>
<circle cx="154.55" cy="585.00" r="1.05" fill="#1a1a1a"/>
<circle cx="168.85" cy="586.90" r="1.05" fill="#1a1a1a"/>
<circle cx="176.00" cy="585.80" r="1.05" fill="#1a1a1a"/>
<circle cx="183.15" cy="585.00" r="1.05" fill="#1a1a1a"/>
<circle cx="204.60" cy="588.70" r="1.05" fill="#1a1a1a"/>
<circle cx="211.75" cy="588.70" r="1.05" fill="#1a1a1a"/>
<circle cx="61.60" cy="618.80" r="1.05" fill="#1a1a1a"/>
<text x="204.60" y="580.90" font-size="8.0" text-anchor="middle" fill="#222" stroke="#222" stroke-width="0.1">#</text>
<text x="211.75" y="580.90" font-size="8.0" text-anchor="middle" fill="#222" stroke="#222" stroke-width="0.1">#</text>
<text x="211.75" y="571.20" font-size="8.0" text-anchor="middle" fill="#222" stroke="#222" stroke-width="0.1">#</text>
<text x="211.75" y="561.80" font-size="8.0" text-anchor="middle" fill="#222" stroke="#222" stroke-width="0.1">#</text>
<use href="#sect" fill="#333" transform="translate(124.15,637.40) scale(0.00315,-0.00371)"/>
<use href="#sect" fill="#333" transform="translate(138.45,640.30) scale(0.00315,-0.00371)"/>
<use href="#sect" fill="#333" transform="translate(145.60,640.70) scale(0.00315,-0.00371)"/>
<use href="#sect" fill="#333" transform="translate(152.75,641.70) scale(0.00315,-0.00371)"/>
<use href="#sect" fill="#333" transform="translate(159.90,640.70) scale(0.00315,-0.00371)"/>
<use href="#sect" fill="#333" transform="translate(159.90,650.90) scale(0.00315,-0.00371)"/>
<use href="#sect" fill="#333" transform="translate(159.90,659.50) scale(0.00315,-0.00371)"/>
<use href="#sect" fill="#333" transform="translate(167.05,642.20) scale(0.00315,-0.00371)"/>
<use href="#sect" fill="#333" transform="translate(167.05,651.50) scale(0.00315,-0.00371)"/>
<use href="#sect" fill="#333" transform="translate(167.05,659.50) scale(0.00315,-0.00371)"/>
<use href="#sect" fill="#333" transform="translate(174.20,642.20) scale(0.00315,-0.00371)"/>
<use href="#sect" fill="#333" transform="translate(174.20,651.50) scale(0.00315,-0.00371)"/>
<use href="#sect" fill="#333" transform="translate(174.20,660.50) scale(0.00315,-0.00371)"/>
<use href="#sect" fill="#333" transform="translate(181.35,644.30) scale(0.00315,-0.00371)"/>
<use href="#sect" fill="#333" transform="translate(188.50,644.30) scale(0.00315,-0.00371)"/>
<use href="#sect" fill="#333" transform="translate(188.50,653.30) scale(0.00315,-0.00371)"/>
<use href="#sect" fill="#333" transform="translate(188.50,662.20) scale(0.00315,-0.00371)"/>
<use href="#sect" fill="#333" transform="translate(195.65,645.50) scale(0.00315,-0.00371)"/>
<use href="#sect" fill="#333" transform="translate(195.65,654.30) scale(0.00315,-0.00371)"/>
<use href="#sect" fill="#333" transform="translate(195.65,663.50) scale(0.00315,-0.00371)"/>
<use href="#sect" fill="#333" transform="translate(202.80,646.30) scale(0.00315,-0.00371)"/>
<use href="#sect" fill="#333" transform="translate(202.80,654.90) scale(0.00315,-0.00371)"/>
<use href="#sect" fill="#333" transform="translate(202.80,664.30) scale(0.00315,-0.00371)"/>
<use href="#sect" fill="#333" transform="translate(209.95,647.10) scale(0.00315,-0.00371)"/>
<use href="#sect" fill="#333" transform="translate(209.95,655.40) scale(0.00315,-0.00371)"/>
<use href="#sect" fill="#333" transform="translate(209.95,665.20) scale(0.00315,-0.00371)"/>
<use href="#sect" fill="#333" transform="translate(419.20,591.60) scale(0.00315,-0.00371)"/>
<rect x="0" y="0" width="520" height="1.5" fill="#000"/>
<rect x="0" y="0" width="1.5" height="721" fill="#000"/>
<rect x="518.2" y="0" width="1.8" height="721" fill="#000"/>
<rect x="0" y="719.2" width="520" height="1.8" fill="#000"/>
</g>
</svg></body></html>
